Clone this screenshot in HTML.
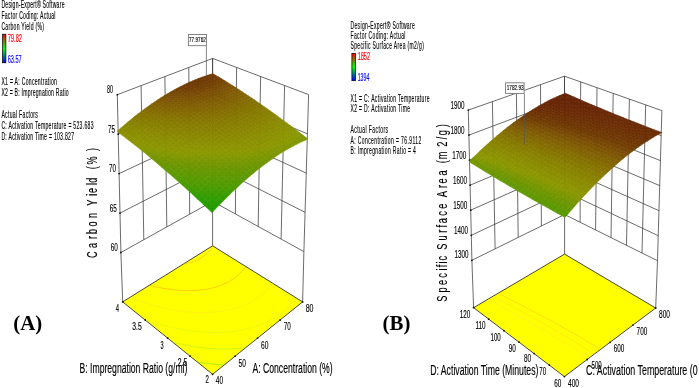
<!DOCTYPE html>
<html><head><meta charset="utf-8"><style>
html,body{margin:0;padding:0;background:#fff;width:699px;height:388px;overflow:hidden}
svg{display:block;font-family:"Liberation Sans",sans-serif;will-change:transform}
text{stroke-width:.15px}
.g{stroke:#3a3a3a;stroke-width:.75;fill:none}
.f{stroke:#555;stroke-width:.7}
</style></head><body>
<svg width="699" height="388" viewBox="0 0 699 388">
<defs><linearGradient id="cb" x1="0" y1="0" x2="0" y2="1"><stop offset="0" stop-color="#ff0000"/><stop offset=".5" stop-color="#00ff00"/><stop offset="1" stop-color="#0000ff"/></linearGradient></defs>
<rect width="699" height="388" fill="#fff"/>
<line x1="117.3" y1="94.7" x2="120.9" y2="252.5" class="g"/>
<line x1="141.1" y1="85.6" x2="143.8" y2="239.7" class="g"/>
<line x1="164.9" y1="76.5" x2="166.8" y2="226.9" class="g"/>
<line x1="188.8" y1="67.5" x2="189.7" y2="214.2" class="g"/>
<line x1="212.6" y1="58.4" x2="212.6" y2="201.4" class="g"/>
<line x1="120.9" y1="252.5" x2="212.6" y2="201.4" class="g"/>
<line x1="120" y1="213.1" x2="212.6" y2="165.7" class="g"/>
<line x1="119.1" y1="173.6" x2="212.6" y2="129.9" class="g"/>
<line x1="118.2" y1="134.1" x2="212.6" y2="94.2" class="g"/>
<line x1="117.3" y1="94.7" x2="212.6" y2="58.4" class="g"/>
<line x1="212.6" y1="58.4" x2="212.6" y2="201.4" class="g"/>
<line x1="236.6" y1="67.5" x2="235.4" y2="213.9" class="g"/>
<line x1="260.6" y1="76.5" x2="258.2" y2="226.5" class="g"/>
<line x1="284.6" y1="85.5" x2="281.1" y2="239.1" class="g"/>
<line x1="308.6" y1="94.6" x2="303.9" y2="251.6" class="g"/>
<line x1="212.6" y1="201.4" x2="303.9" y2="251.6" class="g"/>
<line x1="212.6" y1="165.7" x2="305.1" y2="212.3" class="g"/>
<line x1="212.6" y1="129.9" x2="306.2" y2="173.1" class="g"/>
<line x1="212.6" y1="94.2" x2="307.4" y2="133.8" class="g"/>
<line x1="212.6" y1="58.4" x2="308.6" y2="94.6" class="g"/>
<line x1="120.9" y1="252.5" x2="122.7" y2="301.9" class="g"/>
<line x1="212.6" y1="201.4" x2="212.6" y2="245.8" class="g"/>
<line x1="303.9" y1="251.6" x2="302.6" y2="301.9" class="g"/>
<path d="M122.7 301.9 L212.6 374.3 L302.6 301.9 L212.6 245.8 Z" fill="#ffff00" stroke="#333" stroke-width=".9"/>
<path d="M200.9 362.5L200.4 362.4M200.4 362.4L197.9 362M197.9 362L197.2 361.9M204.6 363.1L202.9 362.8M202.9 362.8L200.9 362.5M208.1 363.5L208.1 363.5M208.1 363.5L205.5 363.2M205.5 363.2L204.6 363.1M211.6 363.9L210.7 363.8M210.7 363.8L208.1 363.5M215 364.3L213.4 364.1M213.4 364.1L211.6 363.9M218.4 364.5L216.1 364.4M216.1 364.4L215 364.3M221.7 364.8L221.5 364.7M221.5 364.7L218.8 364.6M218.8 364.6L218.4 364.5M224.3 364.9L221.7 364.8" fill="none" stroke="#50e030" stroke-width=".6" stroke-opacity=".75"/>
<path d="M176.8 343.2L176.5 343.1M176.5 343.1L174.2 342.6M174.2 342.6L172.7 342.2M180.9 344.1L178.9 343.7M178.9 343.7L176.8 343.2M184.8 344.9L183.7 344.7M183.7 344.7L181.3 344.2M181.3 344.2L180.9 344.1M188.6 345.7L186.2 345.2M186.2 345.2L184.8 344.9M192.3 346.3L191.2 346.1M191.2 346.1L188.7 345.7M188.7 345.7L188.6 345.7M196 346.9L193.7 346.5M193.7 346.5L192.3 346.3M199.5 347.4L198.8 347.3M198.8 347.3L196.2 346.9M196.2 346.9L196 346.9M203 347.8L201.4 347.6M201.4 347.6L199.5 347.4M206.5 348.2L204.1 347.9M204.1 347.9L203 347.8M209.8 348.5L209.5 348.4M209.5 348.4L206.7 348.2M206.7 348.2L206.5 348.2M213.1 348.7L212.2 348.6M212.2 348.6L209.8 348.5M216.3 348.8L215 348.8M215 348.8L213.1 348.7M219.5 349L217.8 348.9M217.8 348.9L216.3 348.8M222.6 349L220.7 349M220.7 349L219.5 349M225.6 349L223.6 349M223.6 349L222.6 349M228.6 348.9L226.6 349M226.6 349L225.6 349M231.5 348.8L229.6 348.9M229.6 348.9L228.6 348.9M234.4 348.7L232.7 348.8M232.7 348.8L231.5 348.8M237.2 348.5L235.9 348.6M235.9 348.6L234.4 348.7M240 348.2L239.2 348.3M239.2 348.3L237.2 348.5M242.7 347.9L242.5 347.9M242.5 347.9L240 348.2M245.3 347.6L242.7 347.9M246 347.5L245.3 347.6" fill="none" stroke="#90ee30" stroke-width=".6" stroke-opacity=".75"/>
<path d="M149.1 321L147.7 320.5M147.7 320.5L145.6 319.7M145.6 319.7L144.3 319.3M153.8 322.5L152.1 321.9M152.1 321.9L149.9 321.2M149.9 321.2L149.1 321M158.2 323.8L156.6 323.3M156.6 323.3L154.4 322.6M154.4 322.6L153.8 322.5M162.6 325L161.2 324.7M161.2 324.7L158.9 324M158.9 324L158.2 323.8M166.8 326.2L165.8 325.9M165.8 325.9L163.5 325.3M163.5 325.3L162.6 325M170.9 327.2L170.5 327.1M170.5 327.1L168.1 326.5M168.1 326.5L166.8 326.2M174.9 328.1L172.9 327.6M172.9 327.6L170.9 327.2M178.8 328.9L177.7 328.7M177.7 328.7L175.3 328.1M175.3 328.1L174.9 328.1M182.6 329.6L180.2 329.1M180.2 329.1L178.8 328.9M186.3 330.2L185.2 330M185.2 330L182.7 329.6M182.7 329.6L182.6 329.6M189.9 330.7L187.8 330.4M187.8 330.4L186.3 330.2M193.4 331.2L192.9 331.2M192.9 331.2L190.3 330.8M190.3 330.8L189.9 330.7M196.8 331.6L195.6 331.5M195.6 331.5L193.4 331.2M200.2 331.9L198.3 331.7M198.3 331.7L196.8 331.6M203.5 332.2L201 332M201 332L200.2 331.9M206.7 332.3L206.6 332.3M206.6 332.3L203.8 332.2M203.8 332.2L203.5 332.2M209.8 332.5L209.4 332.5M209.4 332.5L206.7 332.3M212.9 332.5L212.4 332.5M212.4 332.5L209.8 332.5M215.9 332.5L215.3 332.5M215.3 332.5L212.9 332.5M218.8 332.5L218.4 332.5M218.4 332.5L215.9 332.5M221.7 332.4L221.5 332.4M221.5 332.4L218.8 332.5M224.5 332.2L221.7 332.4M227.3 332L224.7 332.2M224.7 332.2L224.5 332.2M230 331.7L228 331.9M228 331.9L227.3 332M232.7 331.4L231.4 331.6M231.4 331.6L230 331.7M235.3 331.1L234.9 331.1M234.9 331.1L232.7 331.4M237.8 330.7L235.3 331.1M240.3 330.2L238.5 330.5M238.5 330.5L237.8 330.7M242.8 329.7L242.4 329.8M242.4 329.8L240.3 330.2M245.2 329.2L242.8 329.7M247.5 328.6L246.4 328.9M246.4 328.9L245.2 329.2M249.8 328L247.5 328.6M252.1 327.4L250.7 327.8M250.7 327.8L249.8 328M254.3 326.7L252.1 327.4M256.4 326L255.4 326.3M255.4 326.3L254.3 326.7M258.5 325.2L256.4 326M260.6 324.5L258.5 325.2M262.6 323.6L260.6 324.4M260.6 324.4L260.6 324.5M264.6 322.8L262.6 323.6M266.5 321.9L264.6 322.8M268.4 321L266.9 321.7M266.9 321.7L266.5 321.9M270.3 320L268.4 321M272.1 319L270.3 320M273.8 318L272.1 319M275.6 317L273.8 318M277.2 315.9L276 316.7M276 316.7L275.6 317M278.9 314.8L277.2 315.9M280.5 313.6L278.9 314.8M282 312.5L280.5 313.6M283.5 311.3L282 312.5M285 310.1L283.5 311.3M286.4 308.8L285 310.1M287.8 307.6L286.4 308.8M289.2 306.3L287.8 307.6M289.5 305.9L289.2 306.3M289.5 305.9L290.5 305M291.7 303.6L290.5 305M292.9 302.3L291.7 303.6M294.1 300.9L292.9 302.3M295.2 299.4L294.1 300.9M295.6 298.9L295.2 299.4M295.6 298.9L296.3 298" fill="none" stroke="#d0f030" stroke-width=".6" stroke-opacity=".75"/>
<path d="M130.4 297.4L130.1 297.3M135.5 299.3L134.3 298.9M134.3 298.9L132.2 298.1M132.2 298.1L130.4 297.4M140.5 301.1L138.6 300.4M138.6 300.4L136.5 299.7M136.5 299.7L135.5 299.3M145.3 302.7L145.1 302.6M145.1 302.6L142.9 301.9M142.9 301.9L140.8 301.2M140.8 301.2L140.5 301.1M149.9 304.1L149.6 304M149.6 304L147.4 303.3M147.4 303.3L145.3 302.7M154.3 305.4L154.1 305.4M154.1 305.4L151.8 304.7M151.8 304.7L149.9 304.1M158.5 306.5L156.4 306M156.4 306L154.3 305.4M162.6 307.6L161.1 307.2M161.1 307.2L158.7 306.6M158.7 306.6L158.5 306.5M166.6 308.5L165.9 308.3M165.9 308.3L163.5 307.8M163.5 307.8L162.6 307.6M170.5 309.3L168.3 308.8M168.3 308.8L166.6 308.5M174.3 310L173.2 309.8M173.2 309.8L170.8 309.3M170.8 309.3L170.5 309.3M177.9 310.6L175.8 310.2M175.8 310.2L174.3 310M181.5 311.1L180.9 311M180.9 311L178.3 310.6M178.3 310.6L177.9 310.6M184.9 311.5L183.6 311.4M183.6 311.4L181.5 311.1M188.3 311.9L186.2 311.7M186.2 311.7L184.9 311.5M191.5 312.1L188.9 311.9M188.9 311.9L188.3 311.9M194.7 312.4L194.5 312.3M194.5 312.3L191.7 312.2M191.7 312.2L191.5 312.1M197.8 312.5L197.4 312.5M197.4 312.5L194.7 312.4M200.9 312.6L200.4 312.5M200.4 312.5L197.8 312.5M203.8 312.6L203.4 312.6M203.4 312.6L200.9 312.6M206.7 312.5L206.5 312.5M206.5 312.5L203.8 312.6M209.6 312.4L206.7 312.5M212.3 312.2L209.7 312.4M209.7 312.4L209.6 312.4M215 312L213 312.2M213 312.2L212.3 312.2M217.6 311.7L216.4 311.8M216.4 311.8L215 312M220.2 311.4L220 311.4M220 311.4L217.6 311.7M222.7 311L220.2 311.4M225.1 310.6L223.8 310.8M223.8 310.8L222.7 311M227.5 310.1L225.1 310.6M229.9 309.6L227.8 310.1M227.8 310.1L227.5 310.1M232.1 309L232.1 309M232.1 309L229.9 309.6M234.4 308.4L232.1 309M236.5 307.8L234.4 308.4M238.6 307.1L236.8 307.7M236.8 307.7L236.5 307.8M240.7 306.4L238.6 307.1M242.7 305.6L242.3 305.8M242.3 305.8L240.7 306.4M244.7 304.8L242.7 305.6M246.6 304L244.7 304.8M248.4 303.1L246.6 304M250.3 302.2L249.4 302.6M249.4 302.6L248.4 303.1M252 301.2L250.3 302.2M253.7 300.2L252 301.2M255.4 299.2L253.7 300.2M257 298.2L255.4 299.2M258.6 297.1L257 298.2M260.1 296L258.6 297.1M261.6 294.8L260.1 296M263 293.7L261.6 294.8M264.4 292.5L263 293.7M265.7 291.2L264.4 292.5M267 290L265.7 291.2M268.2 288.7L267 290M268.6 288.3L268.2 288.7M268.6 288.3L269.4 287.4M270.5 286L269.4 287.4M271.6 284.6L270.5 286M272.6 283.2L271.6 284.6" fill="none" stroke="#ffe030" stroke-width=".6" stroke-opacity=".75"/>
<path d="M150.1 285.4L149.4 285.2M154.2 286.4L154.1 286.4M154.1 286.4L151.8 285.8M151.8 285.8L150.1 285.4M158.2 287.3L156.5 286.9M156.5 286.9L154.2 286.4M162 288.1L161.4 288M161.4 288L159 287.5M159 287.5L158.2 287.3M165.7 288.7L164 288.4M164 288.4L162 288.1M169.2 289.3L169.1 289.2M169.1 289.2L166.5 288.8M166.5 288.8L165.7 288.7M172.7 289.7L171.8 289.6M171.8 289.6L169.2 289.3M176 290.1L174.5 289.9M174.5 289.9L172.7 289.7M179.2 290.3L177.2 290.2M177.2 290.2L176 290.1M182.3 290.5L180 290.4M180 290.4L179.2 290.3M185.4 290.7L182.9 290.6M182.9 290.6L182.3 290.5M188.3 290.7L185.9 290.7M185.9 290.7L185.4 290.7M191.2 290.7L189 290.7M189 290.7L188.3 290.7M194 290.6L192.2 290.6M192.2 290.6L191.2 290.7M196.7 290.4L195.5 290.5M195.5 290.5L194 290.6M199.3 290.2L198.9 290.2M198.9 290.2L196.7 290.4M201.8 289.9L199.3 290.2M204.3 289.6L202.6 289.8M202.6 289.8L201.8 289.9M206.7 289.2L206.5 289.2M206.5 289.2L204.3 289.6M209 288.7L206.7 289.2M211.3 288.2L210.7 288.4M210.7 288.4L209 288.7M213.5 287.7L211.3 288.2M215.7 287.1L215.5 287.1M215.5 287.1L213.5 287.7M217.7 286.4L215.7 287.1M219.7 285.8L217.7 286.4M221.7 285L221.4 285.1M221.4 285.1L219.7 285.8M223.6 284.2L221.7 285M225.4 283.4L223.6 284.2M227.2 282.6L225.4 283.4M228.9 281.7L227.2 282.6M230.5 280.7L228.9 281.7M232.1 279.7L231.9 279.8M231.9 279.8L230.5 280.7M233.7 278.7L232.1 279.7M235.1 277.6L233.7 278.7M235.4 277.4L235.1 277.6M235.4 277.4L236.5 276.5M237.9 275.4L236.5 276.5M239.2 274.2L237.9 275.4M240.4 273L239.2 274.2M241.6 271.8L240.4 273M242.7 270.5L241.6 271.8M243.1 270.1L242.7 270.5M243.1 270.1L243.8 269.2M244.8 267.8L243.8 269.2M245.7 266.5L244.8 267.8" fill="none" stroke="#ff8a20" stroke-width=".6" stroke-opacity=".75"/>
<path d="M184.6 263.9L183.2 264.2M186.9 263.5L184.6 263.9M189 263L187.8 263.2M187.8 263.2L186.9 263.5M191 262.4L189 263M193 261.7L191 262.4M194.9 261.1L193.6 261.5M193.6 261.5L193 261.7M196.7 260.3L194.9 261.1M198.4 259.5L196.7 260.3M200 258.7L198.4 259.5M201.6 257.7L200 258.7M203.1 256.8L201.6 257.7M204.5 255.8L203.1 256.8M205.8 254.7L204.5 255.8M207 253.6L205.8 254.7M208.2 252.4L207 253.6M208.4 252.2L208.2 252.4M208.4 252.2L209.3 251.2M210.3 250L209.3 251.2M211.2 248.7L210.3 250M211.3 248.5L211.2 248.7M211.3 248.5L212 247.3M212.8 245.9L212 247.3" fill="none" stroke="#ffa030" stroke-width=".6" stroke-opacity=".75"/>
<circle cx="190.1" cy="356.2" r=".9" fill="#111"/>
<circle cx="167.7" cy="338.1" r=".9" fill="#111"/>
<circle cx="145.2" cy="320" r=".9" fill="#111"/>
<circle cx="235.1" cy="356.2" r=".9" fill="#111"/>
<circle cx="257.6" cy="338.1" r=".9" fill="#111"/>
<circle cx="280.1" cy="320" r=".9" fill="#111"/>
<circle cx="122.7" cy="301.9" r=".9" fill="#111"/>
<circle cx="212.6" cy="374.3" r=".9" fill="#111"/>
<circle cx="302.6" cy="301.9" r=".9" fill="#111"/>
<circle cx="120.9" cy="252.5" r=".9" fill="#111"/>
<circle cx="120" cy="213.1" r=".9" fill="#111"/>
<circle cx="119.1" cy="173.6" r=".9" fill="#111"/>
<circle cx="118.2" cy="134.2" r=".9" fill="#111"/>
<circle cx="117.3" cy="94.7" r=".9" fill="#111"/>
<path d="M213 76.2 L215.8 75.4 L213 73.7 L210.1 74.5Z" fill="#6f3804" stroke="#6f3804" stroke-width=".6"/>
<path d="M210.1 77.1 L213 76.2 L210.1 74.5 L207.2 75.4Z" fill="#6f3704" stroke="#6f3704" stroke-width=".6"/>
<path d="M215.8 77.9 L218.7 77.1 L215.8 75.4 L213 76.2Z" fill="#703b04" stroke="#703b04" stroke-width=".6"/>
<path d="M207.2 78.1 L210.1 77.1 L207.2 75.4 L204.3 76.4Z" fill="#6e3704" stroke="#6e3704" stroke-width=".6"/>
<path d="M212.9 78.8 L215.8 77.9 L213 76.2 L210.1 77.1Z" fill="#703a04" stroke="#703a04" stroke-width=".6"/>
<path d="M218.7 79.7 L221.6 78.8 L218.7 77.1 L215.8 77.9Z" fill="#723f04" stroke="#723f04" stroke-width=".6"/>
<path d="M204.2 79.1 L207.2 78.1 L204.3 76.4 L201.4 77.4Z" fill="#6e3604" stroke="#6e3604" stroke-width=".6"/>
<path d="M210 79.8 L212.9 78.8 L210.1 77.1 L207.2 78.1Z" fill="#703904" stroke="#703904" stroke-width=".6"/>
<path d="M215.8 80.6 L218.7 79.7 L215.8 77.9 L212.9 78.8Z" fill="#713d04" stroke="#713d04" stroke-width=".6"/>
<path d="M221.6 81.5 L224.5 80.6 L221.6 78.8 L218.7 79.7Z" fill="#754304" stroke="#754304" stroke-width=".6"/>
<path d="M201.3 80.3 L204.2 79.1 L201.4 77.4 L198.4 78.5Z" fill="#6e3604" stroke="#6e3604" stroke-width=".6"/>
<path d="M207.1 80.9 L210 79.8 L207.2 78.1 L204.2 79.1Z" fill="#6f3904" stroke="#6f3904" stroke-width=".6"/>
<path d="M212.9 81.6 L215.8 80.6 L212.9 78.8 L210 79.8Z" fill="#713c04" stroke="#713c04" stroke-width=".6"/>
<path d="M218.7 82.4 L221.6 81.5 L218.7 79.7 L215.8 80.6Z" fill="#744104" stroke="#744104" stroke-width=".6"/>
<path d="M224.5 83.3 L227.4 82.4 L224.5 80.6 L221.6 81.5Z" fill="#774805" stroke="#774805" stroke-width=".6"/>
<path d="M198.3 81.4 L201.3 80.3 L198.4 78.5 L195.5 79.7Z" fill="#6e3604" stroke="#6e3604" stroke-width=".6"/>
<path d="M204.1 82 L207.1 80.9 L204.2 79.1 L201.3 80.3Z" fill="#6f3804" stroke="#6f3804" stroke-width=".6"/>
<path d="M210 82.7 L212.9 81.6 L210 79.8 L207.1 80.9Z" fill="#713b04" stroke="#713b04" stroke-width=".6"/>
<path d="M215.8 83.4 L218.7 82.4 L215.8 80.6 L212.9 81.6Z" fill="#734004" stroke="#734004" stroke-width=".6"/>
<path d="M221.6 84.2 L224.5 83.3 L221.6 81.5 L218.7 82.4Z" fill="#764605" stroke="#764605" stroke-width=".6"/>
<path d="M227.5 85.1 L230.3 84.2 L227.4 82.4 L224.5 83.3Z" fill="#794d05" stroke="#794d05" stroke-width=".6"/>
<path d="M195.3 82.7 L198.3 81.4 L195.5 79.7 L192.5 81Z" fill="#6e3604" stroke="#6e3604" stroke-width=".6"/>
<path d="M201.2 83.2 L204.1 82 L201.3 80.3 L198.3 81.4Z" fill="#6f3804" stroke="#6f3804" stroke-width=".6"/>
<path d="M207 83.8 L210 82.7 L207.1 80.9 L204.1 82Z" fill="#703b04" stroke="#703b04" stroke-width=".6"/>
<path d="M212.9 84.5 L215.8 83.4 L212.9 81.6 L210 82.7Z" fill="#733f04" stroke="#733f04" stroke-width=".6"/>
<path d="M218.7 85.2 L221.6 84.2 L218.7 82.4 L215.8 83.4Z" fill="#754504" stroke="#754504" stroke-width=".6"/>
<path d="M224.6 86.1 L227.5 85.1 L224.5 83.3 L221.6 84.2Z" fill="#794b05" stroke="#794b05" stroke-width=".6"/>
<path d="M230.4 87 L233.3 86.1 L230.3 84.2 L227.5 85.1Z" fill="#7b5105" stroke="#7b5105" stroke-width=".6"/>
<path d="M198.2 84.5 L201.2 83.2 L198.3 81.4 L195.3 82.7Z" fill="#6f3904" stroke="#6f3904" stroke-width=".6"/>
<path d="M204 85 L207 83.8 L204.1 82 L201.2 83.2Z" fill="#703b04" stroke="#703b04" stroke-width=".6"/>
<path d="M209.9 85.6 L212.9 84.5 L210 82.7 L207 83.8Z" fill="#723f04" stroke="#723f04" stroke-width=".6"/>
<path d="M215.8 86.3 L218.7 85.2 L215.8 83.4 L212.9 84.5Z" fill="#754404" stroke="#754404" stroke-width=".6"/>
<path d="M221.7 87.1 L224.6 86.1 L221.6 84.2 L218.7 85.2Z" fill="#784a05" stroke="#784a05" stroke-width=".6"/>
<path d="M227.6 88 L230.4 87 L227.5 85.1 L224.6 86.1Z" fill="#7b5005" stroke="#7b5005" stroke-width=".6"/>
<path d="M192.3 84 L195.3 82.7 L192.5 81 L189.4 82.3Z" fill="#6e3704" stroke="#6e3704" stroke-width=".6"/>
<path d="M233.4 88.9 L236.3 88 L233.3 86.1 L230.4 87Z" fill="#7d5504" stroke="#7d5504" stroke-width=".6"/>
<path d="M201 86.3 L204 85 L201.2 83.2 L198.2 84.5Z" fill="#713b04" stroke="#713b04" stroke-width=".6"/>
<path d="M206.9 86.9 L209.9 85.6 L207 83.8 L204 85Z" fill="#723f04" stroke="#723f04" stroke-width=".6"/>
<path d="M212.8 87.5 L215.8 86.3 L212.9 84.5 L209.9 85.6Z" fill="#754404" stroke="#754404" stroke-width=".6"/>
<path d="M218.7 88.2 L221.7 87.1 L218.7 85.2 L215.8 86.3Z" fill="#774905" stroke="#774905" stroke-width=".6"/>
<path d="M224.6 89 L227.6 88 L224.6 86.1 L221.7 87.1Z" fill="#7a4f05" stroke="#7a4f05" stroke-width=".6"/>
<path d="M189.2 85.5 L192.3 84 L189.4 82.3 L186.4 83.7Z" fill="#6f3804" stroke="#6f3804" stroke-width=".6"/>
<path d="M195.1 85.8 L198.2 84.5 L195.3 82.7 L192.3 84Z" fill="#703904" stroke="#703904" stroke-width=".6"/>
<path d="M230.5 89.9 L233.4 88.9 L230.4 87 L227.6 88Z" fill="#7c5404" stroke="#7c5404" stroke-width=".6"/>
<path d="M236.4 90.9 L239.3 89.9 L236.3 88 L233.4 88.9Z" fill="#7e5904" stroke="#7e5904" stroke-width=".6"/>
<path d="M186.2 86.9 L189.2 85.5 L186.4 83.7 L183.3 85.2Z" fill="#6f3904" stroke="#6f3904" stroke-width=".6"/>
<path d="M192.1 87.3 L195.1 85.8 L192.3 84 L189.2 85.5Z" fill="#703a04" stroke="#703a04" stroke-width=".6"/>
<path d="M198 87.7 L201 86.3 L198.2 84.5 L195.1 85.8Z" fill="#713c04" stroke="#713c04" stroke-width=".6"/>
<path d="M203.9 88.2 L206.9 86.9 L204 85 L201 86.3Z" fill="#733f04" stroke="#733f04" stroke-width=".6"/>
<path d="M209.9 88.7 L212.8 87.5 L209.9 85.6 L206.9 86.9Z" fill="#754404" stroke="#754404" stroke-width=".6"/>
<path d="M215.8 89.4 L218.7 88.2 L215.8 86.3 L212.8 87.5Z" fill="#774805" stroke="#774805" stroke-width=".6"/>
<path d="M221.7 90.1 L224.6 89 L221.7 87.1 L218.7 88.2Z" fill="#7a4e05" stroke="#7a4e05" stroke-width=".6"/>
<path d="M227.6 90.9 L230.5 89.9 L227.6 88 L224.6 89Z" fill="#7c5305" stroke="#7c5305" stroke-width=".6"/>
<path d="M233.6 91.9 L236.4 90.9 L233.4 88.9 L230.5 89.9Z" fill="#7e5804" stroke="#7e5804" stroke-width=".6"/>
<path d="M239.5 92.8 L242.3 91.9 L239.3 89.9 L236.4 90.9Z" fill="#805d03" stroke="#805d03" stroke-width=".6"/>
<path d="M183.1 88.5 L186.2 86.9 L183.3 85.2 L180.2 86.7Z" fill="#703a04" stroke="#703a04" stroke-width=".6"/>
<path d="M189 88.8 L192.1 87.3 L189.2 85.5 L186.2 86.9Z" fill="#713b04" stroke="#713b04" stroke-width=".6"/>
<path d="M195 89.1 L198 87.7 L195.1 85.8 L192.1 87.3Z" fill="#723d04" stroke="#723d04" stroke-width=".6"/>
<path d="M200.9 89.5 L203.9 88.2 L201 86.3 L198 87.7Z" fill="#734004" stroke="#734004" stroke-width=".6"/>
<path d="M206.9 90 L209.9 88.7 L206.9 86.9 L203.9 88.2Z" fill="#754404" stroke="#754404" stroke-width=".6"/>
<path d="M212.8 90.6 L215.8 89.4 L212.8 87.5 L209.9 88.7Z" fill="#774905" stroke="#774905" stroke-width=".6"/>
<path d="M218.8 91.3 L221.7 90.1 L218.7 88.2 L215.8 89.4Z" fill="#7a4e05" stroke="#7a4e05" stroke-width=".6"/>
<path d="M224.7 92.1 L227.6 90.9 L224.6 89 L221.7 90.1Z" fill="#7c5205" stroke="#7c5205" stroke-width=".6"/>
<path d="M230.7 92.9 L233.6 91.9 L230.5 89.9 L227.6 90.9Z" fill="#7d5704" stroke="#7d5704" stroke-width=".6"/>
<path d="M236.6 93.8 L239.5 92.8 L236.4 90.9 L233.6 91.9Z" fill="#7f5c04" stroke="#7f5c04" stroke-width=".6"/>
<path d="M242.5 94.9 L245.4 93.9 L242.3 91.9 L239.5 92.8Z" fill="#826103" stroke="#826103" stroke-width=".6"/>
<path d="M209.8 91.9 L212.8 90.6 L209.9 88.7 L206.9 90Z" fill="#784905" stroke="#784905" stroke-width=".6"/>
<path d="M215.8 92.6 L218.8 91.3 L215.8 89.4 L212.8 90.6Z" fill="#7a4e05" stroke="#7a4e05" stroke-width=".6"/>
<path d="M179.9 90.1 L183.1 88.5 L180.2 86.7 L177.1 88.3Z" fill="#713c04" stroke="#713c04" stroke-width=".6"/>
<path d="M185.9 90.3 L189 88.8 L186.2 86.9 L183.1 88.5Z" fill="#713d04" stroke="#713d04" stroke-width=".6"/>
<path d="M191.9 90.6 L195 89.1 L192.1 87.3 L189 88.8Z" fill="#733f04" stroke="#733f04" stroke-width=".6"/>
<path d="M197.9 91 L200.9 89.5 L198 87.7 L195 89.1Z" fill="#744204" stroke="#744204" stroke-width=".6"/>
<path d="M203.8 91.4 L206.9 90 L203.9 88.2 L200.9 89.5Z" fill="#764505" stroke="#764505" stroke-width=".6"/>
<path d="M221.8 93.3 L224.7 92.1 L221.7 90.1 L218.8 91.3Z" fill="#7b5205" stroke="#7b5205" stroke-width=".6"/>
<path d="M227.7 94 L230.7 92.9 L227.6 90.9 L224.7 92.1Z" fill="#7d5604" stroke="#7d5604" stroke-width=".6"/>
<path d="M233.7 94.9 L236.6 93.8 L233.6 91.9 L230.7 92.9Z" fill="#7f5b04" stroke="#7f5b04" stroke-width=".6"/>
<path d="M239.6 95.9 L242.5 94.9 L239.5 92.8 L236.6 93.8Z" fill="#816003" stroke="#816003" stroke-width=".6"/>
<path d="M245.6 96.9 L248.5 96 L245.4 93.9 L242.5 94.9Z" fill="#836502" stroke="#836502" stroke-width=".6"/>
<path d="M212.8 93.9 L215.8 92.6 L212.8 90.6 L209.8 91.9Z" fill="#7a4e05" stroke="#7a4e05" stroke-width=".6"/>
<path d="M176.8 91.8 L179.9 90.1 L177.1 88.3 L174 90Z" fill="#723f04" stroke="#723f04" stroke-width=".6"/>
<path d="M182.8 92 L185.9 90.3 L183.1 88.5 L179.9 90.1Z" fill="#734004" stroke="#734004" stroke-width=".6"/>
<path d="M188.8 92.2 L191.9 90.6 L189 88.8 L185.9 90.3Z" fill="#744104" stroke="#744104" stroke-width=".6"/>
<path d="M194.8 92.5 L197.9 91 L195 89.1 L191.9 90.6Z" fill="#754404" stroke="#754404" stroke-width=".6"/>
<path d="M200.8 92.9 L203.8 91.4 L200.9 89.5 L197.9 91Z" fill="#764705" stroke="#764705" stroke-width=".6"/>
<path d="M206.8 93.3 L209.8 91.9 L206.9 90 L203.8 91.4Z" fill="#784a05" stroke="#784a05" stroke-width=".6"/>
<path d="M218.8 94.5 L221.8 93.3 L218.8 91.3 L215.8 92.6Z" fill="#7b5205" stroke="#7b5205" stroke-width=".6"/>
<path d="M224.8 95.3 L227.7 94 L224.7 92.1 L221.8 93.3Z" fill="#7d5604" stroke="#7d5604" stroke-width=".6"/>
<path d="M230.8 96.1 L233.7 94.9 L230.7 92.9 L227.7 94Z" fill="#7f5a04" stroke="#7f5a04" stroke-width=".6"/>
<path d="M236.7 97 L239.6 95.9 L236.6 93.8 L233.7 94.9Z" fill="#815f03" stroke="#815f03" stroke-width=".6"/>
<path d="M242.7 97.9 L245.6 96.9 L242.5 94.9 L239.6 95.9Z" fill="#826403" stroke="#826403" stroke-width=".6"/>
<path d="M248.7 99 L251.6 98 L248.5 96 L245.6 96.9Z" fill="#836902" stroke="#836902" stroke-width=".6"/>
<path d="M173.7 93.6 L176.8 91.8 L174 90 L170.8 91.8Z" fill="#744304" stroke="#744304" stroke-width=".6"/>
<path d="M179.7 93.7 L182.8 92 L179.9 90.1 L176.8 91.8Z" fill="#754304" stroke="#754304" stroke-width=".6"/>
<path d="M185.7 93.8 L188.8 92.2 L185.9 90.3 L182.8 92Z" fill="#754404" stroke="#754404" stroke-width=".6"/>
<path d="M191.7 94.1 L194.8 92.5 L191.9 90.6 L188.8 92.2Z" fill="#764605" stroke="#764605" stroke-width=".6"/>
<path d="M197.7 94.4 L200.8 92.9 L197.9 91 L194.8 92.5Z" fill="#774805" stroke="#774805" stroke-width=".6"/>
<path d="M203.7 94.8 L206.8 93.3 L203.8 91.4 L200.8 92.9Z" fill="#794b05" stroke="#794b05" stroke-width=".6"/>
<path d="M209.8 95.3 L212.8 93.9 L209.8 91.9 L206.8 93.3Z" fill="#7a4f05" stroke="#7a4f05" stroke-width=".6"/>
<path d="M215.8 95.9 L218.8 94.5 L215.8 92.6 L212.8 93.9Z" fill="#7c5205" stroke="#7c5205" stroke-width=".6"/>
<path d="M221.8 96.5 L224.8 95.3 L221.8 93.3 L218.8 94.5Z" fill="#7d5604" stroke="#7d5604" stroke-width=".6"/>
<path d="M227.8 97.3 L230.8 96.1 L227.7 94 L224.8 95.3Z" fill="#7f5a04" stroke="#7f5a04" stroke-width=".6"/>
<path d="M233.8 98.1 L236.7 97 L233.7 94.9 L230.8 96.1Z" fill="#805e03" stroke="#805e03" stroke-width=".6"/>
<path d="M239.8 99 L242.7 97.9 L239.6 95.9 L236.7 97Z" fill="#826303" stroke="#826303" stroke-width=".6"/>
<path d="M245.8 100 L248.7 99 L245.6 96.9 L242.7 97.9Z" fill="#836802" stroke="#836802" stroke-width=".6"/>
<path d="M251.8 101.1 L254.7 100.1 L251.6 98 L248.7 99Z" fill="#846d01" stroke="#846d01" stroke-width=".6"/>
<path d="M170.5 95.5 L173.7 93.6 L170.8 91.8 L167.6 93.7Z" fill="#764705" stroke="#764705" stroke-width=".6"/>
<path d="M176.5 95.5 L179.7 93.7 L176.8 91.8 L173.7 93.6Z" fill="#764705" stroke="#764705" stroke-width=".6"/>
<path d="M182.6 95.6 L185.7 93.8 L182.8 92 L179.7 93.7Z" fill="#774805" stroke="#774805" stroke-width=".6"/>
<path d="M188.6 95.8 L191.7 94.1 L188.8 92.2 L185.7 93.8Z" fill="#774905" stroke="#774905" stroke-width=".6"/>
<path d="M194.6 96 L197.7 94.4 L194.8 92.5 L191.7 94.1Z" fill="#784b05" stroke="#784b05" stroke-width=".6"/>
<path d="M200.7 96.4 L203.7 94.8 L200.8 92.9 L197.7 94.4Z" fill="#7a4d05" stroke="#7a4d05" stroke-width=".6"/>
<path d="M206.7 96.8 L209.8 95.3 L206.8 93.3 L203.7 94.8Z" fill="#7b5005" stroke="#7b5005" stroke-width=".6"/>
<path d="M218.8 97.9 L221.8 96.5 L218.8 94.5 L215.8 95.9Z" fill="#7d5604" stroke="#7d5604" stroke-width=".6"/>
<path d="M224.8 98.6 L227.8 97.3 L224.8 95.3 L221.8 96.5Z" fill="#7f5a04" stroke="#7f5a04" stroke-width=".6"/>
<path d="M230.9 99.3 L233.8 98.1 L230.8 96.1 L227.8 97.3Z" fill="#805e03" stroke="#805e03" stroke-width=".6"/>
<path d="M236.9 100.2 L239.8 99 L236.7 97 L233.8 98.1Z" fill="#826203" stroke="#826203" stroke-width=".6"/>
<path d="M242.9 101.1 L245.8 100 L242.7 97.9 L239.8 99Z" fill="#836702" stroke="#836702" stroke-width=".6"/>
<path d="M248.9 102.2 L251.8 101.1 L248.7 99 L245.8 100Z" fill="#846b01" stroke="#846b01" stroke-width=".6"/>
<path d="M255 103.3 L257.8 102.3 L254.7 100.1 L251.8 101.1Z" fill="#857100" stroke="#857100" stroke-width=".6"/>
<path d="M212.8 97.3 L215.8 95.9 L212.8 93.9 L209.8 95.3Z" fill="#7c5305" stroke="#7c5305" stroke-width=".6"/>
<path d="M167.3 97.4 L170.5 95.5 L167.6 93.7 L164.4 95.6Z" fill="#794b05" stroke="#794b05" stroke-width=".6"/>
<path d="M173.3 97.4 L176.5 95.5 L173.7 93.6 L170.5 95.5Z" fill="#794b05" stroke="#794b05" stroke-width=".6"/>
<path d="M179.4 97.4 L182.6 95.6 L179.7 93.7 L176.5 95.5Z" fill="#794b05" stroke="#794b05" stroke-width=".6"/>
<path d="M185.5 97.5 L188.6 95.8 L185.7 93.8 L182.6 95.6Z" fill="#794c05" stroke="#794c05" stroke-width=".6"/>
<path d="M191.5 97.7 L194.6 96 L191.7 94.1 L188.6 95.8Z" fill="#7a4e05" stroke="#7a4e05" stroke-width=".6"/>
<path d="M197.6 98 L200.7 96.4 L197.7 94.4 L194.6 96Z" fill="#7b4f05" stroke="#7b4f05" stroke-width=".6"/>
<path d="M203.6 98.3 L206.7 96.8 L203.7 94.8 L200.7 96.4Z" fill="#7b5105" stroke="#7b5105" stroke-width=".6"/>
<path d="M221.8 99.9 L224.8 98.6 L221.8 96.5 L218.8 97.9Z" fill="#7f5a04" stroke="#7f5a04" stroke-width=".6"/>
<path d="M227.9 100.7 L230.9 99.3 L227.8 97.3 L224.8 98.6Z" fill="#805e03" stroke="#805e03" stroke-width=".6"/>
<path d="M233.9 101.4 L236.9 100.2 L233.8 98.1 L230.9 99.3Z" fill="#826203" stroke="#826203" stroke-width=".6"/>
<path d="M240 102.3 L242.9 101.1 L239.8 99 L236.9 100.2Z" fill="#836602" stroke="#836602" stroke-width=".6"/>
<path d="M246 103.3 L248.9 102.2 L245.8 100 L242.9 101.1Z" fill="#846b01" stroke="#846b01" stroke-width=".6"/>
<path d="M252.1 104.3 L255 103.3 L251.8 101.1 L248.9 102.2Z" fill="#846f01" stroke="#846f01" stroke-width=".6"/>
<path d="M258.1 105.5 L261 104.5 L257.8 102.3 L255 103.3Z" fill="#857400" stroke="#857400" stroke-width=".6"/>
<path d="M209.7 98.8 L212.8 97.3 L209.8 95.3 L206.7 96.8Z" fill="#7c5404" stroke="#7c5404" stroke-width=".6"/>
<path d="M215.8 99.3 L218.8 97.9 L215.8 95.9 L212.8 97.3Z" fill="#7d5704" stroke="#7d5704" stroke-width=".6"/>
<path d="M164 99.5 L167.3 97.4 L164.4 95.6 L161.2 97.6Z" fill="#7b5005" stroke="#7b5005" stroke-width=".6"/>
<path d="M170.1 99.3 L173.3 97.4 L170.5 95.5 L167.3 97.4Z" fill="#7b4f05" stroke="#7b4f05" stroke-width=".6"/>
<path d="M176.2 99.3 L179.4 97.4 L176.5 95.5 L173.3 97.4Z" fill="#7a4f05" stroke="#7a4f05" stroke-width=".6"/>
<path d="M182.3 99.3 L185.5 97.5 L182.6 95.6 L179.4 97.4Z" fill="#7b4f05" stroke="#7b4f05" stroke-width=".6"/>
<path d="M188.4 99.5 L191.5 97.7 L188.6 95.8 L185.5 97.5Z" fill="#7b5005" stroke="#7b5005" stroke-width=".6"/>
<path d="M194.5 99.7 L197.6 98 L194.6 96 L191.5 97.7Z" fill="#7b5105" stroke="#7b5105" stroke-width=".6"/>
<path d="M200.6 100 L203.6 98.3 L200.7 96.4 L197.6 98Z" fill="#7c5304" stroke="#7c5304" stroke-width=".6"/>
<path d="M206.6 100.4 L209.7 98.8 L206.7 96.8 L203.6 98.3Z" fill="#7d5504" stroke="#7d5504" stroke-width=".6"/>
<path d="M212.7 100.8 L215.8 99.3 L212.8 97.3 L209.7 98.8Z" fill="#7e5804" stroke="#7e5804" stroke-width=".6"/>
<path d="M218.8 101.4 L221.8 99.9 L218.8 97.9 L215.8 99.3Z" fill="#7f5b04" stroke="#7f5b04" stroke-width=".6"/>
<path d="M224.9 102 L227.9 100.7 L224.8 98.6 L221.8 99.9Z" fill="#805e03" stroke="#805e03" stroke-width=".6"/>
<path d="M231 102.8 L233.9 101.4 L230.9 99.3 L227.9 100.7Z" fill="#826203" stroke="#826203" stroke-width=".6"/>
<path d="M237.1 103.6 L240 102.3 L236.9 100.2 L233.9 101.4Z" fill="#836602" stroke="#836602" stroke-width=".6"/>
<path d="M243.1 104.5 L246 103.3 L242.9 101.1 L240 102.3Z" fill="#836a02" stroke="#836a02" stroke-width=".6"/>
<path d="M249.2 105.5 L252.1 104.3 L248.9 102.2 L246 103.3Z" fill="#846f01" stroke="#846f01" stroke-width=".6"/>
<path d="M255.3 106.5 L258.1 105.5 L255 103.3 L252.1 104.3Z" fill="#857300" stroke="#857300" stroke-width=".6"/>
<path d="M261.3 107.7 L264.2 106.7 L261 104.5 L258.1 105.5Z" fill="#867800" stroke="#867800" stroke-width=".6"/>
<path d="M160.8 101.6 L164 99.5 L161.2 97.6 L157.9 99.7Z" fill="#7c5404" stroke="#7c5404" stroke-width=".6"/>
<path d="M166.9 101.4 L170.1 99.3 L167.3 97.4 L164 99.5Z" fill="#7c5304" stroke="#7c5304" stroke-width=".6"/>
<path d="M173 101.3 L176.2 99.3 L173.3 97.4 L170.1 99.3Z" fill="#7c5305" stroke="#7c5305" stroke-width=".6"/>
<path d="M179.1 101.2 L182.3 99.3 L179.4 97.4 L176.2 99.3Z" fill="#7c5305" stroke="#7c5305" stroke-width=".6"/>
<path d="M185.2 101.3 L188.4 99.5 L185.5 97.5 L182.3 99.3Z" fill="#7c5305" stroke="#7c5305" stroke-width=".6"/>
<path d="M191.3 101.5 L194.5 99.7 L191.5 97.7 L188.4 99.5Z" fill="#7c5404" stroke="#7c5404" stroke-width=".6"/>
<path d="M197.4 101.7 L200.6 100 L197.6 98 L194.5 99.7Z" fill="#7d5504" stroke="#7d5504" stroke-width=".6"/>
<path d="M203.5 102 L206.6 100.4 L203.6 98.3 L200.6 100Z" fill="#7e5704" stroke="#7e5704" stroke-width=".6"/>
<path d="M209.7 102.4 L212.7 100.8 L209.7 98.8 L206.6 100.4Z" fill="#7e5904" stroke="#7e5904" stroke-width=".6"/>
<path d="M215.8 102.9 L218.8 101.4 L215.8 99.3 L212.7 100.8Z" fill="#805c04" stroke="#805c04" stroke-width=".6"/>
<path d="M221.9 103.5 L224.9 102 L221.8 99.9 L218.8 101.4Z" fill="#815f03" stroke="#815f03" stroke-width=".6"/>
<path d="M228 104.2 L231 102.8 L227.9 100.7 L224.9 102Z" fill="#826203" stroke="#826203" stroke-width=".6"/>
<path d="M234.1 104.9 L237.1 103.6 L233.9 101.4 L231 102.8Z" fill="#836602" stroke="#836602" stroke-width=".6"/>
<path d="M240.2 105.8 L243.1 104.5 L240 102.3 L237.1 103.6Z" fill="#836a02" stroke="#836a02" stroke-width=".6"/>
<path d="M246.3 106.7 L249.2 105.5 L246 103.3 L243.1 104.5Z" fill="#846e01" stroke="#846e01" stroke-width=".6"/>
<path d="M252.4 107.7 L255.3 106.5 L252.1 104.3 L249.2 105.5Z" fill="#857300" stroke="#857300" stroke-width=".6"/>
<path d="M258.5 108.8 L261.3 107.7 L258.1 105.5 L255.3 106.5Z" fill="#867700" stroke="#867700" stroke-width=".6"/>
<path d="M264.5 110 L267.4 109 L264.2 106.7 L261.3 107.7Z" fill="#877b00" stroke="#877b00" stroke-width=".6"/>
<path d="M163.6 103.5 L166.9 101.4 L164 99.5 L160.8 101.6Z" fill="#7e5704" stroke="#7e5704" stroke-width=".6"/>
<path d="M169.8 103.3 L173 101.3 L170.1 99.3 L166.9 101.4Z" fill="#7d5604" stroke="#7d5604" stroke-width=".6"/>
<path d="M175.9 103.2 L179.1 101.2 L176.2 99.3 L173 101.3Z" fill="#7d5604" stroke="#7d5604" stroke-width=".6"/>
<path d="M182 103.2 L185.2 101.3 L182.3 99.3 L179.1 101.2Z" fill="#7d5604" stroke="#7d5604" stroke-width=".6"/>
<path d="M188.2 103.3 L191.3 101.5 L188.4 99.5 L185.2 101.3Z" fill="#7d5704" stroke="#7d5704" stroke-width=".6"/>
<path d="M194.3 103.5 L197.4 101.7 L194.5 99.7 L191.3 101.5Z" fill="#7e5804" stroke="#7e5804" stroke-width=".6"/>
<path d="M231.1 106.3 L234.1 104.9 L231 102.8 L228 104.2Z" fill="#836602" stroke="#836602" stroke-width=".6"/>
<path d="M237.2 107.1 L240.2 105.8 L237.1 103.6 L234.1 104.9Z" fill="#836a02" stroke="#836a02" stroke-width=".6"/>
<path d="M243.3 108 L246.3 106.7 L243.1 104.5 L240.2 105.8Z" fill="#846e01" stroke="#846e01" stroke-width=".6"/>
<path d="M249.5 108.9 L252.4 107.7 L249.2 105.5 L246.3 106.7Z" fill="#857200" stroke="#857200" stroke-width=".6"/>
<path d="M255.6 110 L258.5 108.8 L255.3 106.5 L252.4 107.7Z" fill="#867600" stroke="#867600" stroke-width=".6"/>
<path d="M261.7 111.1 L264.5 110 L261.3 107.7 L258.5 108.8Z" fill="#877a00" stroke="#877a00" stroke-width=".6"/>
<path d="M157.5 103.8 L160.8 101.6 L157.9 99.7 L154.7 101.9Z" fill="#7e5904" stroke="#7e5904" stroke-width=".6"/>
<path d="M200.4 103.7 L203.5 102 L200.6 100 L197.4 101.7Z" fill="#7e5904" stroke="#7e5904" stroke-width=".6"/>
<path d="M206.6 104.1 L209.7 102.4 L206.6 100.4 L203.5 102Z" fill="#7f5b04" stroke="#7f5b04" stroke-width=".6"/>
<path d="M212.7 104.5 L215.8 102.9 L212.7 100.8 L209.7 102.4Z" fill="#805d03" stroke="#805d03" stroke-width=".6"/>
<path d="M218.8 105 L221.9 103.5 L218.8 101.4 L215.8 102.9Z" fill="#816003" stroke="#816003" stroke-width=".6"/>
<path d="M225 105.6 L228 104.2 L224.9 102 L221.9 103.5Z" fill="#826303" stroke="#826303" stroke-width=".6"/>
<path d="M267.8 112.3 L270.6 111.2 L267.4 109 L264.5 110Z" fill="#887e00" stroke="#887e00" stroke-width=".6"/>
<path d="M154.2 106 L157.5 103.8 L154.7 101.9 L151.4 104.1Z" fill="#805e03" stroke="#805e03" stroke-width=".6"/>
<path d="M160.3 105.7 L163.6 103.5 L160.8 101.6 L157.5 103.8Z" fill="#805c04" stroke="#805c04" stroke-width=".6"/>
<path d="M166.5 105.5 L169.8 103.3 L166.9 101.4 L163.6 103.5Z" fill="#7f5b04" stroke="#7f5b04" stroke-width=".6"/>
<path d="M172.7 105.3 L175.9 103.2 L173 101.3 L169.8 103.3Z" fill="#7f5a04" stroke="#7f5a04" stroke-width=".6"/>
<path d="M178.8 105.2 L182 103.2 L179.1 101.2 L175.9 103.2Z" fill="#7f5a04" stroke="#7f5a04" stroke-width=".6"/>
<path d="M185 105.2 L188.2 103.3 L185.2 101.3 L182 103.2Z" fill="#7f5a04" stroke="#7f5a04" stroke-width=".6"/>
<path d="M191.1 105.4 L194.3 103.5 L191.3 101.5 L188.2 103.3Z" fill="#7f5a04" stroke="#7f5a04" stroke-width=".6"/>
<path d="M234.2 108.5 L237.2 107.1 L234.1 104.9 L231.1 106.3Z" fill="#836a02" stroke="#836a02" stroke-width=".6"/>
<path d="M240.4 109.3 L243.3 108 L240.2 105.8 L237.2 107.1Z" fill="#846e01" stroke="#846e01" stroke-width=".6"/>
<path d="M246.5 110.2 L249.5 108.9 L246.3 106.7 L243.3 108Z" fill="#857200" stroke="#857200" stroke-width=".6"/>
<path d="M252.7 111.2 L255.6 110 L252.4 107.7 L249.5 108.9Z" fill="#867500" stroke="#867500" stroke-width=".6"/>
<path d="M258.8 112.2 L261.7 111.1 L258.5 108.8 L255.6 110Z" fill="#867900" stroke="#867900" stroke-width=".6"/>
<path d="M264.9 113.4 L267.8 112.3 L264.5 110 L261.7 111.1Z" fill="#877d00" stroke="#877d00" stroke-width=".6"/>
<path d="M271 114.6 L273.9 113.6 L270.6 111.2 L267.8 112.3Z" fill="#888100" stroke="#888100" stroke-width=".6"/>
<path d="M197.3 105.5 L200.4 103.7 L197.4 101.7 L194.3 103.5Z" fill="#7f5b04" stroke="#7f5b04" stroke-width=".6"/>
<path d="M203.4 105.8 L206.6 104.1 L203.5 102 L200.4 103.7Z" fill="#805d04" stroke="#805d04" stroke-width=".6"/>
<path d="M209.6 106.2 L212.7 104.5 L209.7 102.4 L206.6 104.1Z" fill="#815f03" stroke="#815f03" stroke-width=".6"/>
<path d="M215.8 106.6 L218.8 105 L215.8 102.9 L212.7 104.5Z" fill="#826103" stroke="#826103" stroke-width=".6"/>
<path d="M221.9 107.2 L225 105.6 L221.9 103.5 L218.8 105Z" fill="#826403" stroke="#826403" stroke-width=".6"/>
<path d="M228.1 107.8 L231.1 106.3 L228 104.2 L225 105.6Z" fill="#836702" stroke="#836702" stroke-width=".6"/>
<path d="M150.9 108.4 L154.2 106 L151.4 104.1 L148.1 106.5Z" fill="#826303" stroke="#826303" stroke-width=".6"/>
<path d="M157 108 L160.3 105.7 L157.5 103.8 L154.2 106Z" fill="#816103" stroke="#816103" stroke-width=".6"/>
<path d="M163.2 107.7 L166.5 105.5 L163.6 103.5 L160.3 105.7Z" fill="#815f03" stroke="#815f03" stroke-width=".6"/>
<path d="M169.4 107.5 L172.7 105.3 L169.8 103.3 L166.5 105.5Z" fill="#805e03" stroke="#805e03" stroke-width=".6"/>
<path d="M175.6 107.3 L178.8 105.2 L175.9 103.2 L172.7 105.3Z" fill="#805d03" stroke="#805d03" stroke-width=".6"/>
<path d="M181.8 107.3 L185 105.2 L182 103.2 L178.8 105.2Z" fill="#805d03" stroke="#805d03" stroke-width=".6"/>
<path d="M187.9 107.3 L191.1 105.4 L188.2 103.3 L185 105.2Z" fill="#805d03" stroke="#805d03" stroke-width=".6"/>
<path d="M194.1 107.4 L197.3 105.5 L194.3 103.5 L191.1 105.4Z" fill="#805e03" stroke="#805e03" stroke-width=".6"/>
<path d="M200.3 107.6 L203.4 105.8 L200.4 103.7 L197.3 105.5Z" fill="#815f03" stroke="#815f03" stroke-width=".6"/>
<path d="M206.5 107.9 L209.6 106.2 L206.6 104.1 L203.4 105.8Z" fill="#826103" stroke="#826103" stroke-width=".6"/>
<path d="M212.7 108.3 L215.8 106.6 L212.7 104.5 L209.6 106.2Z" fill="#826303" stroke="#826303" stroke-width=".6"/>
<path d="M218.8 108.8 L221.9 107.2 L218.8 105 L215.8 106.6Z" fill="#836502" stroke="#836502" stroke-width=".6"/>
<path d="M225 109.4 L228.1 107.8 L225 105.6 L221.9 107.2Z" fill="#836802" stroke="#836802" stroke-width=".6"/>
<path d="M231.2 110 L234.2 108.5 L231.1 106.3 L228.1 107.8Z" fill="#846b01" stroke="#846b01" stroke-width=".6"/>
<path d="M237.4 110.8 L240.4 109.3 L237.2 107.1 L234.2 108.5Z" fill="#846e01" stroke="#846e01" stroke-width=".6"/>
<path d="M243.5 111.6 L246.5 110.2 L243.3 108 L240.4 109.3Z" fill="#857200" stroke="#857200" stroke-width=".6"/>
<path d="M249.7 112.5 L252.7 111.2 L249.5 108.9 L246.5 110.2Z" fill="#857500" stroke="#857500" stroke-width=".6"/>
<path d="M255.9 113.5 L258.8 112.2 L255.6 110 L252.7 111.2Z" fill="#867900" stroke="#867900" stroke-width=".6"/>
<path d="M262 114.6 L264.9 113.4 L261.7 111.1 L258.8 112.2Z" fill="#877d00" stroke="#877d00" stroke-width=".6"/>
<path d="M268.2 115.7 L271 114.6 L267.8 112.3 L264.9 113.4Z" fill="#888000" stroke="#888000" stroke-width=".6"/>
<path d="M274.3 117 L277.2 115.9 L273.9 113.6 L271 114.6Z" fill="#898400" stroke="#898400" stroke-width=".6"/>
<path d="M147.5 110.8 L150.9 108.4 L148.1 106.5 L144.7 108.9Z" fill="#836702" stroke="#836702" stroke-width=".6"/>
<path d="M153.7 110.4 L157 108 L154.2 106 L150.9 108.4Z" fill="#836502" stroke="#836502" stroke-width=".6"/>
<path d="M159.9 110 L163.2 107.7 L160.3 105.7 L157 108Z" fill="#826403" stroke="#826403" stroke-width=".6"/>
<path d="M166.1 109.7 L169.4 107.5 L166.5 105.5 L163.2 107.7Z" fill="#826203" stroke="#826203" stroke-width=".6"/>
<path d="M172.3 109.5 L175.6 107.3 L172.7 105.3 L169.4 107.5Z" fill="#826203" stroke="#826203" stroke-width=".6"/>
<path d="M178.5 109.4 L181.8 107.3 L178.8 105.2 L175.6 107.3Z" fill="#826103" stroke="#826103" stroke-width=".6"/>
<path d="M184.7 109.3 L187.9 107.3 L185 105.2 L181.8 107.3Z" fill="#826103" stroke="#826103" stroke-width=".6"/>
<path d="M190.9 109.4 L194.1 107.4 L191.1 105.4 L187.9 107.3Z" fill="#826103" stroke="#826103" stroke-width=".6"/>
<path d="M197.1 109.5 L200.3 107.6 L197.3 105.5 L194.1 107.4Z" fill="#826203" stroke="#826203" stroke-width=".6"/>
<path d="M203.3 109.8 L206.5 107.9 L203.4 105.8 L200.3 107.6Z" fill="#826303" stroke="#826303" stroke-width=".6"/>
<path d="M209.5 110.1 L212.7 108.3 L209.6 106.2 L206.5 107.9Z" fill="#826503" stroke="#826503" stroke-width=".6"/>
<path d="M215.8 110.5 L218.8 108.8 L215.8 106.6 L212.7 108.3Z" fill="#836702" stroke="#836702" stroke-width=".6"/>
<path d="M222 111 L225 109.4 L221.9 107.2 L218.8 108.8Z" fill="#836902" stroke="#836902" stroke-width=".6"/>
<path d="M228.2 111.6 L231.2 110 L228.1 107.8 L225 109.4Z" fill="#846b01" stroke="#846b01" stroke-width=".6"/>
<path d="M234.4 112.3 L237.4 110.8 L234.2 108.5 L231.2 110Z" fill="#846f01" stroke="#846f01" stroke-width=".6"/>
<path d="M240.6 113 L243.5 111.6 L240.4 109.3 L237.4 110.8Z" fill="#857200" stroke="#857200" stroke-width=".6"/>
<path d="M246.7 113.9 L249.7 112.5 L246.5 110.2 L243.5 111.6Z" fill="#857500" stroke="#857500" stroke-width=".6"/>
<path d="M252.9 114.8 L255.9 113.5 L252.7 111.2 L249.7 112.5Z" fill="#867900" stroke="#867900" stroke-width=".6"/>
<path d="M259.1 115.8 L262 114.6 L258.8 112.2 L255.9 113.5Z" fill="#877c00" stroke="#877c00" stroke-width=".6"/>
<path d="M265.3 116.9 L268.2 115.7 L264.9 113.4 L262 114.6Z" fill="#888000" stroke="#888000" stroke-width=".6"/>
<path d="M271.5 118.1 L274.3 117 L271 114.6 L268.2 115.7Z" fill="#898300" stroke="#898300" stroke-width=".6"/>
<path d="M277.6 119.4 L280.5 118.4 L277.2 115.9 L274.3 117Z" fill="#8a8800" stroke="#8a8800" stroke-width=".6"/>
<path d="M175.3 111.5 L178.5 109.4 L175.6 107.3 L172.3 109.5Z" fill="#826503" stroke="#826503" stroke-width=".6"/>
<path d="M181.5 111.5 L184.7 109.3 L181.8 107.3 L178.5 109.4Z" fill="#826403" stroke="#826403" stroke-width=".6"/>
<path d="M243.8 115.3 L246.7 113.9 L243.5 111.6 L240.6 113Z" fill="#867500" stroke="#867500" stroke-width=".6"/>
<path d="M250 116.2 L252.9 114.8 L249.7 112.5 L246.7 113.9Z" fill="#867900" stroke="#867900" stroke-width=".6"/>
<path d="M144.2 113.3 L147.5 110.8 L144.7 108.9 L141.3 111.4Z" fill="#846c01" stroke="#846c01" stroke-width=".6"/>
<path d="M150.4 112.8 L153.7 110.4 L150.9 108.4 L147.5 110.8Z" fill="#836a02" stroke="#836a02" stroke-width=".6"/>
<path d="M156.6 112.4 L159.9 110 L157 108 L153.7 110.4Z" fill="#836802" stroke="#836802" stroke-width=".6"/>
<path d="M162.8 112 L166.1 109.7 L163.2 107.7 L159.9 110Z" fill="#836702" stroke="#836702" stroke-width=".6"/>
<path d="M169 111.7 L172.3 109.5 L169.4 107.5 L166.1 109.7Z" fill="#836502" stroke="#836502" stroke-width=".6"/>
<path d="M187.7 111.4 L190.9 109.4 L187.9 107.3 L184.7 109.3Z" fill="#826403" stroke="#826403" stroke-width=".6"/>
<path d="M193.9 111.5 L197.1 109.5 L194.1 107.4 L190.9 109.4Z" fill="#826503" stroke="#826503" stroke-width=".6"/>
<path d="M200.2 111.7 L203.3 109.8 L200.3 107.6 L197.1 109.5Z" fill="#836602" stroke="#836602" stroke-width=".6"/>
<path d="M206.4 112 L209.5 110.1 L206.5 107.9 L203.3 109.8Z" fill="#836702" stroke="#836702" stroke-width=".6"/>
<path d="M212.6 112.3 L215.8 110.5 L212.7 108.3 L209.5 110.1Z" fill="#836802" stroke="#836802" stroke-width=".6"/>
<path d="M218.9 112.7 L222 111 L218.8 108.8 L215.8 110.5Z" fill="#836a02" stroke="#836a02" stroke-width=".6"/>
<path d="M225.1 113.3 L228.2 111.6 L225 109.4 L222 111Z" fill="#846d01" stroke="#846d01" stroke-width=".6"/>
<path d="M231.3 113.9 L234.4 112.3 L231.2 110 L228.2 111.6Z" fill="#846f01" stroke="#846f01" stroke-width=".6"/>
<path d="M237.5 114.6 L240.6 113 L237.4 110.8 L234.4 112.3Z" fill="#857300" stroke="#857300" stroke-width=".6"/>
<path d="M256.2 117.2 L259.1 115.8 L255.9 113.5 L252.9 114.8Z" fill="#877c00" stroke="#877c00" stroke-width=".6"/>
<path d="M262.4 118.2 L265.3 116.9 L262 114.6 L259.1 115.8Z" fill="#887f00" stroke="#887f00" stroke-width=".6"/>
<path d="M268.6 119.4 L271.5 118.1 L268.2 115.7 L265.3 116.9Z" fill="#898300" stroke="#898300" stroke-width=".6"/>
<path d="M274.8 120.6 L277.6 119.4 L274.3 117 L271.5 118.1Z" fill="#8a8700" stroke="#8a8700" stroke-width=".6"/>
<path d="M281 121.9 L283.8 120.8 L280.5 118.4 L277.6 119.4Z" fill="#8a8a00" stroke="#8a8a00" stroke-width=".6"/>
<path d="M140.8 116 L144.2 113.3 L141.3 111.4 L137.9 114Z" fill="#857200" stroke="#857200" stroke-width=".6"/>
<path d="M147 115.3 L150.4 112.8 L147.5 110.8 L144.2 113.3Z" fill="#846f01" stroke="#846f01" stroke-width=".6"/>
<path d="M153.2 114.8 L156.6 112.4 L153.7 110.4 L150.4 112.8Z" fill="#846d01" stroke="#846d01" stroke-width=".6"/>
<path d="M159.5 114.4 L162.8 112 L159.9 110 L156.6 112.4Z" fill="#846b01" stroke="#846b01" stroke-width=".6"/>
<path d="M165.7 114.1 L169 111.7 L166.1 109.7 L162.8 112Z" fill="#836a02" stroke="#836a02" stroke-width=".6"/>
<path d="M172 113.8 L175.3 111.5 L172.3 109.5 L169 111.7Z" fill="#836902" stroke="#836902" stroke-width=".6"/>
<path d="M178.2 113.6 L181.5 111.5 L178.5 109.4 L175.3 111.5Z" fill="#836802" stroke="#836802" stroke-width=".6"/>
<path d="M247 117.7 L250 116.2 L246.7 113.9 L243.8 115.3Z" fill="#867900" stroke="#867900" stroke-width=".6"/>
<path d="M253.2 118.6 L256.2 117.2 L252.9 114.8 L250 116.2Z" fill="#877c00" stroke="#877c00" stroke-width=".6"/>
<path d="M259.5 119.6 L262.4 118.2 L259.1 115.8 L256.2 117.2Z" fill="#887f00" stroke="#887f00" stroke-width=".6"/>
<path d="M265.7 120.6 L268.6 119.4 L265.3 116.9 L262.4 118.2Z" fill="#898200" stroke="#898200" stroke-width=".6"/>
<path d="M271.9 121.8 L274.8 120.6 L271.5 118.1 L268.6 119.4Z" fill="#8a8600" stroke="#8a8600" stroke-width=".6"/>
<path d="M278.1 123.1 L281 121.9 L277.6 119.4 L274.8 120.6Z" fill="#8a8a00" stroke="#8a8a00" stroke-width=".6"/>
<path d="M284.3 124.4 L287.2 123.3 L283.8 120.8 L281 121.9Z" fill="#8b8d00" stroke="#8b8d00" stroke-width=".6"/>
<path d="M184.5 113.6 L187.7 111.4 L184.7 109.3 L181.5 111.5Z" fill="#836802" stroke="#836802" stroke-width=".6"/>
<path d="M190.7 113.6 L193.9 111.5 L190.9 109.4 L187.7 111.4Z" fill="#836802" stroke="#836802" stroke-width=".6"/>
<path d="M197 113.7 L200.2 111.7 L197.1 109.5 L193.9 111.5Z" fill="#836802" stroke="#836802" stroke-width=".6"/>
<path d="M203.2 113.9 L206.4 112 L203.3 109.8 L200.2 111.7Z" fill="#836902" stroke="#836902" stroke-width=".6"/>
<path d="M209.5 114.2 L212.6 112.3 L209.5 110.1 L206.4 112Z" fill="#836a02" stroke="#836a02" stroke-width=".6"/>
<path d="M215.7 114.5 L218.9 112.7 L215.8 110.5 L212.6 112.3Z" fill="#846c01" stroke="#846c01" stroke-width=".6"/>
<path d="M222 115 L225.1 113.3 L222 111 L218.9 112.7Z" fill="#846e01" stroke="#846e01" stroke-width=".6"/>
<path d="M228.2 115.5 L231.3 113.9 L228.2 111.6 L225.1 113.3Z" fill="#857100" stroke="#857100" stroke-width=".6"/>
<path d="M234.5 116.2 L237.5 114.6 L234.4 112.3 L231.3 113.9Z" fill="#857300" stroke="#857300" stroke-width=".6"/>
<path d="M240.7 116.9 L243.8 115.3 L240.6 113 L237.5 114.6Z" fill="#867600" stroke="#867600" stroke-width=".6"/>
<path d="M137.3 118.6 L140.8 116 L137.9 114 L134.5 116.6Z" fill="#867600" stroke="#867600" stroke-width=".6"/>
<path d="M143.6 118 L147 115.3 L144.2 113.3 L140.8 116Z" fill="#857400" stroke="#857400" stroke-width=".6"/>
<path d="M149.9 117.4 L153.2 114.8 L150.4 112.8 L147 115.3Z" fill="#857200" stroke="#857200" stroke-width=".6"/>
<path d="M156.1 116.9 L159.5 114.4 L156.6 112.4 L153.2 114.8Z" fill="#847001" stroke="#847001" stroke-width=".6"/>
<path d="M162.4 116.5 L165.7 114.1 L162.8 112 L159.5 114.4Z" fill="#846e01" stroke="#846e01" stroke-width=".6"/>
<path d="M168.7 116.2 L172 113.8 L169 111.7 L165.7 114.1Z" fill="#846d01" stroke="#846d01" stroke-width=".6"/>
<path d="M174.9 115.9 L178.2 113.6 L175.3 111.5 L172 113.8Z" fill="#846c01" stroke="#846c01" stroke-width=".6"/>
<path d="M181.2 115.8 L184.5 113.6 L181.5 111.5 L178.2 113.6Z" fill="#846b01" stroke="#846b01" stroke-width=".6"/>
<path d="M187.5 115.7 L190.7 113.6 L187.7 111.4 L184.5 113.6Z" fill="#846b01" stroke="#846b01" stroke-width=".6"/>
<path d="M193.8 115.8 L197 113.7 L193.9 111.5 L190.7 113.6Z" fill="#846b01" stroke="#846b01" stroke-width=".6"/>
<path d="M200 115.9 L203.2 113.9 L200.2 111.7 L197 113.7Z" fill="#846c01" stroke="#846c01" stroke-width=".6"/>
<path d="M206.3 116.1 L209.5 114.2 L206.4 112 L203.2 113.9Z" fill="#846d01" stroke="#846d01" stroke-width=".6"/>
<path d="M212.6 116.4 L215.7 114.5 L212.6 112.3 L209.5 114.2Z" fill="#846e01" stroke="#846e01" stroke-width=".6"/>
<path d="M218.9 116.8 L222 115 L218.9 112.7 L215.7 114.5Z" fill="#847001" stroke="#847001" stroke-width=".6"/>
<path d="M225.2 117.3 L228.2 115.5 L225.1 113.3 L222 115Z" fill="#857200" stroke="#857200" stroke-width=".6"/>
<path d="M231.4 117.8 L234.5 116.2 L231.3 113.9 L228.2 115.5Z" fill="#857400" stroke="#857400" stroke-width=".6"/>
<path d="M237.7 118.5 L240.7 116.9 L237.5 114.6 L234.5 116.2Z" fill="#867700" stroke="#867700" stroke-width=".6"/>
<path d="M244 119.2 L247 117.7 L243.8 115.3 L240.7 116.9Z" fill="#867900" stroke="#867900" stroke-width=".6"/>
<path d="M250.2 120.1 L253.2 118.6 L250 116.2 L247 117.7Z" fill="#877c00" stroke="#877c00" stroke-width=".6"/>
<path d="M256.5 121 L259.5 119.6 L256.2 117.2 L253.2 118.6Z" fill="#887f00" stroke="#887f00" stroke-width=".6"/>
<path d="M262.8 122 L265.7 120.6 L262.4 118.2 L259.5 119.6Z" fill="#898200" stroke="#898200" stroke-width=".6"/>
<path d="M269 123.1 L271.9 121.8 L268.6 119.4 L265.7 120.6Z" fill="#898600" stroke="#898600" stroke-width=".6"/>
<path d="M275.3 124.3 L278.1 123.1 L274.8 120.6 L271.9 121.8Z" fill="#8a8900" stroke="#8a8900" stroke-width=".6"/>
<path d="M281.5 125.6 L284.3 124.4 L281 121.9 L278.1 123.1Z" fill="#8b8c00" stroke="#8b8c00" stroke-width=".6"/>
<path d="M287.7 126.9 L290.6 125.8 L287.2 123.3 L284.3 124.4Z" fill="#8b8f00" stroke="#8b8f00" stroke-width=".6"/>
<path d="M133.9 121.4 L137.3 118.6 L134.5 116.6 L131.1 119.4Z" fill="#877b00" stroke="#877b00" stroke-width=".6"/>
<path d="M140.2 120.7 L143.6 118 L140.8 116 L137.3 118.6Z" fill="#867900" stroke="#867900" stroke-width=".6"/>
<path d="M146.5 120 L149.9 117.4 L147 115.3 L143.6 118Z" fill="#867600" stroke="#867600" stroke-width=".6"/>
<path d="M152.7 119.5 L156.1 116.9 L153.2 114.8 L149.9 117.4Z" fill="#857400" stroke="#857400" stroke-width=".6"/>
<path d="M159 119 L162.4 116.5 L159.5 114.4 L156.1 116.9Z" fill="#857300" stroke="#857300" stroke-width=".6"/>
<path d="M165.3 118.6 L168.7 116.2 L165.7 114.1 L162.4 116.5Z" fill="#857100" stroke="#857100" stroke-width=".6"/>
<path d="M171.6 118.3 L174.9 115.9 L172 113.8 L168.7 116.2Z" fill="#847001" stroke="#847001" stroke-width=".6"/>
<path d="M184.2 118 L187.5 115.7 L184.5 113.6 L181.2 115.8Z" fill="#846e01" stroke="#846e01" stroke-width=".6"/>
<path d="M190.5 117.9 L193.8 115.8 L190.7 113.6 L187.5 115.7Z" fill="#846e01" stroke="#846e01" stroke-width=".6"/>
<path d="M196.8 118 L200 115.9 L197 113.7 L193.8 115.8Z" fill="#846f01" stroke="#846f01" stroke-width=".6"/>
<path d="M203.1 118.1 L206.3 116.1 L203.2 113.9 L200 115.9Z" fill="#846f01" stroke="#846f01" stroke-width=".6"/>
<path d="M209.4 118.4 L212.6 116.4 L209.5 114.2 L206.3 116.1Z" fill="#857000" stroke="#857000" stroke-width=".6"/>
<path d="M215.7 118.7 L218.9 116.8 L215.7 114.5 L212.6 116.4Z" fill="#857200" stroke="#857200" stroke-width=".6"/>
<path d="M222 119.1 L225.2 117.3 L222 115 L218.9 116.8Z" fill="#857400" stroke="#857400" stroke-width=".6"/>
<path d="M228.3 119.6 L231.4 117.8 L228.2 115.5 L225.2 117.3Z" fill="#867500" stroke="#867500" stroke-width=".6"/>
<path d="M234.6 120.2 L237.7 118.5 L234.5 116.2 L231.4 117.8Z" fill="#867800" stroke="#867800" stroke-width=".6"/>
<path d="M240.9 120.9 L244 119.2 L240.7 116.9 L237.7 118.5Z" fill="#877a00" stroke="#877a00" stroke-width=".6"/>
<path d="M253.5 122.5 L256.5 121 L253.2 118.6 L250.2 120.1Z" fill="#887f00" stroke="#887f00" stroke-width=".6"/>
<path d="M259.8 123.5 L262.8 122 L259.5 119.6 L256.5 121Z" fill="#898200" stroke="#898200" stroke-width=".6"/>
<path d="M266.1 124.5 L269 123.1 L265.7 120.6 L262.8 122Z" fill="#898500" stroke="#898500" stroke-width=".6"/>
<path d="M272.4 125.6 L275.3 124.3 L271.9 121.8 L269 123.1Z" fill="#8a8900" stroke="#8a8900" stroke-width=".6"/>
<path d="M278.6 126.8 L281.5 125.6 L278.1 123.1 L275.3 124.3Z" fill="#8a8c00" stroke="#8a8c00" stroke-width=".6"/>
<path d="M284.9 128.1 L287.7 126.9 L284.3 124.4 L281.5 125.6Z" fill="#8b8f00" stroke="#8b8f00" stroke-width=".6"/>
<path d="M291.1 129.5 L294 128.4 L290.6 125.8 L287.7 126.9Z" fill="#8b9200" stroke="#8b9200" stroke-width=".6"/>
<path d="M177.9 118.1 L181.2 115.8 L178.2 113.6 L174.9 115.9Z" fill="#846f01" stroke="#846f01" stroke-width=".6"/>
<path d="M247.2 121.7 L250.2 120.1 L247 117.7 L244 119.2Z" fill="#877d00" stroke="#877d00" stroke-width=".6"/>
<path d="M130.4 124.3 L133.9 121.4 L131.1 119.4 L127.6 122.3Z" fill="#888000" stroke="#888000" stroke-width=".6"/>
<path d="M136.7 123.5 L140.2 120.7 L137.3 118.6 L133.9 121.4Z" fill="#877d00" stroke="#877d00" stroke-width=".6"/>
<path d="M143 122.8 L146.5 120 L143.6 118 L140.2 120.7Z" fill="#877b00" stroke="#877b00" stroke-width=".6"/>
<path d="M149.3 122.1 L152.7 119.5 L149.9 117.4 L146.5 120Z" fill="#867900" stroke="#867900" stroke-width=".6"/>
<path d="M155.7 121.6 L159 119 L156.1 116.9 L152.7 119.5Z" fill="#867700" stroke="#867700" stroke-width=".6"/>
<path d="M162 121.1 L165.3 118.6 L162.4 116.5 L159 119Z" fill="#857500" stroke="#857500" stroke-width=".6"/>
<path d="M168.3 120.8 L171.6 118.3 L168.7 116.2 L165.3 118.6Z" fill="#857400" stroke="#857400" stroke-width=".6"/>
<path d="M174.6 120.5 L177.9 118.1 L174.9 115.9 L171.6 118.3Z" fill="#857300" stroke="#857300" stroke-width=".6"/>
<path d="M180.9 120.3 L184.2 118 L181.2 115.8 L177.9 118.1Z" fill="#857200" stroke="#857200" stroke-width=".6"/>
<path d="M187.3 120.2 L190.5 117.9 L187.5 115.7 L184.2 118Z" fill="#857200" stroke="#857200" stroke-width=".6"/>
<path d="M193.6 120.2 L196.8 118 L193.8 115.8 L190.5 117.9Z" fill="#857200" stroke="#857200" stroke-width=".6"/>
<path d="M199.9 120.3 L203.1 118.1 L200 115.9 L196.8 118Z" fill="#857200" stroke="#857200" stroke-width=".6"/>
<path d="M206.2 120.4 L209.4 118.4 L206.3 116.1 L203.1 118.1Z" fill="#857300" stroke="#857300" stroke-width=".6"/>
<path d="M212.6 120.7 L215.7 118.7 L212.6 116.4 L209.4 118.4Z" fill="#857400" stroke="#857400" stroke-width=".6"/>
<path d="M218.9 121 L222 119.1 L218.9 116.8 L215.7 118.7Z" fill="#867500" stroke="#867500" stroke-width=".6"/>
<path d="M225.2 121.5 L228.3 119.6 L225.2 117.3 L222 119.1Z" fill="#867700" stroke="#867700" stroke-width=".6"/>
<path d="M231.5 122 L234.6 120.2 L231.4 117.8 L228.3 119.6Z" fill="#867900" stroke="#867900" stroke-width=".6"/>
<path d="M237.9 122.6 L240.9 120.9 L237.7 118.5 L234.6 120.2Z" fill="#877b00" stroke="#877b00" stroke-width=".6"/>
<path d="M244.2 123.3 L247.2 121.7 L244 119.2 L240.9 120.9Z" fill="#877d00" stroke="#877d00" stroke-width=".6"/>
<path d="M250.5 124.1 L253.5 122.5 L250.2 120.1 L247.2 121.7Z" fill="#888000" stroke="#888000" stroke-width=".6"/>
<path d="M256.8 125 L259.8 123.5 L256.5 121 L253.5 122.5Z" fill="#898200" stroke="#898200" stroke-width=".6"/>
<path d="M263.1 125.9 L266.1 124.5 L262.8 122 L259.8 123.5Z" fill="#898500" stroke="#898500" stroke-width=".6"/>
<path d="M269.4 127 L272.4 125.6 L269 123.1 L266.1 124.5Z" fill="#8a8900" stroke="#8a8900" stroke-width=".6"/>
<path d="M275.7 128.2 L278.6 126.8 L275.3 124.3 L272.4 125.6Z" fill="#8a8b00" stroke="#8a8b00" stroke-width=".6"/>
<path d="M282 129.4 L284.9 128.1 L281.5 125.6 L278.6 126.8Z" fill="#8b8e00" stroke="#8b8e00" stroke-width=".6"/>
<path d="M288.3 130.7 L291.1 129.5 L287.7 126.9 L284.9 128.1Z" fill="#8b9100" stroke="#8b9100" stroke-width=".6"/>
<path d="M294.6 132.1 L297.4 131 L294 128.4 L291.1 129.5Z" fill="#8c9500" stroke="#8c9500" stroke-width=".6"/>
<path d="M126.9 127.2 L130.4 124.3 L127.6 122.3 L124.1 125.2Z" fill="#898400" stroke="#898400" stroke-width=".6"/>
<path d="M133.3 126.4 L136.7 123.5 L133.9 121.4 L130.4 124.3Z" fill="#888100" stroke="#888100" stroke-width=".6"/>
<path d="M139.6 125.6 L143 122.8 L140.2 120.7 L136.7 123.5Z" fill="#887f00" stroke="#887f00" stroke-width=".6"/>
<path d="M145.9 124.9 L149.3 122.1 L146.5 120 L143 122.8Z" fill="#877d00" stroke="#877d00" stroke-width=".6"/>
<path d="M152.2 124.3 L155.7 121.6 L152.7 119.5 L149.3 122.1Z" fill="#877b00" stroke="#877b00" stroke-width=".6"/>
<path d="M158.6 123.7 L162 121.1 L159 119 L155.7 121.6Z" fill="#867900" stroke="#867900" stroke-width=".6"/>
<path d="M164.9 123.3 L168.3 120.8 L165.3 118.6 L162 121.1Z" fill="#867800" stroke="#867800" stroke-width=".6"/>
<path d="M260.1 127.5 L263.1 125.9 L259.8 123.5 L256.8 125Z" fill="#898600" stroke="#898600" stroke-width=".6"/>
<path d="M266.5 128.5 L269.4 127 L266.1 124.5 L263.1 125.9Z" fill="#8a8900" stroke="#8a8900" stroke-width=".6"/>
<path d="M272.8 129.6 L275.7 128.2 L272.4 125.6 L269.4 127Z" fill="#8a8b00" stroke="#8a8b00" stroke-width=".6"/>
<path d="M279.1 130.7 L282 129.4 L278.6 126.8 L275.7 128.2Z" fill="#8b8e00" stroke="#8b8e00" stroke-width=".6"/>
<path d="M285.4 132 L288.3 130.7 L284.9 128.1 L282 129.4Z" fill="#8b9100" stroke="#8b9100" stroke-width=".6"/>
<path d="M291.7 133.3 L294.6 132.1 L291.1 129.5 L288.3 130.7Z" fill="#8c9400" stroke="#8c9400" stroke-width=".6"/>
<path d="M298 134.8 L300.9 133.6 L297.4 131 L294.6 132.1Z" fill="#8b9700" stroke="#8b9700" stroke-width=".6"/>
<path d="M171.3 122.9 L174.6 120.5 L171.6 118.3 L168.3 120.8Z" fill="#867700" stroke="#867700" stroke-width=".6"/>
<path d="M177.6 122.7 L180.9 120.3 L177.9 118.1 L174.6 120.5Z" fill="#867600" stroke="#867600" stroke-width=".6"/>
<path d="M184 122.5 L187.3 120.2 L184.2 118 L180.9 120.3Z" fill="#857500" stroke="#857500" stroke-width=".6"/>
<path d="M190.3 122.4 L193.6 120.2 L190.5 117.9 L187.3 120.2Z" fill="#857500" stroke="#857500" stroke-width=".6"/>
<path d="M196.7 122.4 L199.9 120.3 L196.8 118 L193.6 120.2Z" fill="#857500" stroke="#857500" stroke-width=".6"/>
<path d="M203 122.6 L206.2 120.4 L203.1 118.1 L199.9 120.3Z" fill="#867500" stroke="#867500" stroke-width=".6"/>
<path d="M209.4 122.7 L212.6 120.7 L209.4 118.4 L206.2 120.4Z" fill="#867600" stroke="#867600" stroke-width=".6"/>
<path d="M215.7 123 L218.9 121 L215.7 118.7 L212.6 120.7Z" fill="#867700" stroke="#867700" stroke-width=".6"/>
<path d="M222.1 123.4 L225.2 121.5 L222 119.1 L218.9 121Z" fill="#867800" stroke="#867800" stroke-width=".6"/>
<path d="M228.4 123.9 L231.5 122 L228.3 119.6 L225.2 121.5Z" fill="#877a00" stroke="#877a00" stroke-width=".6"/>
<path d="M234.8 124.4 L237.9 122.6 L234.6 120.2 L231.5 122Z" fill="#877c00" stroke="#877c00" stroke-width=".6"/>
<path d="M241.1 125 L244.2 123.3 L240.9 120.9 L237.9 122.6Z" fill="#887e00" stroke="#887e00" stroke-width=".6"/>
<path d="M247.5 125.8 L250.5 124.1 L247.2 121.7 L244.2 123.3Z" fill="#888000" stroke="#888000" stroke-width=".6"/>
<path d="M253.8 126.6 L256.8 125 L253.5 122.5 L250.5 124.1Z" fill="#898300" stroke="#898300" stroke-width=".6"/>
<path d="M123.4 130.3 L126.9 127.2 L124.1 125.2 L120.6 128.2Z" fill="#8a8900" stroke="#8a8900" stroke-width=".6"/>
<path d="M129.8 129.3 L133.3 126.4 L130.4 124.3 L126.9 127.2Z" fill="#898600" stroke="#898600" stroke-width=".6"/>
<path d="M136.1 128.5 L139.6 125.6 L136.7 123.5 L133.3 126.4Z" fill="#898300" stroke="#898300" stroke-width=".6"/>
<path d="M142.5 127.7 L145.9 124.9 L143 122.8 L139.6 125.6Z" fill="#888100" stroke="#888100" stroke-width=".6"/>
<path d="M148.8 127 L152.2 124.3 L149.3 122.1 L145.9 124.9Z" fill="#887f00" stroke="#887f00" stroke-width=".6"/>
<path d="M155.2 126.4 L158.6 123.7 L155.7 121.6 L152.2 124.3Z" fill="#877d00" stroke="#877d00" stroke-width=".6"/>
<path d="M161.5 125.9 L164.9 123.3 L162 121.1 L158.6 123.7Z" fill="#877c00" stroke="#877c00" stroke-width=".6"/>
<path d="M167.9 125.5 L171.3 122.9 L168.3 120.8 L164.9 123.3Z" fill="#877a00" stroke="#877a00" stroke-width=".6"/>
<path d="M174.3 125.2 L177.6 122.7 L174.6 120.5 L171.3 122.9Z" fill="#867900" stroke="#867900" stroke-width=".6"/>
<path d="M180.7 124.9 L184 122.5 L180.9 120.3 L177.6 122.7Z" fill="#867800" stroke="#867800" stroke-width=".6"/>
<path d="M187 124.8 L190.3 122.4 L187.3 120.2 L184 122.5Z" fill="#867800" stroke="#867800" stroke-width=".6"/>
<path d="M193.4 124.7 L196.7 122.4 L193.6 120.2 L190.3 122.4Z" fill="#867800" stroke="#867800" stroke-width=".6"/>
<path d="M199.8 124.8 L203 122.6 L199.9 120.3 L196.7 122.4Z" fill="#867800" stroke="#867800" stroke-width=".6"/>
<path d="M206.2 124.9 L209.4 122.7 L206.2 120.4 L203 122.6Z" fill="#867800" stroke="#867800" stroke-width=".6"/>
<path d="M212.5 125.1 L215.7 123 L212.6 120.7 L209.4 122.7Z" fill="#867900" stroke="#867900" stroke-width=".6"/>
<path d="M218.9 125.4 L222.1 123.4 L218.9 121 L215.7 123Z" fill="#877a00" stroke="#877a00" stroke-width=".6"/>
<path d="M225.3 125.8 L228.4 123.9 L225.2 121.5 L222.1 123.4Z" fill="#877c00" stroke="#877c00" stroke-width=".6"/>
<path d="M231.7 126.3 L234.8 124.4 L231.5 122 L228.4 123.9Z" fill="#877d00" stroke="#877d00" stroke-width=".6"/>
<path d="M238 126.9 L241.1 125 L237.9 122.6 L234.8 124.4Z" fill="#887f00" stroke="#887f00" stroke-width=".6"/>
<path d="M244.4 127.5 L247.5 125.8 L244.2 123.3 L241.1 125Z" fill="#888100" stroke="#888100" stroke-width=".6"/>
<path d="M250.8 128.3 L253.8 126.6 L250.5 124.1 L247.5 125.8Z" fill="#898300" stroke="#898300" stroke-width=".6"/>
<path d="M257.1 129.1 L260.1 127.5 L256.8 125 L253.8 126.6Z" fill="#8a8600" stroke="#8a8600" stroke-width=".6"/>
<path d="M263.5 130 L266.5 128.5 L263.1 125.9 L260.1 127.5Z" fill="#8a8900" stroke="#8a8900" stroke-width=".6"/>
<path d="M269.8 131.1 L272.8 129.6 L269.4 127 L266.5 128.5Z" fill="#8a8b00" stroke="#8a8b00" stroke-width=".6"/>
<path d="M276.2 132.2 L279.1 130.7 L275.7 128.2 L272.8 129.6Z" fill="#8b8e00" stroke="#8b8e00" stroke-width=".6"/>
<path d="M282.5 133.4 L285.4 132 L282 129.4 L279.1 130.7Z" fill="#8b9000" stroke="#8b9000" stroke-width=".6"/>
<path d="M288.9 134.6 L291.7 133.3 L288.3 130.7 L285.4 132Z" fill="#8c9300" stroke="#8c9300" stroke-width=".6"/>
<path d="M295.2 136 L298 134.8 L294.6 132.1 L291.7 133.3Z" fill="#8c9700" stroke="#8c9700" stroke-width=".6"/>
<path d="M301.5 137.5 L304.3 136.3 L300.9 133.6 L298 134.8Z" fill="#849700" stroke="#849700" stroke-width=".6"/>
<path d="M158.1 128.6 L161.5 125.9 L158.6 123.7 L155.2 126.4Z" fill="#887f00" stroke="#887f00" stroke-width=".6"/>
<path d="M266.9 132.6 L269.8 131.1 L266.5 128.5 L263.5 130Z" fill="#8a8b00" stroke="#8a8b00" stroke-width=".6"/>
<path d="M119.9 133.4 L123.4 130.3 L120.6 128.2 L117.1 131.3Z" fill="#8b8c00" stroke="#8b8c00" stroke-width=".6"/>
<path d="M126.2 132.4 L129.8 129.3 L126.9 127.2 L123.4 130.3Z" fill="#8a8a00" stroke="#8a8a00" stroke-width=".6"/>
<path d="M132.6 131.5 L136.1 128.5 L133.3 126.4 L129.8 129.3Z" fill="#8a8800" stroke="#8a8800" stroke-width=".6"/>
<path d="M139 130.6 L142.5 127.7 L139.6 125.6 L136.1 128.5Z" fill="#898500" stroke="#898500" stroke-width=".6"/>
<path d="M145.4 129.9 L148.8 127 L145.9 124.9 L142.5 127.7Z" fill="#898300" stroke="#898300" stroke-width=".6"/>
<path d="M151.7 129.2 L155.2 126.4 L152.2 124.3 L148.8 127Z" fill="#888100" stroke="#888100" stroke-width=".6"/>
<path d="M196.5 127.1 L199.8 124.8 L196.7 122.4 L193.4 124.7Z" fill="#877b00" stroke="#877b00" stroke-width=".6"/>
<path d="M202.9 127.1 L206.2 124.9 L203 122.6 L199.8 124.8Z" fill="#877b00" stroke="#877b00" stroke-width=".6"/>
<path d="M209.3 127.3 L212.5 125.1 L209.4 122.7 L206.2 124.9Z" fill="#877c00" stroke="#877c00" stroke-width=".6"/>
<path d="M215.7 127.5 L218.9 125.4 L215.7 123 L212.5 125.1Z" fill="#877c00" stroke="#877c00" stroke-width=".6"/>
<path d="M222.1 127.8 L225.3 125.8 L222.1 123.4 L218.9 125.4Z" fill="#877d00" stroke="#877d00" stroke-width=".6"/>
<path d="M228.5 128.2 L231.7 126.3 L228.4 123.9 L225.3 125.8Z" fill="#887f00" stroke="#887f00" stroke-width=".6"/>
<path d="M273.3 133.7 L276.2 132.2 L272.8 129.6 L269.8 131.1Z" fill="#8b8e00" stroke="#8b8e00" stroke-width=".6"/>
<path d="M279.6 134.8 L282.5 133.4 L279.1 130.7 L276.2 132.2Z" fill="#8b9000" stroke="#8b9000" stroke-width=".6"/>
<path d="M286 136 L288.9 134.6 L285.4 132 L282.5 133.4Z" fill="#8b9300" stroke="#8b9300" stroke-width=".6"/>
<path d="M292.4 137.3 L295.2 136 L291.7 133.3 L288.9 134.6Z" fill="#8c9600" stroke="#8c9600" stroke-width=".6"/>
<path d="M298.7 138.7 L301.5 137.5 L298 134.8 L295.2 136Z" fill="#869700" stroke="#869700" stroke-width=".6"/>
<path d="M305.1 140.2 L307.9 139 L304.3 136.3 L301.5 137.5Z" fill="#7d9700" stroke="#7d9700" stroke-width=".6"/>
<path d="M164.5 128.1 L167.9 125.5 L164.9 123.3 L161.5 125.9Z" fill="#877e00" stroke="#877e00" stroke-width=".6"/>
<path d="M170.9 127.7 L174.3 125.2 L171.3 122.9 L167.9 125.5Z" fill="#877d00" stroke="#877d00" stroke-width=".6"/>
<path d="M177.3 127.4 L180.7 124.9 L177.6 122.7 L174.3 125.2Z" fill="#877c00" stroke="#877c00" stroke-width=".6"/>
<path d="M183.7 127.2 L187 124.8 L184 122.5 L180.7 124.9Z" fill="#877b00" stroke="#877b00" stroke-width=".6"/>
<path d="M190.1 127.1 L193.4 124.7 L190.3 122.4 L187 124.8Z" fill="#877b00" stroke="#877b00" stroke-width=".6"/>
<path d="M234.9 128.7 L238 126.9 L234.8 124.4 L231.7 126.3Z" fill="#888000" stroke="#888000" stroke-width=".6"/>
<path d="M241.3 129.3 L244.4 127.5 L241.1 125 L238 126.9Z" fill="#898200" stroke="#898200" stroke-width=".6"/>
<path d="M247.7 130 L250.8 128.3 L247.5 125.8 L244.4 127.5Z" fill="#898400" stroke="#898400" stroke-width=".6"/>
<path d="M254.1 130.8 L257.1 129.1 L253.8 126.6 L250.8 128.3Z" fill="#8a8700" stroke="#8a8700" stroke-width=".6"/>
<path d="M260.5 131.7 L263.5 130 L260.1 127.5 L257.1 129.1Z" fill="#8a8900" stroke="#8a8900" stroke-width=".6"/>
<path d="M122.7 135.6 L126.2 132.4 L123.4 130.3 L119.9 133.4Z" fill="#8b8e00" stroke="#8b8e00" stroke-width=".6"/>
<path d="M129.1 134.6 L132.6 131.5 L129.8 129.3 L126.2 132.4Z" fill="#8a8c00" stroke="#8a8c00" stroke-width=".6"/>
<path d="M135.5 133.6 L139 130.6 L136.1 128.5 L132.6 131.5Z" fill="#8a8900" stroke="#8a8900" stroke-width=".6"/>
<path d="M141.9 132.8 L145.4 129.9 L142.5 127.7 L139 130.6Z" fill="#8a8700" stroke="#8a8700" stroke-width=".6"/>
<path d="M148.3 132.1 L151.7 129.2 L148.8 127 L145.4 129.9Z" fill="#898500" stroke="#898500" stroke-width=".6"/>
<path d="M154.7 131.4 L158.1 128.6 L155.2 126.4 L151.7 129.2Z" fill="#898300" stroke="#898300" stroke-width=".6"/>
<path d="M161.1 130.9 L164.5 128.1 L161.5 125.9 L158.1 128.6Z" fill="#888200" stroke="#888200" stroke-width=".6"/>
<path d="M167.5 130.4 L170.9 127.7 L167.9 125.5 L164.5 128.1Z" fill="#888000" stroke="#888000" stroke-width=".6"/>
<path d="M173.9 130 L177.3 127.4 L174.3 125.2 L170.9 127.7Z" fill="#887f00" stroke="#887f00" stroke-width=".6"/>
<path d="M180.4 129.8 L183.7 127.2 L180.7 124.9 L177.3 127.4Z" fill="#887e00" stroke="#887e00" stroke-width=".6"/>
<path d="M186.8 129.6 L190.1 127.1 L187 124.8 L183.7 127.2Z" fill="#877e00" stroke="#877e00" stroke-width=".6"/>
<path d="M193.2 129.5 L196.5 127.1 L193.4 124.7 L190.1 127.1Z" fill="#877e00" stroke="#877e00" stroke-width=".6"/>
<path d="M199.7 129.4 L202.9 127.1 L199.8 124.8 L196.5 127.1Z" fill="#877e00" stroke="#877e00" stroke-width=".6"/>
<path d="M206.1 129.5 L209.3 127.3 L206.2 124.9 L202.9 127.1Z" fill="#877e00" stroke="#877e00" stroke-width=".6"/>
<path d="M212.5 129.7 L215.7 127.5 L212.5 125.1 L209.3 127.3Z" fill="#887e00" stroke="#887e00" stroke-width=".6"/>
<path d="M218.9 129.9 L222.1 127.8 L218.9 125.4 L215.7 127.5Z" fill="#887f00" stroke="#887f00" stroke-width=".6"/>
<path d="M225.4 130.3 L228.5 128.2 L225.3 125.8 L222.1 127.8Z" fill="#888000" stroke="#888000" stroke-width=".6"/>
<path d="M231.8 130.7 L234.9 128.7 L231.7 126.3 L228.5 128.2Z" fill="#888200" stroke="#888200" stroke-width=".6"/>
<path d="M238.2 131.3 L241.3 129.3 L238 126.9 L234.9 128.7Z" fill="#898300" stroke="#898300" stroke-width=".6"/>
<path d="M244.6 131.9 L247.7 130 L244.4 127.5 L241.3 129.3Z" fill="#898500" stroke="#898500" stroke-width=".6"/>
<path d="M251 132.6 L254.1 130.8 L250.8 128.3 L247.7 130Z" fill="#8a8700" stroke="#8a8700" stroke-width=".6"/>
<path d="M257.5 133.4 L260.5 131.7 L257.1 129.1 L254.1 130.8Z" fill="#8a8900" stroke="#8a8900" stroke-width=".6"/>
<path d="M263.9 134.3 L266.9 132.6 L263.5 130 L260.5 131.7Z" fill="#8a8c00" stroke="#8a8c00" stroke-width=".6"/>
<path d="M270.3 135.3 L273.3 133.7 L269.8 131.1 L266.9 132.6Z" fill="#8b8e00" stroke="#8b8e00" stroke-width=".6"/>
<path d="M276.7 136.3 L279.6 134.8 L276.2 132.2 L273.3 133.7Z" fill="#8b9000" stroke="#8b9000" stroke-width=".6"/>
<path d="M283.1 137.5 L286 136 L282.5 133.4 L279.6 134.8Z" fill="#8b9300" stroke="#8b9300" stroke-width=".6"/>
<path d="M289.5 138.7 L292.4 137.3 L288.9 134.6 L286 136Z" fill="#8c9600" stroke="#8c9600" stroke-width=".6"/>
<path d="M295.8 140.1 L298.7 138.7 L295.2 136 L292.4 137.3Z" fill="#879700" stroke="#879700" stroke-width=".6"/>
<path d="M302.2 141.5 L305.1 140.2 L301.5 137.5 L298.7 138.7Z" fill="#7f9700" stroke="#7f9700" stroke-width=".6"/>
<path d="M125.5 137.7 L129.1 134.6 L126.2 132.4 L122.7 135.6Z" fill="#8b8f00" stroke="#8b8f00" stroke-width=".6"/>
<path d="M131.9 136.7 L135.5 133.6 L132.6 131.5 L129.1 134.6Z" fill="#8b8d00" stroke="#8b8d00" stroke-width=".6"/>
<path d="M138.4 135.9 L141.9 132.8 L139 130.6 L135.5 133.6Z" fill="#8a8b00" stroke="#8a8b00" stroke-width=".6"/>
<path d="M144.8 135 L148.3 132.1 L145.4 129.9 L141.9 132.8Z" fill="#8a8900" stroke="#8a8900" stroke-width=".6"/>
<path d="M151.2 134.3 L154.7 131.4 L151.7 129.2 L148.3 132.1Z" fill="#8a8800" stroke="#8a8800" stroke-width=".6"/>
<path d="M202.8 131.9 L206.1 129.5 L202.9 127.1 L199.7 129.4Z" fill="#888000" stroke="#888000" stroke-width=".6"/>
<path d="M209.3 132 L212.5 129.7 L209.3 127.3 L206.1 129.5Z" fill="#888100" stroke="#888100" stroke-width=".6"/>
<path d="M215.7 132.1 L218.9 129.9 L215.7 127.5 L212.5 129.7Z" fill="#888100" stroke="#888100" stroke-width=".6"/>
<path d="M222.2 132.4 L225.4 130.3 L222.1 127.8 L218.9 129.9Z" fill="#898200" stroke="#898200" stroke-width=".6"/>
<path d="M273.7 137.9 L276.7 136.3 L273.3 133.7 L270.3 135.3Z" fill="#8b9000" stroke="#8b9000" stroke-width=".6"/>
<path d="M280.1 139 L283.1 137.5 L279.6 134.8 L276.7 136.3Z" fill="#8b9300" stroke="#8b9300" stroke-width=".6"/>
<path d="M286.6 140.2 L289.5 138.7 L286 136 L283.1 137.5Z" fill="#8c9600" stroke="#8c9600" stroke-width=".6"/>
<path d="M293 141.5 L295.8 140.1 L292.4 137.3 L289.5 138.7Z" fill="#889700" stroke="#889700" stroke-width=".6"/>
<path d="M299.4 142.8 L302.2 141.5 L298.7 138.7 L295.8 140.1Z" fill="#809700" stroke="#809700" stroke-width=".6"/>
<path d="M157.7 133.7 L161.1 130.9 L158.1 128.6 L154.7 131.4Z" fill="#898600" stroke="#898600" stroke-width=".6"/>
<path d="M164.1 133.2 L167.5 130.4 L164.5 128.1 L161.1 130.9Z" fill="#898400" stroke="#898400" stroke-width=".6"/>
<path d="M170.6 132.7 L173.9 130 L170.9 127.7 L167.5 130.4Z" fill="#898300" stroke="#898300" stroke-width=".6"/>
<path d="M177 132.4 L180.4 129.8 L177.3 127.4 L173.9 130Z" fill="#888200" stroke="#888200" stroke-width=".6"/>
<path d="M183.5 132.1 L186.8 129.6 L183.7 127.2 L180.4 129.8Z" fill="#888100" stroke="#888100" stroke-width=".6"/>
<path d="M189.9 131.9 L193.2 129.5 L190.1 127.1 L186.8 129.6Z" fill="#888000" stroke="#888000" stroke-width=".6"/>
<path d="M196.4 131.8 L199.7 129.4 L196.5 127.1 L193.2 129.5Z" fill="#888000" stroke="#888000" stroke-width=".6"/>
<path d="M228.6 132.8 L231.8 130.7 L228.5 128.2 L225.4 130.3Z" fill="#898300" stroke="#898300" stroke-width=".6"/>
<path d="M235.1 133.3 L238.2 131.3 L234.9 128.7 L231.8 130.7Z" fill="#898500" stroke="#898500" stroke-width=".6"/>
<path d="M241.5 133.8 L244.6 131.9 L241.3 129.3 L238.2 131.3Z" fill="#8a8600" stroke="#8a8600" stroke-width=".6"/>
<path d="M248 134.5 L251 132.6 L247.7 130 L244.6 131.9Z" fill="#8a8800" stroke="#8a8800" stroke-width=".6"/>
<path d="M254.4 135.2 L257.5 133.4 L254.1 130.8 L251 132.6Z" fill="#8a8a00" stroke="#8a8a00" stroke-width=".6"/>
<path d="M260.8 136 L263.9 134.3 L260.5 131.7 L257.5 133.4Z" fill="#8b8c00" stroke="#8b8c00" stroke-width=".6"/>
<path d="M267.3 136.9 L270.3 135.3 L266.9 132.6 L263.9 134.3Z" fill="#8b8e00" stroke="#8b8e00" stroke-width=".6"/>
<path d="M128.4 139.9 L131.9 136.7 L129.1 134.6 L125.5 137.7Z" fill="#8b9100" stroke="#8b9100" stroke-width=".6"/>
<path d="M134.8 139 L138.4 135.9 L135.5 133.6 L131.9 136.7Z" fill="#8b8f00" stroke="#8b8f00" stroke-width=".6"/>
<path d="M141.3 138.1 L144.8 135 L141.9 132.8 L138.4 135.9Z" fill="#8b8d00" stroke="#8b8d00" stroke-width=".6"/>
<path d="M147.7 137.3 L151.2 134.3 L148.3 132.1 L144.8 135Z" fill="#8a8b00" stroke="#8a8b00" stroke-width=".6"/>
<path d="M167.1 135.5 L170.6 132.7 L167.5 130.4 L164.1 133.2Z" fill="#8a8600" stroke="#8a8600" stroke-width=".6"/>
<path d="M173.6 135.1 L177 132.4 L173.9 130 L170.6 132.7Z" fill="#898500" stroke="#898500" stroke-width=".6"/>
<path d="M180.1 134.7 L183.5 132.1 L180.4 129.8 L177 132.4Z" fill="#898400" stroke="#898400" stroke-width=".6"/>
<path d="M186.6 134.5 L189.9 131.9 L186.8 129.6 L183.5 132.1Z" fill="#898400" stroke="#898400" stroke-width=".6"/>
<path d="M193 134.3 L196.4 131.8 L193.2 129.5 L189.9 131.9Z" fill="#898300" stroke="#898300" stroke-width=".6"/>
<path d="M199.5 134.3 L202.8 131.9 L199.7 129.4 L196.4 131.8Z" fill="#898300" stroke="#898300" stroke-width=".6"/>
<path d="M206 134.3 L209.3 132 L206.1 129.5 L202.8 131.9Z" fill="#898300" stroke="#898300" stroke-width=".6"/>
<path d="M212.5 134.4 L215.7 132.1 L212.5 129.7 L209.3 132Z" fill="#898400" stroke="#898400" stroke-width=".6"/>
<path d="M219 134.6 L222.2 132.4 L218.9 129.9 L215.7 132.1Z" fill="#898400" stroke="#898400" stroke-width=".6"/>
<path d="M225.4 134.9 L228.6 132.8 L225.4 130.3 L222.2 132.4Z" fill="#898500" stroke="#898500" stroke-width=".6"/>
<path d="M231.9 135.3 L235.1 133.3 L231.8 130.7 L228.6 132.8Z" fill="#8a8600" stroke="#8a8600" stroke-width=".6"/>
<path d="M238.4 135.8 L241.5 133.8 L238.2 131.3 L235.1 133.3Z" fill="#8a8800" stroke="#8a8800" stroke-width=".6"/>
<path d="M244.9 136.4 L248 134.5 L244.6 131.9 L241.5 133.8Z" fill="#8a8900" stroke="#8a8900" stroke-width=".6"/>
<path d="M251.3 137.1 L254.4 135.2 L251 132.6 L248 134.5Z" fill="#8a8b00" stroke="#8a8b00" stroke-width=".6"/>
<path d="M257.8 137.8 L260.8 136 L257.5 133.4 L254.4 135.2Z" fill="#8b8d00" stroke="#8b8d00" stroke-width=".6"/>
<path d="M277.2 140.6 L280.1 139 L276.7 136.3 L273.7 137.9Z" fill="#8b9300" stroke="#8b9300" stroke-width=".6"/>
<path d="M283.6 141.8 L286.6 140.2 L283.1 137.5 L280.1 139Z" fill="#8c9600" stroke="#8c9600" stroke-width=".6"/>
<path d="M290.1 143 L293 141.5 L289.5 138.7 L286.6 140.2Z" fill="#899700" stroke="#899700" stroke-width=".6"/>
<path d="M296.5 144.3 L299.4 142.8 L295.8 140.1 L293 141.5Z" fill="#819700" stroke="#819700" stroke-width=".6"/>
<path d="M154.2 136.6 L157.7 133.7 L154.7 131.4 L151.2 134.3Z" fill="#8a8900" stroke="#8a8900" stroke-width=".6"/>
<path d="M160.7 136 L164.1 133.2 L161.1 130.9 L157.7 133.7Z" fill="#8a8800" stroke="#8a8800" stroke-width=".6"/>
<path d="M264.3 138.7 L267.3 136.9 L263.9 134.3 L260.8 136Z" fill="#8b8f00" stroke="#8b8f00" stroke-width=".6"/>
<path d="M270.7 139.6 L273.7 137.9 L270.3 135.3 L267.3 136.9Z" fill="#8b9100" stroke="#8b9100" stroke-width=".6"/>
<path d="M131.3 142.2 L134.8 139 L131.9 136.7 L128.4 139.9Z" fill="#8b9200" stroke="#8b9200" stroke-width=".6"/>
<path d="M137.8 141.2 L141.3 138.1 L138.4 135.9 L134.8 139Z" fill="#8b9000" stroke="#8b9000" stroke-width=".6"/>
<path d="M144.2 140.4 L147.7 137.3 L144.8 135 L141.3 138.1Z" fill="#8b8e00" stroke="#8b8e00" stroke-width=".6"/>
<path d="M209.2 136.8 L212.5 134.4 L209.3 132 L206 134.3Z" fill="#8a8600" stroke="#8a8600" stroke-width=".6"/>
<path d="M215.7 136.9 L219 134.6 L215.7 132.1 L212.5 134.4Z" fill="#8a8700" stroke="#8a8700" stroke-width=".6"/>
<path d="M280.7 143.4 L283.6 141.8 L280.1 139 L277.2 140.6Z" fill="#8c9600" stroke="#8c9600" stroke-width=".6"/>
<path d="M287.1 144.5 L290.1 143 L286.6 140.2 L283.6 141.8Z" fill="#899700" stroke="#899700" stroke-width=".6"/>
<path d="M293.6 145.8 L296.5 144.3 L293 141.5 L290.1 143Z" fill="#829700" stroke="#829700" stroke-width=".6"/>
<path d="M150.7 139.6 L154.2 136.6 L151.2 134.3 L147.7 137.3Z" fill="#8b8d00" stroke="#8b8d00" stroke-width=".6"/>
<path d="M157.2 138.9 L160.7 136 L157.7 133.7 L154.2 136.6Z" fill="#8a8b00" stroke="#8a8b00" stroke-width=".6"/>
<path d="M163.7 138.4 L167.1 135.5 L164.1 133.2 L160.7 136Z" fill="#8a8a00" stroke="#8a8a00" stroke-width=".6"/>
<path d="M170.2 137.9 L173.6 135.1 L170.6 132.7 L167.1 135.5Z" fill="#8a8900" stroke="#8a8900" stroke-width=".6"/>
<path d="M176.7 137.5 L180.1 134.7 L177 132.4 L173.6 135.1Z" fill="#8a8800" stroke="#8a8800" stroke-width=".6"/>
<path d="M183.2 137.1 L186.6 134.5 L183.5 132.1 L180.1 134.7Z" fill="#8a8700" stroke="#8a8700" stroke-width=".6"/>
<path d="M189.7 136.9 L193 134.3 L189.9 131.9 L186.6 134.5Z" fill="#8a8600" stroke="#8a8600" stroke-width=".6"/>
<path d="M196.2 136.8 L199.5 134.3 L196.4 131.8 L193 134.3Z" fill="#898600" stroke="#898600" stroke-width=".6"/>
<path d="M202.7 136.7 L206 134.3 L202.8 131.9 L199.5 134.3Z" fill="#898600" stroke="#898600" stroke-width=".6"/>
<path d="M222.2 137.2 L225.4 134.9 L222.2 132.4 L219 134.6Z" fill="#8a8700" stroke="#8a8700" stroke-width=".6"/>
<path d="M228.7 137.5 L231.9 135.3 L228.6 132.8 L225.4 134.9Z" fill="#8a8800" stroke="#8a8800" stroke-width=".6"/>
<path d="M235.2 137.9 L238.4 135.8 L235.1 133.3 L231.9 135.3Z" fill="#8a8900" stroke="#8a8900" stroke-width=".6"/>
<path d="M241.7 138.4 L244.9 136.4 L241.5 133.8 L238.4 135.8Z" fill="#8a8a00" stroke="#8a8a00" stroke-width=".6"/>
<path d="M248.2 139 L251.3 137.1 L248 134.5 L244.9 136.4Z" fill="#8a8c00" stroke="#8a8c00" stroke-width=".6"/>
<path d="M254.7 139.7 L257.8 137.8 L254.4 135.2 L251.3 137.1Z" fill="#8b8d00" stroke="#8b8d00" stroke-width=".6"/>
<path d="M261.2 140.5 L264.3 138.7 L260.8 136 L257.8 137.8Z" fill="#8b8f00" stroke="#8b8f00" stroke-width=".6"/>
<path d="M267.7 141.4 L270.7 139.6 L267.3 136.9 L264.3 138.7Z" fill="#8b9100" stroke="#8b9100" stroke-width=".6"/>
<path d="M274.2 142.3 L277.2 140.6 L273.7 137.9 L270.7 139.6Z" fill="#8c9300" stroke="#8c9300" stroke-width=".6"/>
<path d="M134.2 144.5 L137.8 141.2 L134.8 139 L131.3 142.2Z" fill="#8c9400" stroke="#8c9400" stroke-width=".6"/>
<path d="M140.7 143.6 L144.2 140.4 L141.3 138.1 L137.8 141.2Z" fill="#8b9200" stroke="#8b9200" stroke-width=".6"/>
<path d="M173.3 140.3 L176.7 137.5 L173.6 135.1 L170.2 137.9Z" fill="#8a8b00" stroke="#8a8b00" stroke-width=".6"/>
<path d="M179.8 139.9 L183.2 137.1 L180.1 134.7 L176.7 137.5Z" fill="#8a8a00" stroke="#8a8a00" stroke-width=".6"/>
<path d="M186.3 139.6 L189.7 136.9 L186.6 134.5 L183.2 137.1Z" fill="#8a8900" stroke="#8a8900" stroke-width=".6"/>
<path d="M192.9 139.4 L196.2 136.8 L193 134.3 L189.7 136.9Z" fill="#8a8900" stroke="#8a8900" stroke-width=".6"/>
<path d="M199.4 139.3 L202.7 136.7 L199.5 134.3 L196.2 136.8Z" fill="#8a8900" stroke="#8a8900" stroke-width=".6"/>
<path d="M205.9 139.3 L209.2 136.8 L206 134.3 L202.7 136.7Z" fill="#8a8900" stroke="#8a8900" stroke-width=".6"/>
<path d="M212.4 139.3 L215.7 136.9 L212.5 134.4 L209.2 136.8Z" fill="#8a8900" stroke="#8a8900" stroke-width=".6"/>
<path d="M219 139.5 L222.2 137.2 L219 134.6 L215.7 136.9Z" fill="#8a8900" stroke="#8a8900" stroke-width=".6"/>
<path d="M225.5 139.8 L228.7 137.5 L225.4 134.9 L222.2 137.2Z" fill="#8a8a00" stroke="#8a8a00" stroke-width=".6"/>
<path d="M232 140.1 L235.2 137.9 L231.9 135.3 L228.7 137.5Z" fill="#8a8b00" stroke="#8a8b00" stroke-width=".6"/>
<path d="M238.6 140.6 L241.7 138.4 L238.4 135.8 L235.2 137.9Z" fill="#8a8c00" stroke="#8a8c00" stroke-width=".6"/>
<path d="M245.1 141.1 L248.2 139 L244.9 136.4 L241.7 138.4Z" fill="#8b8d00" stroke="#8b8d00" stroke-width=".6"/>
<path d="M251.6 141.7 L254.7 139.7 L251.3 137.1 L248.2 139Z" fill="#8b8e00" stroke="#8b8e00" stroke-width=".6"/>
<path d="M284.2 146.2 L287.1 144.5 L283.6 141.8 L280.7 143.4Z" fill="#889700" stroke="#889700" stroke-width=".6"/>
<path d="M290.7 147.4 L293.6 145.8 L290.1 143 L287.1 144.5Z" fill="#829700" stroke="#829700" stroke-width=".6"/>
<path d="M147.2 142.7 L150.7 139.6 L147.7 137.3 L144.2 140.4Z" fill="#8b9000" stroke="#8b9000" stroke-width=".6"/>
<path d="M153.7 142 L157.2 138.9 L154.2 136.6 L150.7 139.6Z" fill="#8b8e00" stroke="#8b8e00" stroke-width=".6"/>
<path d="M160.2 141.3 L163.7 138.4 L160.7 136 L157.2 138.9Z" fill="#8b8d00" stroke="#8b8d00" stroke-width=".6"/>
<path d="M166.7 140.7 L170.2 137.9 L167.1 135.5 L163.7 138.4Z" fill="#8a8c00" stroke="#8a8c00" stroke-width=".6"/>
<path d="M258.1 142.4 L261.2 140.5 L257.8 137.8 L254.7 139.7Z" fill="#8b9000" stroke="#8b9000" stroke-width=".6"/>
<path d="M264.6 143.2 L267.7 141.4 L264.3 138.7 L261.2 140.5Z" fill="#8b9200" stroke="#8b9200" stroke-width=".6"/>
<path d="M271.2 144.1 L274.2 142.3 L270.7 139.6 L267.7 141.4Z" fill="#8c9400" stroke="#8c9400" stroke-width=".6"/>
<path d="M277.7 145.1 L280.7 143.4 L277.2 140.6 L274.2 142.3Z" fill="#8c9600" stroke="#8c9600" stroke-width=".6"/>
<path d="M137.1 146.8 L140.7 143.6 L137.8 141.2 L134.2 144.5Z" fill="#8c9600" stroke="#8c9600" stroke-width=".6"/>
<path d="M287.7 149 L290.7 147.4 L287.1 144.5 L284.2 146.2Z" fill="#819700" stroke="#819700" stroke-width=".6"/>
<path d="M143.7 145.9 L147.2 142.7 L144.2 140.4 L140.7 143.6Z" fill="#8c9400" stroke="#8c9400" stroke-width=".6"/>
<path d="M150.2 145.1 L153.7 142 L150.7 139.6 L147.2 142.7Z" fill="#8b9200" stroke="#8b9200" stroke-width=".6"/>
<path d="M156.7 144.3 L160.2 141.3 L157.2 138.9 L153.7 142Z" fill="#8b9000" stroke="#8b9000" stroke-width=".6"/>
<path d="M163.3 143.7 L166.7 140.7 L163.7 138.4 L160.2 141.3Z" fill="#8b8f00" stroke="#8b8f00" stroke-width=".6"/>
<path d="M169.8 143.2 L173.3 140.3 L170.2 137.9 L166.7 140.7Z" fill="#8b8e00" stroke="#8b8e00" stroke-width=".6"/>
<path d="M176.4 142.7 L179.8 139.9 L176.7 137.5 L173.3 140.3Z" fill="#8b8d00" stroke="#8b8d00" stroke-width=".6"/>
<path d="M182.9 142.3 L186.3 139.6 L183.2 137.1 L179.8 139.9Z" fill="#8b8c00" stroke="#8b8c00" stroke-width=".6"/>
<path d="M189.5 142.1 L192.9 139.4 L189.7 136.9 L186.3 139.6Z" fill="#8a8b00" stroke="#8a8b00" stroke-width=".6"/>
<path d="M196 141.9 L199.4 139.3 L196.2 136.8 L192.9 139.4Z" fill="#8a8b00" stroke="#8a8b00" stroke-width=".6"/>
<path d="M202.6 141.8 L205.9 139.3 L202.7 136.7 L199.4 139.3Z" fill="#8a8b00" stroke="#8a8b00" stroke-width=".6"/>
<path d="M209.1 141.8 L212.4 139.3 L209.2 136.8 L205.9 139.3Z" fill="#8a8b00" stroke="#8a8b00" stroke-width=".6"/>
<path d="M215.7 141.9 L219 139.5 L215.7 136.9 L212.4 139.3Z" fill="#8a8b00" stroke="#8a8b00" stroke-width=".6"/>
<path d="M222.3 142.1 L225.5 139.8 L222.2 137.2 L219 139.5Z" fill="#8a8b00" stroke="#8a8b00" stroke-width=".6"/>
<path d="M228.8 142.4 L232 140.1 L228.7 137.5 L225.5 139.8Z" fill="#8b8c00" stroke="#8b8c00" stroke-width=".6"/>
<path d="M235.4 142.8 L238.6 140.6 L235.2 137.9 L232 140.1Z" fill="#8b8d00" stroke="#8b8d00" stroke-width=".6"/>
<path d="M241.9 143.2 L245.1 141.1 L241.7 138.4 L238.6 140.6Z" fill="#8b8e00" stroke="#8b8e00" stroke-width=".6"/>
<path d="M248.5 143.8 L251.6 141.7 L248.2 139 L245.1 141.1Z" fill="#8b8f00" stroke="#8b8f00" stroke-width=".6"/>
<path d="M255 144.4 L258.1 142.4 L254.7 139.7 L251.6 141.7Z" fill="#8b9100" stroke="#8b9100" stroke-width=".6"/>
<path d="M261.6 145.2 L264.6 143.2 L261.2 140.5 L258.1 142.4Z" fill="#8b9200" stroke="#8b9200" stroke-width=".6"/>
<path d="M268.1 146 L271.2 144.1 L267.7 141.4 L264.6 143.2Z" fill="#8c9400" stroke="#8c9400" stroke-width=".6"/>
<path d="M274.6 146.9 L277.7 145.1 L274.2 142.3 L271.2 144.1Z" fill="#8c9600" stroke="#8c9600" stroke-width=".6"/>
<path d="M281.2 147.9 L284.2 146.2 L280.7 143.4 L277.7 145.1Z" fill="#889700" stroke="#889700" stroke-width=".6"/>
<path d="M179.5 145.2 L182.9 142.3 L179.8 139.9 L176.4 142.7Z" fill="#8b8f00" stroke="#8b8f00" stroke-width=".6"/>
<path d="M186.1 144.9 L189.5 142.1 L186.3 139.6 L182.9 142.3Z" fill="#8b8e00" stroke="#8b8e00" stroke-width=".6"/>
<path d="M192.7 144.6 L196 141.9 L192.9 139.4 L189.5 142.1Z" fill="#8b8d00" stroke="#8b8d00" stroke-width=".6"/>
<path d="M199.2 144.5 L202.6 141.8 L199.4 139.3 L196 141.9Z" fill="#8b8d00" stroke="#8b8d00" stroke-width=".6"/>
<path d="M205.8 144.4 L209.1 141.8 L205.9 139.3 L202.6 141.8Z" fill="#8b8d00" stroke="#8b8d00" stroke-width=".6"/>
<path d="M219 144.5 L222.3 142.1 L219 139.5 L215.7 141.9Z" fill="#8b8d00" stroke="#8b8d00" stroke-width=".6"/>
<path d="M225.6 144.7 L228.8 142.4 L225.5 139.8 L222.3 142.1Z" fill="#8b8e00" stroke="#8b8e00" stroke-width=".6"/>
<path d="M232.2 145.1 L235.4 142.8 L232 140.1 L228.8 142.4Z" fill="#8b8f00" stroke="#8b8f00" stroke-width=".6"/>
<path d="M238.7 145.4 L241.9 143.2 L238.6 140.6 L235.4 142.8Z" fill="#8b8f00" stroke="#8b8f00" stroke-width=".6"/>
<path d="M245.3 145.9 L248.5 143.8 L245.1 141.1 L241.9 143.2Z" fill="#8b9100" stroke="#8b9100" stroke-width=".6"/>
<path d="M140.1 149.2 L143.7 145.9 L140.7 143.6 L137.1 146.8Z" fill="#8b9700" stroke="#8b9700" stroke-width=".6"/>
<path d="M146.7 148.3 L150.2 145.1 L147.2 142.7 L143.7 145.9Z" fill="#8c9500" stroke="#8c9500" stroke-width=".6"/>
<path d="M153.2 147.5 L156.7 144.3 L153.7 142 L150.2 145.1Z" fill="#8c9400" stroke="#8c9400" stroke-width=".6"/>
<path d="M159.8 146.8 L163.3 143.7 L160.2 141.3 L156.7 144.3Z" fill="#8b9200" stroke="#8b9200" stroke-width=".6"/>
<path d="M166.4 146.2 L169.8 143.2 L166.7 140.7 L163.3 143.7Z" fill="#8b9100" stroke="#8b9100" stroke-width=".6"/>
<path d="M172.9 145.6 L176.4 142.7 L173.3 140.3 L169.8 143.2Z" fill="#8b9000" stroke="#8b9000" stroke-width=".6"/>
<path d="M212.4 144.4 L215.7 141.9 L212.4 139.3 L209.1 141.8Z" fill="#8b8d00" stroke="#8b8d00" stroke-width=".6"/>
<path d="M251.9 146.5 L255 144.4 L251.6 141.7 L248.5 143.8Z" fill="#8b9200" stroke="#8b9200" stroke-width=".6"/>
<path d="M258.5 147.2 L261.6 145.2 L258.1 142.4 L255 144.4Z" fill="#8c9300" stroke="#8c9300" stroke-width=".6"/>
<path d="M265 148 L268.1 146 L264.6 143.2 L261.6 145.2Z" fill="#8c9500" stroke="#8c9500" stroke-width=".6"/>
<path d="M271.6 148.8 L274.6 146.9 L271.2 144.1 L268.1 146Z" fill="#8c9700" stroke="#8c9700" stroke-width=".6"/>
<path d="M278.2 149.8 L281.2 147.9 L277.7 145.1 L274.6 146.9Z" fill="#869700" stroke="#869700" stroke-width=".6"/>
<path d="M284.7 150.8 L287.7 149 L284.2 146.2 L281.2 147.9Z" fill="#809700" stroke="#809700" stroke-width=".6"/>
<path d="M143.1 151.6 L146.7 148.3 L143.7 145.9 L140.1 149.2Z" fill="#879700" stroke="#879700" stroke-width=".6"/>
<path d="M149.7 150.7 L153.2 147.5 L150.2 145.1 L146.7 148.3Z" fill="#8c9700" stroke="#8c9700" stroke-width=".6"/>
<path d="M156.3 149.9 L159.8 146.8 L156.7 144.3 L153.2 147.5Z" fill="#8c9500" stroke="#8c9500" stroke-width=".6"/>
<path d="M162.9 149.2 L166.4 146.2 L163.3 143.7 L159.8 146.8Z" fill="#8c9400" stroke="#8c9400" stroke-width=".6"/>
<path d="M169.4 148.6 L172.9 145.6 L169.8 143.2 L166.4 146.2Z" fill="#8b9300" stroke="#8b9300" stroke-width=".6"/>
<path d="M176.1 148.1 L179.5 145.2 L176.4 142.7 L172.9 145.6Z" fill="#8b9200" stroke="#8b9200" stroke-width=".6"/>
<path d="M182.7 147.7 L186.1 144.9 L182.9 142.3 L179.5 145.2Z" fill="#8b9100" stroke="#8b9100" stroke-width=".6"/>
<path d="M189.3 147.4 L192.7 144.6 L189.5 142.1 L186.1 144.9Z" fill="#8b9000" stroke="#8b9000" stroke-width=".6"/>
<path d="M195.9 147.2 L199.2 144.5 L196 141.9 L192.7 144.6Z" fill="#8b8f00" stroke="#8b8f00" stroke-width=".6"/>
<path d="M202.5 147 L205.8 144.4 L202.6 141.8 L199.2 144.5Z" fill="#8b8f00" stroke="#8b8f00" stroke-width=".6"/>
<path d="M209.1 147 L212.4 144.4 L209.1 141.8 L205.8 144.4Z" fill="#8b8f00" stroke="#8b8f00" stroke-width=".6"/>
<path d="M215.7 147.1 L219 144.5 L215.7 141.9 L212.4 144.4Z" fill="#8b8f00" stroke="#8b8f00" stroke-width=".6"/>
<path d="M222.3 147.2 L225.6 144.7 L222.3 142.1 L219 144.5Z" fill="#8b9000" stroke="#8b9000" stroke-width=".6"/>
<path d="M228.9 147.4 L232.2 145.1 L228.8 142.4 L225.6 144.7Z" fill="#8b9000" stroke="#8b9000" stroke-width=".6"/>
<path d="M235.5 147.8 L238.7 145.4 L235.4 142.8 L232.2 145.1Z" fill="#8b9100" stroke="#8b9100" stroke-width=".6"/>
<path d="M242.1 148.2 L245.3 145.9 L241.9 143.2 L238.7 145.4Z" fill="#8b9200" stroke="#8b9200" stroke-width=".6"/>
<path d="M248.7 148.7 L251.9 146.5 L248.5 143.8 L245.3 145.9Z" fill="#8b9300" stroke="#8b9300" stroke-width=".6"/>
<path d="M255.3 149.3 L258.5 147.2 L255 144.4 L251.9 146.5Z" fill="#8c9400" stroke="#8c9400" stroke-width=".6"/>
<path d="M261.9 150 L265 148 L261.6 145.2 L258.5 147.2Z" fill="#8c9600" stroke="#8c9600" stroke-width=".6"/>
<path d="M268.5 150.8 L271.6 148.8 L268.1 146 L265 148Z" fill="#8a9700" stroke="#8a9700" stroke-width=".6"/>
<path d="M275.1 151.7 L278.2 149.8 L274.6 146.9 L271.6 148.8Z" fill="#859700" stroke="#859700" stroke-width=".6"/>
<path d="M281.7 152.6 L284.7 150.8 L281.2 147.9 L278.2 149.8Z" fill="#7f9700" stroke="#7f9700" stroke-width=".6"/>
<path d="M185.8 150.3 L189.3 147.4 L186.1 144.9 L182.7 147.7Z" fill="#8b9300" stroke="#8b9300" stroke-width=".6"/>
<path d="M192.5 150 L195.9 147.2 L192.7 144.6 L189.3 147.4Z" fill="#8b9200" stroke="#8b9200" stroke-width=".6"/>
<path d="M199.1 149.8 L202.5 147 L199.2 144.5 L195.9 147.2Z" fill="#8b9200" stroke="#8b9200" stroke-width=".6"/>
<path d="M225.7 149.9 L228.9 147.4 L225.6 144.7 L222.3 147.2Z" fill="#8b9200" stroke="#8b9200" stroke-width=".6"/>
<path d="M232.3 150.2 L235.5 147.8 L232.2 145.1 L228.9 147.4Z" fill="#8b9300" stroke="#8b9300" stroke-width=".6"/>
<path d="M238.9 150.5 L242.1 148.2 L238.7 145.4 L235.5 147.8Z" fill="#8c9300" stroke="#8c9300" stroke-width=".6"/>
<path d="M146.1 154 L149.7 150.7 L146.7 148.3 L143.1 151.6Z" fill="#829700" stroke="#829700" stroke-width=".6"/>
<path d="M152.7 153.2 L156.3 149.9 L153.2 147.5 L149.7 150.7Z" fill="#879700" stroke="#879700" stroke-width=".6"/>
<path d="M159.3 152.4 L162.9 149.2 L159.8 146.8 L156.3 149.9Z" fill="#8b9700" stroke="#8b9700" stroke-width=".6"/>
<path d="M165.9 151.8 L169.4 148.6 L166.4 146.2 L162.9 149.2Z" fill="#8c9600" stroke="#8c9600" stroke-width=".6"/>
<path d="M172.6 151.2 L176.1 148.1 L172.9 145.6 L169.4 148.6Z" fill="#8c9500" stroke="#8c9500" stroke-width=".6"/>
<path d="M179.2 150.7 L182.7 147.7 L179.5 145.2 L176.1 148.1Z" fill="#8c9400" stroke="#8c9400" stroke-width=".6"/>
<path d="M205.7 149.7 L209.1 147 L205.8 144.4 L202.5 147Z" fill="#8b9100" stroke="#8b9100" stroke-width=".6"/>
<path d="M212.4 149.7 L215.7 147.1 L212.4 144.4 L209.1 147Z" fill="#8b9100" stroke="#8b9100" stroke-width=".6"/>
<path d="M219 149.7 L222.3 147.2 L219 144.5 L215.7 147.1Z" fill="#8b9200" stroke="#8b9200" stroke-width=".6"/>
<path d="M245.6 151 L248.7 148.7 L245.3 145.9 L242.1 148.2Z" fill="#8c9400" stroke="#8c9400" stroke-width=".6"/>
<path d="M252.2 151.5 L255.3 149.3 L251.9 146.5 L248.7 148.7Z" fill="#8c9600" stroke="#8c9600" stroke-width=".6"/>
<path d="M258.8 152.1 L261.9 150 L258.5 147.2 L255.3 149.3Z" fill="#8c9700" stroke="#8c9700" stroke-width=".6"/>
<path d="M265.4 152.8 L268.5 150.8 L265 148 L261.9 150Z" fill="#889700" stroke="#889700" stroke-width=".6"/>
<path d="M272.1 153.7 L275.1 151.7 L271.6 148.8 L268.5 150.8Z" fill="#839700" stroke="#839700" stroke-width=".6"/>
<path d="M278.7 154.6 L281.7 152.6 L278.2 149.8 L275.1 151.7Z" fill="#7e9700" stroke="#7e9700" stroke-width=".6"/>
<path d="M149.1 156.5 L152.7 153.2 L149.7 150.7 L146.1 154Z" fill="#7e9700" stroke="#7e9700" stroke-width=".6"/>
<path d="M155.8 155.7 L159.3 152.4 L156.3 149.9 L152.7 153.2Z" fill="#829700" stroke="#829700" stroke-width=".6"/>
<path d="M162.4 155 L165.9 151.8 L162.9 149.2 L159.3 152.4Z" fill="#869700" stroke="#869700" stroke-width=".6"/>
<path d="M169.1 154.3 L172.6 151.2 L169.4 148.6 L165.9 151.8Z" fill="#8a9700" stroke="#8a9700" stroke-width=".6"/>
<path d="M175.7 153.8 L179.2 150.7 L176.1 148.1 L172.6 151.2Z" fill="#8c9700" stroke="#8c9700" stroke-width=".6"/>
<path d="M182.4 153.3 L185.8 150.3 L182.7 147.7 L179.2 150.7Z" fill="#8c9600" stroke="#8c9600" stroke-width=".6"/>
<path d="M189 152.9 L192.5 150 L189.3 147.4 L185.8 150.3Z" fill="#8c9500" stroke="#8c9500" stroke-width=".6"/>
<path d="M195.7 152.6 L199.1 149.8 L195.9 147.2 L192.5 150Z" fill="#8c9400" stroke="#8c9400" stroke-width=".6"/>
<path d="M202.4 152.5 L205.7 149.7 L202.5 147 L199.1 149.8Z" fill="#8c9400" stroke="#8c9400" stroke-width=".6"/>
<path d="M209 152.4 L212.4 149.7 L209.1 147 L205.7 149.7Z" fill="#8c9400" stroke="#8c9400" stroke-width=".6"/>
<path d="M215.7 152.4 L219 149.7 L215.7 147.1 L212.4 149.7Z" fill="#8c9400" stroke="#8c9400" stroke-width=".6"/>
<path d="M222.4 152.5 L225.7 149.9 L222.3 147.2 L219 149.7Z" fill="#8c9400" stroke="#8c9400" stroke-width=".6"/>
<path d="M229 152.7 L232.3 150.2 L228.9 147.4 L225.7 149.9Z" fill="#8c9500" stroke="#8c9500" stroke-width=".6"/>
<path d="M235.7 152.9 L238.9 150.5 L235.5 147.8 L232.3 150.2Z" fill="#8c9500" stroke="#8c9500" stroke-width=".6"/>
<path d="M242.3 153.3 L245.6 151 L242.1 148.2 L238.9 150.5Z" fill="#8c9600" stroke="#8c9600" stroke-width=".6"/>
<path d="M249 153.8 L252.2 151.5 L248.7 148.7 L245.6 151Z" fill="#8c9700" stroke="#8c9700" stroke-width=".6"/>
<path d="M255.7 154.3 L258.8 152.1 L255.3 149.3 L252.2 151.5Z" fill="#899700" stroke="#899700" stroke-width=".6"/>
<path d="M262.3 155 L265.4 152.8 L261.9 150 L258.8 152.1Z" fill="#859700" stroke="#859700" stroke-width=".6"/>
<path d="M269 155.7 L272.1 153.7 L268.5 150.8 L265.4 152.8Z" fill="#819700" stroke="#819700" stroke-width=".6"/>
<path d="M275.6 156.6 L278.7 154.6 L275.1 151.7 L272.1 153.7Z" fill="#7c9600" stroke="#7c9600" stroke-width=".6"/>
<path d="M192.3 155.6 L195.7 152.6 L192.5 150 L189 152.9Z" fill="#8c9700" stroke="#8c9700" stroke-width=".6"/>
<path d="M232.4 155.5 L235.7 152.9 L232.3 150.2 L229 152.7Z" fill="#8c9700" stroke="#8c9700" stroke-width=".6"/>
<path d="M152.2 159.1 L155.8 155.7 L152.7 153.2 L149.1 156.5Z" fill="#799600" stroke="#799600" stroke-width=".6"/>
<path d="M158.9 158.3 L162.4 155 L159.3 152.4 L155.8 155.7Z" fill="#7d9700" stroke="#7d9700" stroke-width=".6"/>
<path d="M165.5 157.5 L169.1 154.3 L165.9 151.8 L162.4 155Z" fill="#819700" stroke="#819700" stroke-width=".6"/>
<path d="M172.2 156.9 L175.7 153.8 L172.6 151.2 L169.1 154.3Z" fill="#859700" stroke="#859700" stroke-width=".6"/>
<path d="M178.9 156.4 L182.4 153.3 L179.2 150.7 L175.7 153.8Z" fill="#889700" stroke="#889700" stroke-width=".6"/>
<path d="M185.6 155.9 L189 152.9 L185.8 150.3 L182.4 153.3Z" fill="#8a9700" stroke="#8a9700" stroke-width=".6"/>
<path d="M199 155.3 L202.4 152.5 L199.1 149.8 L195.7 152.6Z" fill="#8c9700" stroke="#8c9700" stroke-width=".6"/>
<path d="M205.7 155.2 L209 152.4 L205.7 149.7 L202.4 152.5Z" fill="#8c9600" stroke="#8c9600" stroke-width=".6"/>
<path d="M212.3 155.1 L215.7 152.4 L212.4 149.7 L209 152.4Z" fill="#8c9600" stroke="#8c9600" stroke-width=".6"/>
<path d="M219 155.1 L222.4 152.5 L219 149.7 L215.7 152.4Z" fill="#8c9600" stroke="#8c9600" stroke-width=".6"/>
<path d="M225.7 155.2 L229 152.7 L225.7 149.9 L222.4 152.5Z" fill="#8c9700" stroke="#8c9700" stroke-width=".6"/>
<path d="M239.1 155.8 L242.3 153.3 L238.9 150.5 L235.7 152.9Z" fill="#8a9700" stroke="#8a9700" stroke-width=".6"/>
<path d="M245.8 156.2 L249 153.8 L245.6 151 L242.3 153.3Z" fill="#889700" stroke="#889700" stroke-width=".6"/>
<path d="M252.5 156.6 L255.7 154.3 L252.2 151.5 L249 153.8Z" fill="#859700" stroke="#859700" stroke-width=".6"/>
<path d="M259.2 157.2 L262.3 155 L258.8 152.1 L255.7 154.3Z" fill="#829700" stroke="#829700" stroke-width=".6"/>
<path d="M265.8 157.9 L269 155.7 L265.4 152.8 L262.3 155Z" fill="#7e9700" stroke="#7e9700" stroke-width=".6"/>
<path d="M272.5 158.7 L275.6 156.6 L272.1 153.7 L269 155.7Z" fill="#7a9600" stroke="#7a9600" stroke-width=".6"/>
<path d="M155.3 161.7 L158.9 158.3 L155.8 155.7 L152.2 159.1Z" fill="#749600" stroke="#749600" stroke-width=".6"/>
<path d="M162 160.9 L165.5 157.5 L162.4 155 L158.9 158.3Z" fill="#789600" stroke="#789600" stroke-width=".6"/>
<path d="M168.7 160.2 L172.2 156.9 L169.1 154.3 L165.5 157.5Z" fill="#7c9600" stroke="#7c9600" stroke-width=".6"/>
<path d="M175.4 159.6 L178.9 156.4 L175.7 153.8 L172.2 156.9Z" fill="#7f9700" stroke="#7f9700" stroke-width=".6"/>
<path d="M182.1 159 L185.6 155.9 L182.4 153.3 L178.9 156.4Z" fill="#829700" stroke="#829700" stroke-width=".6"/>
<path d="M188.8 158.6 L192.3 155.6 L189 152.9 L185.6 155.9Z" fill="#849700" stroke="#849700" stroke-width=".6"/>
<path d="M195.5 158.3 L199 155.3 L195.7 152.6 L192.3 155.6Z" fill="#869700" stroke="#869700" stroke-width=".6"/>
<path d="M202.3 158.1 L205.7 155.2 L202.4 152.5 L199 155.3Z" fill="#879700" stroke="#879700" stroke-width=".6"/>
<path d="M209 157.9 L212.3 155.1 L209 152.4 L205.7 155.2Z" fill="#889700" stroke="#889700" stroke-width=".6"/>
<path d="M215.7 157.9 L219 155.1 L215.7 152.4 L212.3 155.1Z" fill="#889700" stroke="#889700" stroke-width=".6"/>
<path d="M222.4 157.9 L225.7 155.2 L222.4 152.5 L219 155.1Z" fill="#889700" stroke="#889700" stroke-width=".6"/>
<path d="M229.1 158.1 L232.4 155.5 L229 152.7 L225.7 155.2Z" fill="#879700" stroke="#879700" stroke-width=".6"/>
<path d="M235.8 158.3 L239.1 155.8 L235.7 152.9 L232.4 155.5Z" fill="#869700" stroke="#869700" stroke-width=".6"/>
<path d="M242.6 158.6 L245.8 156.2 L242.3 153.3 L239.1 155.8Z" fill="#849700" stroke="#849700" stroke-width=".6"/>
<path d="M249.3 159 L252.5 156.6 L249 153.8 L245.8 156.2Z" fill="#819700" stroke="#819700" stroke-width=".6"/>
<path d="M256 159.6 L259.2 157.2 L255.7 154.3 L252.5 156.6Z" fill="#7e9700" stroke="#7e9700" stroke-width=".6"/>
<path d="M262.7 160.2 L265.8 157.9 L262.3 155 L259.2 157.2Z" fill="#7b9600" stroke="#7b9600" stroke-width=".6"/>
<path d="M269.4 160.9 L272.5 158.7 L269 155.7 L265.8 157.9Z" fill="#779600" stroke="#779600" stroke-width=".6"/>
<path d="M158.4 164.3 L162 160.9 L158.9 158.3 L155.3 161.7Z" fill="#6f9600" stroke="#6f9600" stroke-width=".6"/>
<path d="M165.1 163.5 L168.7 160.2 L165.5 157.5 L162 160.9Z" fill="#739600" stroke="#739600" stroke-width=".6"/>
<path d="M171.9 162.8 L175.4 159.6 L172.2 156.9 L168.7 160.2Z" fill="#779600" stroke="#779600" stroke-width=".6"/>
<path d="M178.6 162.2 L182.1 159 L178.9 156.4 L175.4 159.6Z" fill="#7a9600" stroke="#7a9600" stroke-width=".6"/>
<path d="M185.3 161.7 L188.8 158.6 L185.6 155.9 L182.1 159Z" fill="#7d9600" stroke="#7d9600" stroke-width=".6"/>
<path d="M192.1 161.3 L195.5 158.3 L192.3 155.6 L188.8 158.6Z" fill="#7f9700" stroke="#7f9700" stroke-width=".6"/>
<path d="M198.8 161 L202.3 158.1 L199 155.3 L195.5 158.3Z" fill="#809700" stroke="#809700" stroke-width=".6"/>
<path d="M205.6 160.8 L209 157.9 L205.7 155.2 L202.3 158.1Z" fill="#819700" stroke="#819700" stroke-width=".6"/>
<path d="M212.3 160.7 L215.7 157.9 L212.3 155.1 L209 157.9Z" fill="#829700" stroke="#829700" stroke-width=".6"/>
<path d="M219.1 160.7 L222.4 157.9 L219 155.1 L215.7 157.9Z" fill="#829700" stroke="#829700" stroke-width=".6"/>
<path d="M225.8 160.8 L229.1 158.1 L225.7 155.2 L222.4 157.9Z" fill="#829700" stroke="#829700" stroke-width=".6"/>
<path d="M232.6 160.9 L235.8 158.3 L232.4 155.5 L229.1 158.1Z" fill="#819700" stroke="#819700" stroke-width=".6"/>
<path d="M239.3 161.2 L242.6 158.6 L239.1 155.8 L235.8 158.3Z" fill="#7f9700" stroke="#7f9700" stroke-width=".6"/>
<path d="M246 161.5 L249.3 159 L245.8 156.2 L242.6 158.6Z" fill="#7d9700" stroke="#7d9700" stroke-width=".6"/>
<path d="M252.8 162 L256 159.6 L252.5 156.6 L249.3 159Z" fill="#7b9600" stroke="#7b9600" stroke-width=".6"/>
<path d="M259.5 162.5 L262.7 160.2 L259.2 157.2 L256 159.6Z" fill="#789600" stroke="#789600" stroke-width=".6"/>
<path d="M266.3 163.2 L269.4 160.9 L265.8 157.9 L262.7 160.2Z" fill="#749600" stroke="#749600" stroke-width=".6"/>
<path d="M161.5 167 L165.1 163.5 L162 160.9 L158.4 164.3Z" fill="#6b9600" stroke="#6b9600" stroke-width=".6"/>
<path d="M168.3 166.2 L171.9 162.8 L168.7 160.2 L165.1 163.5Z" fill="#6e9600" stroke="#6e9600" stroke-width=".6"/>
<path d="M175.1 165.5 L178.6 162.2 L175.4 159.6 L171.9 162.8Z" fill="#729600" stroke="#729600" stroke-width=".6"/>
<path d="M181.8 165 L185.3 161.7 L182.1 159 L178.6 162.2Z" fill="#759600" stroke="#759600" stroke-width=".6"/>
<path d="M188.6 164.5 L192.1 161.3 L188.8 158.6 L185.3 161.7Z" fill="#779600" stroke="#779600" stroke-width=".6"/>
<path d="M195.4 164.1 L198.8 161 L195.5 158.3 L192.1 161.3Z" fill="#799600" stroke="#799600" stroke-width=".6"/>
<path d="M202.1 163.8 L205.6 160.8 L202.3 158.1 L198.8 161Z" fill="#7a9600" stroke="#7a9600" stroke-width=".6"/>
<path d="M208.9 163.6 L212.3 160.7 L209 157.9 L205.6 160.8Z" fill="#7b9600" stroke="#7b9600" stroke-width=".6"/>
<path d="M215.7 163.5 L219.1 160.7 L215.7 157.9 L212.3 160.7Z" fill="#7c9600" stroke="#7c9600" stroke-width=".6"/>
<path d="M222.5 163.5 L225.8 160.8 L222.4 157.9 L219.1 160.7Z" fill="#7c9600" stroke="#7c9600" stroke-width=".6"/>
<path d="M229.2 163.6 L232.6 160.9 L229.1 158.1 L225.8 160.8Z" fill="#7b9600" stroke="#7b9600" stroke-width=".6"/>
<path d="M236 163.8 L239.3 161.2 L235.8 158.3 L232.6 160.9Z" fill="#7a9600" stroke="#7a9600" stroke-width=".6"/>
<path d="M242.8 164.1 L246 161.5 L242.6 158.6 L239.3 161.2Z" fill="#799600" stroke="#799600" stroke-width=".6"/>
<path d="M249.5 164.5 L252.8 162 L249.3 159 L246 161.5Z" fill="#769600" stroke="#769600" stroke-width=".6"/>
<path d="M256.3 165 L259.5 162.5 L256 159.6 L252.8 162Z" fill="#749600" stroke="#749600" stroke-width=".6"/>
<path d="M263.1 165.5 L266.3 163.2 L262.7 160.2 L259.5 162.5Z" fill="#719600" stroke="#719600" stroke-width=".6"/>
<path d="M164.7 169.7 L168.3 166.2 L165.1 163.5 L161.5 167Z" fill="#679700" stroke="#679700" stroke-width=".6"/>
<path d="M171.5 168.9 L175.1 165.5 L171.9 162.8 L168.3 166.2Z" fill="#6a9700" stroke="#6a9700" stroke-width=".6"/>
<path d="M178.3 168.3 L181.8 165 L178.6 162.2 L175.1 165.5Z" fill="#6d9600" stroke="#6d9600" stroke-width=".6"/>
<path d="M185.1 167.7 L188.6 164.5 L185.3 161.7 L181.8 165Z" fill="#6f9600" stroke="#6f9600" stroke-width=".6"/>
<path d="M191.9 167.3 L195.4 164.1 L192.1 161.3 L188.6 164.5Z" fill="#719600" stroke="#719600" stroke-width=".6"/>
<path d="M198.7 166.9 L202.1 163.8 L198.8 161 L195.4 164.1Z" fill="#739600" stroke="#739600" stroke-width=".6"/>
<path d="M205.5 166.7 L208.9 163.6 L205.6 160.8 L202.1 163.8Z" fill="#759600" stroke="#759600" stroke-width=".6"/>
<path d="M212.3 166.5 L215.7 163.5 L212.3 160.7 L208.9 163.6Z" fill="#759600" stroke="#759600" stroke-width=".6"/>
<path d="M219.1 166.4 L222.5 163.5 L219.1 160.7 L215.7 163.5Z" fill="#769600" stroke="#769600" stroke-width=".6"/>
<path d="M225.9 166.5 L229.2 163.6 L225.8 160.8 L222.5 163.5Z" fill="#759600" stroke="#759600" stroke-width=".6"/>
<path d="M232.7 166.6 L236 163.8 L232.6 160.9 L229.2 163.6Z" fill="#759600" stroke="#759600" stroke-width=".6"/>
<path d="M239.5 166.8 L242.8 164.1 L239.3 161.2 L236 163.8Z" fill="#749600" stroke="#749600" stroke-width=".6"/>
<path d="M246.3 167.1 L249.5 164.5 L246 161.5 L242.8 164.1Z" fill="#729600" stroke="#729600" stroke-width=".6"/>
<path d="M253.1 167.5 L256.3 165 L252.8 162 L249.5 164.5Z" fill="#709600" stroke="#709600" stroke-width=".6"/>
<path d="M259.9 168 L263.1 165.5 L259.5 162.5 L256.3 165Z" fill="#6d9600" stroke="#6d9600" stroke-width=".6"/>
<path d="M167.9 172.4 L171.5 168.9 L168.3 166.2 L164.7 169.7Z" fill="#639800" stroke="#639800" stroke-width=".6"/>
<path d="M174.7 171.7 L178.3 168.3 L175.1 165.5 L171.5 168.9Z" fill="#669700" stroke="#669700" stroke-width=".6"/>
<path d="M188.4 170.6 L191.9 167.3 L188.6 164.5 L185.1 167.7Z" fill="#6a9700" stroke="#6a9700" stroke-width=".6"/>
<path d="M195.2 170.1 L198.7 166.9 L195.4 164.1 L191.9 167.3Z" fill="#6c9600" stroke="#6c9600" stroke-width=".6"/>
<path d="M202 169.8 L205.5 166.7 L202.1 163.8 L198.7 166.9Z" fill="#6d9600" stroke="#6d9600" stroke-width=".6"/>
<path d="M208.8 169.6 L212.3 166.5 L208.9 163.6 L205.5 166.7Z" fill="#6e9600" stroke="#6e9600" stroke-width=".6"/>
<path d="M215.7 169.4 L219.1 166.4 L215.7 163.5 L212.3 166.5Z" fill="#6f9600" stroke="#6f9600" stroke-width=".6"/>
<path d="M222.5 169.4 L225.9 166.5 L222.5 163.5 L219.1 166.4Z" fill="#6f9600" stroke="#6f9600" stroke-width=".6"/>
<path d="M229.3 169.4 L232.7 166.6 L229.2 163.6 L225.9 166.5Z" fill="#6f9600" stroke="#6f9600" stroke-width=".6"/>
<path d="M236.2 169.5 L239.5 166.8 L236 163.8 L232.7 166.6Z" fill="#6e9600" stroke="#6e9600" stroke-width=".6"/>
<path d="M249.8 170.1 L253.1 167.5 L249.5 164.5 L246.3 167.1Z" fill="#6c9600" stroke="#6c9600" stroke-width=".6"/>
<path d="M256.6 170.5 L259.9 168 L256.3 165 L253.1 167.5Z" fill="#6a9700" stroke="#6a9700" stroke-width=".6"/>
<path d="M181.5 171.1 L185.1 167.7 L181.8 165 L178.3 168.3Z" fill="#689700" stroke="#689700" stroke-width=".6"/>
<path d="M243 169.8 L246.3 167.1 L242.8 164.1 L239.5 166.8Z" fill="#6d9600" stroke="#6d9600" stroke-width=".6"/>
<path d="M171.1 175.2 L174.7 171.7 L171.5 168.9 L167.9 172.4Z" fill="#5f9800" stroke="#5f9800" stroke-width=".6"/>
<path d="M191.7 173.4 L195.2 170.1 L191.9 167.3 L188.4 170.6Z" fill="#669700" stroke="#669700" stroke-width=".6"/>
<path d="M198.5 173 L202 169.8 L198.7 166.9 L195.2 170.1Z" fill="#689700" stroke="#689700" stroke-width=".6"/>
<path d="M205.4 172.7 L208.8 169.6 L205.5 166.7 L202 169.8Z" fill="#699700" stroke="#699700" stroke-width=".6"/>
<path d="M212.2 172.5 L215.7 169.4 L212.3 166.5 L208.8 169.6Z" fill="#6a9700" stroke="#6a9700" stroke-width=".6"/>
<path d="M219.1 172.4 L222.5 169.4 L219.1 166.4 L215.7 169.4Z" fill="#6a9700" stroke="#6a9700" stroke-width=".6"/>
<path d="M226 172.3 L229.3 169.4 L225.9 166.5 L222.5 169.4Z" fill="#6a9700" stroke="#6a9700" stroke-width=".6"/>
<path d="M232.8 172.4 L236.2 169.5 L232.7 166.6 L229.3 169.4Z" fill="#6a9700" stroke="#6a9700" stroke-width=".6"/>
<path d="M253.4 173.2 L256.6 170.5 L253.1 167.5 L249.8 170.1Z" fill="#679700" stroke="#679700" stroke-width=".6"/>
<path d="M178 174.5 L181.5 171.1 L178.3 168.3 L174.7 171.7Z" fill="#629800" stroke="#629800" stroke-width=".6"/>
<path d="M184.8 173.9 L188.4 170.6 L185.1 167.7 L181.5 171.1Z" fill="#649800" stroke="#649800" stroke-width=".6"/>
<path d="M239.7 172.6 L243 169.8 L239.5 166.8 L236.2 169.5Z" fill="#699700" stroke="#699700" stroke-width=".6"/>
<path d="M246.5 172.8 L249.8 170.1 L246.3 167.1 L243 169.8Z" fill="#689700" stroke="#689700" stroke-width=".6"/>
<path d="M195 176.3 L198.5 173 L195.2 170.1 L191.7 173.4Z" fill="#629800" stroke="#629800" stroke-width=".6"/>
<path d="M201.9 176 L205.4 172.7 L202 169.8 L198.5 173Z" fill="#639800" stroke="#639800" stroke-width=".6"/>
<path d="M208.8 175.7 L212.2 172.5 L208.8 169.6 L205.4 172.7Z" fill="#649800" stroke="#649800" stroke-width=".6"/>
<path d="M215.7 175.5 L219.1 172.4 L215.7 169.4 L212.2 172.5Z" fill="#659700" stroke="#659700" stroke-width=".6"/>
<path d="M222.6 175.4 L226 172.3 L222.5 169.4 L219.1 172.4Z" fill="#659700" stroke="#659700" stroke-width=".6"/>
<path d="M229.4 175.4 L232.8 172.4 L229.3 169.4 L226 172.3Z" fill="#659700" stroke="#659700" stroke-width=".6"/>
<path d="M174.4 178.1 L178 174.5 L174.7 171.7 L171.1 175.2Z" fill="#5b9900" stroke="#5b9900" stroke-width=".6"/>
<path d="M181.3 177.4 L184.8 173.9 L181.5 171.1 L178 174.5Z" fill="#5e9900" stroke="#5e9900" stroke-width=".6"/>
<path d="M188.1 176.8 L191.7 173.4 L188.4 170.6 L184.8 173.9Z" fill="#609800" stroke="#609800" stroke-width=".6"/>
<path d="M236.3 175.5 L239.7 172.6 L236.2 169.5 L232.8 172.4Z" fill="#659700" stroke="#659700" stroke-width=".6"/>
<path d="M243.2 175.6 L246.5 172.8 L243 169.8 L239.7 172.6Z" fill="#649800" stroke="#649800" stroke-width=".6"/>
<path d="M250.1 175.9 L253.4 173.2 L249.8 170.1 L246.5 172.8Z" fill="#639800" stroke="#639800" stroke-width=".6"/>
<path d="M198.4 179.3 L201.9 176 L198.5 173 L195 176.3Z" fill="#5d9900" stroke="#5d9900" stroke-width=".6"/>
<path d="M205.3 178.9 L208.8 175.7 L205.4 172.7 L201.9 176Z" fill="#5f9900" stroke="#5f9900" stroke-width=".6"/>
<path d="M219.1 178.5 L222.6 175.4 L219.1 172.4 L215.7 175.5Z" fill="#609800" stroke="#609800" stroke-width=".6"/>
<path d="M226 178.4 L229.4 175.4 L226 172.3 L222.6 175.4Z" fill="#619800" stroke="#619800" stroke-width=".6"/>
<path d="M177.7 181 L181.3 177.4 L178 174.5 L174.4 178.1Z" fill="#579a00" stroke="#579a00" stroke-width=".6"/>
<path d="M184.6 180.3 L188.1 176.8 L184.8 173.9 L181.3 177.4Z" fill="#5a9900" stroke="#5a9900" stroke-width=".6"/>
<path d="M191.5 179.8 L195 176.3 L191.7 173.4 L188.1 176.8Z" fill="#5c9900" stroke="#5c9900" stroke-width=".6"/>
<path d="M212.2 178.7 L215.7 175.5 L212.2 172.5 L208.8 175.7Z" fill="#609800" stroke="#609800" stroke-width=".6"/>
<path d="M233 178.4 L236.3 175.5 L232.8 172.4 L229.4 175.4Z" fill="#619800" stroke="#619800" stroke-width=".6"/>
<path d="M239.9 178.6 L243.2 175.6 L239.7 172.6 L236.3 175.5Z" fill="#609800" stroke="#609800" stroke-width=".6"/>
<path d="M246.8 178.8 L250.1 175.9 L246.5 172.8 L243.2 175.6Z" fill="#5f9800" stroke="#5f9800" stroke-width=".6"/>
<path d="M201.8 182.3 L205.3 178.9 L201.9 176 L198.4 179.3Z" fill="#599a00" stroke="#599a00" stroke-width=".6"/>
<path d="M222.6 181.6 L226 178.4 L222.6 175.4 L219.1 178.5Z" fill="#5c9900" stroke="#5c9900" stroke-width=".6"/>
<path d="M181 183.9 L184.6 180.3 L181.3 177.4 L177.7 181Z" fill="#539b00" stroke="#539b00" stroke-width=".6"/>
<path d="M187.9 183.3 L191.5 179.8 L188.1 176.8 L184.6 180.3Z" fill="#559a00" stroke="#559a00" stroke-width=".6"/>
<path d="M194.8 182.8 L198.4 179.3 L195 176.3 L191.5 179.8Z" fill="#579a00" stroke="#579a00" stroke-width=".6"/>
<path d="M208.7 182 L212.2 178.7 L208.8 175.7 L205.3 178.9Z" fill="#5a9900" stroke="#5a9900" stroke-width=".6"/>
<path d="M215.7 181.7 L219.1 178.5 L215.7 175.5 L212.2 178.7Z" fill="#5b9900" stroke="#5b9900" stroke-width=".6"/>
<path d="M229.6 181.5 L233 178.4 L229.4 175.4 L226 178.4Z" fill="#5c9900" stroke="#5c9900" stroke-width=".6"/>
<path d="M236.5 181.6 L239.9 178.6 L236.3 175.5 L233 178.4Z" fill="#5c9900" stroke="#5c9900" stroke-width=".6"/>
<path d="M243.4 181.7 L246.8 178.8 L243.2 175.6 L239.9 178.6Z" fill="#5b9900" stroke="#5b9900" stroke-width=".6"/>
<path d="M184.3 186.9 L187.9 183.3 L184.6 180.3 L181 183.9Z" fill="#4e9b00" stroke="#4e9b00" stroke-width=".6"/>
<path d="M191.3 186.3 L194.8 182.8 L191.5 179.8 L187.9 183.3Z" fill="#519b00" stroke="#519b00" stroke-width=".6"/>
<path d="M198.2 185.8 L201.8 182.3 L198.4 179.3 L194.8 182.8Z" fill="#539b00" stroke="#539b00" stroke-width=".6"/>
<path d="M205.2 185.4 L208.7 182 L205.3 178.9 L201.8 182.3Z" fill="#549a00" stroke="#549a00" stroke-width=".6"/>
<path d="M212.2 185 L215.7 181.7 L212.2 178.7 L208.7 182Z" fill="#569a00" stroke="#569a00" stroke-width=".6"/>
<path d="M219.1 184.8 L222.6 181.6 L219.1 178.5 L215.7 181.7Z" fill="#569a00" stroke="#569a00" stroke-width=".6"/>
<path d="M226.1 184.7 L229.6 181.5 L226 178.4 L222.6 181.6Z" fill="#579a00" stroke="#579a00" stroke-width=".6"/>
<path d="M233.1 184.7 L236.5 181.6 L233 178.4 L229.6 181.5Z" fill="#579a00" stroke="#579a00" stroke-width=".6"/>
<path d="M240.1 184.7 L243.4 181.7 L239.9 178.6 L236.5 181.6Z" fill="#579a00" stroke="#579a00" stroke-width=".6"/>
<path d="M187.7 190 L191.3 186.3 L187.9 183.3 L184.3 186.9Z" fill="#479b00" stroke="#479b00" stroke-width=".6"/>
<path d="M194.7 189.4 L198.2 185.8 L194.8 182.8 L191.3 186.3Z" fill="#4b9b00" stroke="#4b9b00" stroke-width=".6"/>
<path d="M201.7 188.9 L205.2 185.4 L201.8 182.3 L198.2 185.8Z" fill="#4d9b00" stroke="#4d9b00" stroke-width=".6"/>
<path d="M208.7 188.5 L212.2 185 L208.7 182 L205.2 185.4Z" fill="#4f9b00" stroke="#4f9b00" stroke-width=".6"/>
<path d="M215.7 188.2 L219.1 184.8 L215.7 181.7 L212.2 185Z" fill="#519b00" stroke="#519b00" stroke-width=".6"/>
<path d="M222.7 188 L226.1 184.7 L222.6 181.6 L219.1 184.8Z" fill="#519b00" stroke="#519b00" stroke-width=".6"/>
<path d="M229.7 187.9 L233.1 184.7 L229.6 181.5 L226.1 184.7Z" fill="#529b00" stroke="#529b00" stroke-width=".6"/>
<path d="M236.7 187.9 L240.1 184.7 L236.5 181.6 L233.1 184.7Z" fill="#529b00" stroke="#529b00" stroke-width=".6"/>
<path d="M191.1 193 L194.7 189.4 L191.3 186.3 L187.7 190Z" fill="#419c00" stroke="#419c00" stroke-width=".6"/>
<path d="M205.1 192 L208.7 188.5 L205.2 185.4 L201.7 188.9Z" fill="#469b00" stroke="#469b00" stroke-width=".6"/>
<path d="M212.1 191.6 L215.7 188.2 L212.2 185 L208.7 188.5Z" fill="#489b00" stroke="#489b00" stroke-width=".6"/>
<path d="M219.2 191.4 L222.7 188 L219.1 184.8 L215.7 188.2Z" fill="#4a9b00" stroke="#4a9b00" stroke-width=".6"/>
<path d="M233.2 191.1 L236.7 187.9 L233.1 184.7 L229.7 187.9Z" fill="#4b9b00" stroke="#4b9b00" stroke-width=".6"/>
<path d="M198.1 192.5 L201.7 188.9 L198.2 185.8 L194.7 189.4Z" fill="#449c00" stroke="#449c00" stroke-width=".6"/>
<path d="M226.2 191.2 L229.7 187.9 L226.1 184.7 L222.7 188Z" fill="#4b9b00" stroke="#4b9b00" stroke-width=".6"/>
<path d="M208.6 195.2 L212.1 191.6 L208.7 188.5 L205.1 192Z" fill="#3f9c00" stroke="#3f9c00" stroke-width=".6"/>
<path d="M215.7 194.8 L219.2 191.4 L215.7 188.2 L212.1 191.6Z" fill="#419c00" stroke="#419c00" stroke-width=".6"/>
<path d="M194.5 196.2 L198.1 192.5 L194.7 189.4 L191.1 193Z" fill="#3a9c00" stroke="#3a9c00" stroke-width=".6"/>
<path d="M201.5 195.6 L205.1 192 L201.7 188.9 L198.1 192.5Z" fill="#3d9c00" stroke="#3d9c00" stroke-width=".6"/>
<path d="M222.7 194.6 L226.2 191.2 L222.7 188 L219.2 191.4Z" fill="#439c00" stroke="#439c00" stroke-width=".6"/>
<path d="M229.8 194.4 L233.2 191.1 L229.7 187.9 L226.2 191.2Z" fill="#439c00" stroke="#439c00" stroke-width=".6"/>
<path d="M197.9 199.4 L201.5 195.6 L198.1 192.5 L194.5 196.2Z" fill="#339c00" stroke="#339c00" stroke-width=".6"/>
<path d="M205 198.8 L208.6 195.2 L205.1 192 L201.5 195.6Z" fill="#369c00" stroke="#369c00" stroke-width=".6"/>
<path d="M212.1 198.4 L215.7 194.8 L212.1 191.6 L208.6 195.2Z" fill="#389c00" stroke="#389c00" stroke-width=".6"/>
<path d="M219.2 198.1 L222.7 194.6 L219.2 191.4 L215.7 194.8Z" fill="#3a9c00" stroke="#3a9c00" stroke-width=".6"/>
<path d="M226.3 197.9 L229.8 194.4 L226.2 191.2 L222.7 194.6Z" fill="#3b9c00" stroke="#3b9c00" stroke-width=".6"/>
<path d="M201.4 202.6 L205 198.8 L201.5 195.6 L197.9 199.4Z" fill="#2c9d00" stroke="#2c9d00" stroke-width=".6"/>
<path d="M208.5 202.1 L212.1 198.4 L208.6 195.2 L205 198.8Z" fill="#2f9d00" stroke="#2f9d00" stroke-width=".6"/>
<path d="M215.6 201.7 L219.2 198.1 L215.7 194.8 L212.1 198.4Z" fill="#319d00" stroke="#319d00" stroke-width=".6"/>
<path d="M222.8 201.4 L226.3 197.9 L222.7 194.6 L219.2 198.1Z" fill="#339c00" stroke="#339c00" stroke-width=".6"/>
<path d="M204.9 205.9 L208.5 202.1 L205 198.8 L201.4 202.6Z" fill="#279d00" stroke="#279d00" stroke-width=".6"/>
<path d="M212.1 205.4 L215.6 201.7 L212.1 198.4 L208.5 202.1Z" fill="#289d00" stroke="#289d00" stroke-width=".6"/>
<path d="M219.2 205 L222.8 201.4 L219.2 198.1 L215.6 201.7Z" fill="#2a9d00" stroke="#2a9d00" stroke-width=".6"/>
<path d="M208.5 209.2 L212.1 205.4 L208.5 202.1 L204.9 205.9Z" fill="#269b01" stroke="#269b01" stroke-width=".6"/>
<path d="M215.6 208.8 L219.2 205 L215.6 201.7 L212.1 205.4Z" fill="#269c01" stroke="#269c01" stroke-width=".6"/>
<path d="M212 212.6 L215.6 208.8 L212.1 205.4 L208.5 209.2Z" fill="#249a02" stroke="#249a02" stroke-width=".6"/>
<line x1="206.4" y1="46.1" x2="206.4" y2="75.8" class="f"/>
<rect x="188.4" y="34.5" width="18" height="11.2" fill="#fff" stroke="#777" stroke-width=".9"/>
<text x="189" y="41.9" font-size="7.8" text-anchor="start" fill="#000" stroke="#000" textLength="16.8" lengthAdjust="spacingAndGlyphs">77.9762</text>
<text x="112.9" y="92.6" font-size="10.5" text-anchor="end" fill="#000" stroke="#000" textLength="6" lengthAdjust="spacingAndGlyphs">80</text>
<text x="115.1" y="132.7" font-size="10.5" text-anchor="end" fill="#000" stroke="#000" textLength="7" lengthAdjust="spacingAndGlyphs">75</text>
<text x="115.9" y="171.8" font-size="10.5" text-anchor="end" fill="#000" stroke="#000" textLength="7" lengthAdjust="spacingAndGlyphs">70</text>
<text x="116.8" y="211.8" font-size="10.5" text-anchor="end" fill="#000" stroke="#000" textLength="7.1" lengthAdjust="spacingAndGlyphs">65</text>
<text x="117.9" y="250.6" font-size="10.5" text-anchor="end" fill="#000" stroke="#000" textLength="7.1" lengthAdjust="spacingAndGlyphs">60</text>
<text x="115.7" y="311.9" font-size="10.5" text-anchor="start" fill="#000" stroke="#000" textLength="3.3" lengthAdjust="spacingAndGlyphs">4</text>
<text x="132.3" y="330.3" font-size="10.5" text-anchor="start" fill="#000" stroke="#000" textLength="9.4" lengthAdjust="spacingAndGlyphs">3.5</text>
<text x="160.6" y="348.5" font-size="10.5" text-anchor="start" fill="#000" stroke="#000" textLength="3.1" lengthAdjust="spacingAndGlyphs">3</text>
<text x="177.8" y="365.7" font-size="10.5" text-anchor="start" fill="#000" stroke="#000" textLength="9.4" lengthAdjust="spacingAndGlyphs">2.5</text>
<text x="205.6" y="383.4" font-size="10.5" text-anchor="start" fill="#000" stroke="#000" textLength="3.4" lengthAdjust="spacingAndGlyphs">2</text>
<text x="215.8" y="384.2" font-size="10.5" text-anchor="start" fill="#000" stroke="#000" textLength="7.2" lengthAdjust="spacingAndGlyphs">40</text>
<text x="238.5" y="366.7" font-size="10.5" text-anchor="start" fill="#000" stroke="#000" textLength="7.3" lengthAdjust="spacingAndGlyphs">50</text>
<text x="261" y="348.7" font-size="10.5" text-anchor="start" fill="#000" stroke="#000" textLength="7.4" lengthAdjust="spacingAndGlyphs">60</text>
<text x="283.8" y="330" font-size="10.5" text-anchor="start" fill="#000" stroke="#000" textLength="7" lengthAdjust="spacingAndGlyphs">70</text>
<text x="305.7" y="312" font-size="10.5" text-anchor="start" fill="#000" stroke="#000" textLength="7.8" lengthAdjust="spacingAndGlyphs">80</text>
<text x="79.5" y="372.5" font-size="14" text-anchor="start" fill="#000" stroke="#000" textLength="107.9" lengthAdjust="spacingAndGlyphs">B: Impregnation Ratio (g/ml)</text>
<text x="252.4" y="372.5" font-size="14" text-anchor="start" fill="#000" stroke="#000" textLength="80.3" lengthAdjust="spacingAndGlyphs">A: Concentration (%)</text>
<text transform="translate(97,260) rotate(-90) scale(0.66,1)" font-size="13.8" stroke="#000" stroke-width="0.2" x="3 18.3 31.8 39.3 50.7 63.6 82.2 97.3 101.5 113.6 117.2 137.6 144.9 165.3" y="0">CarbonYield(%)</text>
<text transform="translate(1.4,8.2) scale(0.5,1)" font-size="10.2" fill="#000" stroke="#000" stroke-width="0" textLength="126.2" lengthAdjust="spacing">Design-Expert® Software</text>
<text transform="translate(1.4,19) scale(0.5,1)" font-size="10.2" fill="#000" stroke="#000" stroke-width="0" textLength="108.2" lengthAdjust="spacing">Factor Coding: Actual</text>
<text transform="translate(1.4,29.5) scale(0.5,1)" font-size="10.2" fill="#000" stroke="#000" stroke-width="0" textLength="85.2" lengthAdjust="spacing">Carbon Yield (%)</text>
<text transform="translate(1.4,85.3) scale(0.5,1)" font-size="10.2" fill="#000" stroke="#000" stroke-width="0" textLength="111" lengthAdjust="spacing">X1 = A: Concentration</text>
<text transform="translate(1.4,96.1) scale(0.5,1)" font-size="10.2" fill="#000" stroke="#000" stroke-width="0" textLength="134.4" lengthAdjust="spacing">X2 = B: Impregnation Ratio</text>
<text transform="translate(1.4,118.3) scale(0.5,1)" font-size="10.2" fill="#000" stroke="#000" stroke-width="0" textLength="73" lengthAdjust="spacing">Actual Factors</text>
<text transform="translate(1.4,129.2) scale(0.5,1)" font-size="10.2" fill="#000" stroke="#000" stroke-width="0" textLength="184.2" lengthAdjust="spacing">C: Activation Temperature = 523.683</text>
<text transform="translate(1.4,140) scale(0.5,1)" font-size="10.2" fill="#000" stroke="#000" stroke-width="0" textLength="145.2" lengthAdjust="spacing">D: Activation Time = 103.827</text>
<rect x="2.6" y="34.2" width="3.3" height="28.6" fill="url(#cb)" stroke="#000" stroke-width=".7"/>
<text x="7.7" y="41.6" font-size="11" text-anchor="start" fill="#ff0000" stroke="#ff0000" textLength="14.3" lengthAdjust="spacingAndGlyphs">79.82</text>
<text x="7.7" y="62.7" font-size="10.2" text-anchor="start" fill="#0000ff" stroke="#0000ff" textLength="14" lengthAdjust="spacingAndGlyphs">63.57</text>
<text x="13.3" y="329.8" font-family="Liberation Serif" font-weight="bold" font-size="21" textLength="29" lengthAdjust="spacingAndGlyphs">(A)</text>
<line x1="468.3" y1="110.1" x2="471.9" y2="260.3" class="g"/>
<line x1="492.4" y1="101.6" x2="495.1" y2="248.9" class="g"/>
<line x1="516.4" y1="93.2" x2="518.2" y2="237.4" class="g"/>
<line x1="540.5" y1="84.7" x2="541.4" y2="225.9" class="g"/>
<line x1="564.5" y1="76.2" x2="564.6" y2="214.5" class="g"/>
<line x1="471.9" y1="260.3" x2="564.6" y2="214.5" class="g"/>
<line x1="471.3" y1="235.3" x2="564.6" y2="191.4" class="g"/>
<line x1="470.7" y1="210.2" x2="564.6" y2="168.4" class="g"/>
<line x1="470.1" y1="185.2" x2="564.5" y2="145.3" class="g"/>
<line x1="469.5" y1="160.2" x2="564.5" y2="122.3" class="g"/>
<line x1="468.9" y1="135.1" x2="564.5" y2="99.2" class="g"/>
<line x1="468.3" y1="110.1" x2="564.5" y2="76.2" class="g"/>
<line x1="564.5" y1="76.2" x2="564.6" y2="214.5" class="g"/>
<line x1="580.7" y1="81.9" x2="580.1" y2="222.2" class="g"/>
<line x1="597" y1="87.7" x2="595.6" y2="229.9" class="g"/>
<line x1="613.2" y1="93.4" x2="611" y2="237.6" class="g"/>
<line x1="629.4" y1="99.1" x2="626.5" y2="245.3" class="g"/>
<line x1="645.7" y1="104.9" x2="642" y2="253" class="g"/>
<line x1="661.9" y1="110.6" x2="657.5" y2="260.7" class="g"/>
<line x1="564.6" y1="214.5" x2="657.5" y2="260.7" class="g"/>
<line x1="564.6" y1="191.4" x2="658.2" y2="235.7" class="g"/>
<line x1="564.6" y1="168.4" x2="659" y2="210.7" class="g"/>
<line x1="564.5" y1="145.3" x2="659.7" y2="185.6" class="g"/>
<line x1="564.5" y1="122.3" x2="660.4" y2="160.6" class="g"/>
<line x1="564.5" y1="99.2" x2="661.2" y2="135.6" class="g"/>
<line x1="564.5" y1="76.2" x2="661.9" y2="110.6" class="g"/>
<line x1="471.9" y1="260.3" x2="473.6" y2="307.7" class="g"/>
<line x1="564.6" y1="214.5" x2="564.6" y2="254.1" class="g"/>
<line x1="657.5" y1="260.7" x2="655.7" y2="308" class="g"/>
<path d="M473.6 307.7 L564.4 376.6 L655.7 308 L564.6 254.1 Z" fill="#ffff00" stroke="#333" stroke-width=".9"/>
<path d="M492.1 301.2L491.7 301M491.7 301L490 300.1M490 300.1L488.2 299.1M503.1 307.2L502.3 306.8M502.3 306.8L500.5 305.8M500.5 305.8L498.8 304.8M498.8 304.8L497 303.9M497 303.9L495.3 302.9M495.3 302.9L493.5 302M493.5 302L492.1 301.2M514.8 313.7L514.5 313.5M514.5 313.5L512.7 312.5M512.7 312.5L511 311.6M511 311.6L509.3 310.6M509.3 310.6L507.5 309.6M507.5 309.6L505.8 308.7M505.8 308.7L504 307.7M504 307.7L503.1 307.2M527.6 320.8L526.5 320.2M526.5 320.2L524.8 319.3M524.8 319.3L523.1 318.3M523.1 318.3L521.4 317.3M521.4 317.3L519.7 316.4M519.7 316.4L517.9 315.4M517.9 315.4L516.2 314.4M516.2 314.4L514.8 313.7M541.9 329L541.8 329M541.8 329L540.1 328M540.1 328L538.4 327M538.4 327L536.7 326.1M536.7 326.1L535 325.1M535 325.1L533.3 324.1M533.3 324.1L531.6 323.1M531.6 323.1L529.9 322.2M529.9 322.2L528.2 321.2M528.2 321.2L527.6 320.8M558.8 339.1L558.4 338.8M558.4 338.8L556.8 337.8M556.8 337.8L555.1 336.9M555.1 336.9L553.5 335.9M553.5 335.9L551.8 334.9M551.8 334.9L550.1 333.9M550.1 333.9L548.5 332.9M548.5 332.9L546.8 331.9M546.8 331.9L545.1 330.9M545.1 330.9L543.5 330M543.5 330L541.9 329M581.9 353.4L581.1 352.9M581.1 352.9L579.5 351.9M579.5 351.9L577.9 350.9M577.9 350.9L576.3 349.9M576.3 349.9L574.7 348.9M574.7 348.9L573.1 347.8M573.1 347.8L571.5 346.8M571.5 346.8L569.9 345.8M569.9 345.8L568.2 344.8M568.2 344.8L566.6 343.8M566.6 343.8L565 342.8M565 342.8L563.3 341.8M563.3 341.8L561.7 340.8M561.7 340.8L560.1 339.8M560.1 339.8L558.8 339.1M589.1 358.1L587.5 357M587.5 357L585.9 356M585.9 356L584.3 355M584.3 355L582.7 353.9M582.7 353.9L581.9 353.4" fill="none" stroke="#ffe040" stroke-width=".6" stroke-opacity=".75"/>
<path d="M495.1 297.4L494.8 297.2M494.8 297.2L493 296.3M505.4 302.8L503.7 301.9M503.7 301.9L501.9 300.9M501.9 300.9L500.1 300M500.1 300L498.3 299.1M498.3 299.1L496.6 298.1M496.6 298.1L495.1 297.4M516.4 308.6L516 308.4M516 308.4L514.2 307.5M514.2 307.5L512.5 306.6M512.5 306.6L510.7 305.6M510.7 305.6L509 304.7M509 304.7L507.2 303.8M507.2 303.8L505.4 302.8M505.4 302.8L505.4 302.8M528.1 315L526.4 314.1M526.4 314.1L524.7 313.1M524.7 313.1L523 312.2M523 312.2L521.2 311.3M521.2 311.3L519.5 310.3M519.5 310.3L517.7 309.4M517.7 309.4L516.4 308.6M541.1 322.2L540.2 321.7M540.2 321.7L538.5 320.7M538.5 320.7L536.8 319.8M536.8 319.8L535.1 318.8M535.1 318.8L533.3 317.9M533.3 317.9L531.6 316.9M531.6 316.9L529.9 316M529.9 316L528.2 315M528.2 315L528.1 315M555.8 330.5L555.4 330.3M555.4 330.3L553.7 329.3M553.7 329.3L552 328.4M552 328.4L550.4 327.4M550.4 327.4L548.7 326.4M548.7 326.4L547 325.5M547 325.5L545.3 324.5M545.3 324.5L543.6 323.6M543.6 323.6L541.9 322.6M541.9 322.6L541.1 322.2M574 341.3L573.6 341M573.6 341L572 340M572 340L570.3 339M570.3 339L568.7 338.1M568.7 338.1L567 337.1M567 337.1L565.4 336.1M565.4 336.1L563.7 335.1M563.7 335.1L562.1 334.2M562.1 334.2L560.4 333.2M560.4 333.2L558.7 332.2M558.7 332.2L557.1 331.3M557.1 331.3L555.8 330.5M594.5 354L592.9 353M592.9 353L591.3 352M591.3 352L589.7 351M589.7 351L588.1 349.9M588.1 349.9L586.5 348.9M586.5 348.9L584.9 347.9M584.9 347.9L583.3 346.9M583.3 346.9L581.7 345.9M581.7 345.9L580.1 345M580.1 345L578.5 344M578.5 344L576.8 343M576.8 343L575.2 342M575.2 342L574 341.3" fill="none" stroke="#ffd030" stroke-width=".6" stroke-opacity=".75"/>
<path d="M506.2 297.3L505.3 296.9M505.3 296.9L503.5 296M503.5 296L501.7 295.1M501.7 295.1L499.9 294.2M499.9 294.2L498.1 293.3M516.2 302.5L516 302.4M516 302.4L514.2 301.5M514.2 301.5L512.5 300.5M512.5 300.5L510.7 299.6M510.7 299.6L508.9 298.7M508.9 298.7L507.1 297.8M507.1 297.8L506.2 297.3M526.9 308L526.6 307.9M526.6 307.9L524.9 306.9M524.9 306.9L523.1 306M523.1 306L521.3 305.1M521.3 305.1L519.6 304.2M519.6 304.2L517.8 303.3M517.8 303.3L516.2 302.5M538.3 314L537.1 313.4M537.1 313.4L535.4 312.4M535.4 312.4L533.6 311.5M533.6 311.5L531.9 310.6M531.9 310.6L530.1 309.7M530.1 309.7L528.4 308.8M528.4 308.8L526.9 308M551 320.8L550.9 320.8M550.9 320.8L549.2 319.8M549.2 319.8L547.5 318.9M547.5 318.9L545.8 318M545.8 318L544 317.1M544 317.1L542.3 316.1M542.3 316.1L540.6 315.2M540.6 315.2L538.8 314.3M538.8 314.3L538.3 314M565.5 328.9L564.4 328.3M564.4 328.3L562.8 327.3M562.8 327.3L561.1 326.4M561.1 326.4L559.4 325.4M559.4 325.4L557.7 324.5M557.7 324.5L556 323.6M556 323.6L554.3 322.6M554.3 322.6L552.6 321.7M552.6 321.7L551 320.8M583.6 339.3L582.7 338.8M582.7 338.8L581 337.8M581 337.8L579.4 336.8M579.4 336.8L577.7 335.9M577.7 335.9L576.1 334.9M576.1 334.9L574.4 334M574.4 334L572.8 333M572.8 333L571.1 332.1M571.1 332.1L569.5 331.1M569.5 331.1L567.8 330.2M567.8 330.2L566.1 329.2M566.1 329.2L565.5 328.9M600.4 349.6L598.8 348.6M598.8 348.6L597.2 347.6M597.2 347.6L595.6 346.6M595.6 346.6L594 345.6M594 345.6L592.4 344.6M592.4 344.6L590.8 343.6M590.8 343.6L589.2 342.7M589.2 342.7L587.6 341.7M587.6 341.7L585.9 340.7M585.9 340.7L584.3 339.7M584.3 339.7L583.6 339.3" fill="none" stroke="#ffb030" stroke-width=".6" stroke-opacity=".75"/>
<circle cx="549.3" cy="365.1" r=".9" fill="#111"/>
<circle cx="534.1" cy="353.6" r=".9" fill="#111"/>
<circle cx="519" cy="342.1" r=".9" fill="#111"/>
<circle cx="503.9" cy="330.7" r=".9" fill="#111"/>
<circle cx="488.7" cy="319.2" r=".9" fill="#111"/>
<circle cx="587.2" cy="359.5" r=".9" fill="#111"/>
<circle cx="610" cy="342.3" r=".9" fill="#111"/>
<circle cx="632.9" cy="325.1" r=".9" fill="#111"/>
<circle cx="473.6" cy="307.7" r=".9" fill="#111"/>
<circle cx="564.4" cy="376.6" r=".9" fill="#111"/>
<circle cx="655.7" cy="308" r=".9" fill="#111"/>
<circle cx="471.9" cy="260.3" r=".9" fill="#111"/>
<circle cx="471.3" cy="235.3" r=".9" fill="#111"/>
<circle cx="470.7" cy="210.2" r=".9" fill="#111"/>
<circle cx="470.1" cy="185.2" r=".9" fill="#111"/>
<circle cx="469.5" cy="160.2" r=".9" fill="#111"/>
<circle cx="468.9" cy="135.1" r=".9" fill="#111"/>
<circle cx="468.3" cy="110.1" r=".9" fill="#111"/>
<path d="M565.3 95.6 L568.2 94.5 L565.3 93.2 L562.4 94.4Z" fill="#652205" stroke="#652205" stroke-width=".6"/>
<path d="M562.4 96.9 L565.3 95.6 L562.4 94.4 L559.5 95.6Z" fill="#652205" stroke="#652205" stroke-width=".6"/>
<path d="M568.2 96.9 L571 95.8 L568.2 94.5 L565.3 95.6Z" fill="#652205" stroke="#652205" stroke-width=".6"/>
<path d="M559.5 98.2 L562.4 96.9 L559.5 95.6 L556.6 96.9Z" fill="#652205" stroke="#652205" stroke-width=".6"/>
<path d="M565.3 98.2 L568.2 96.9 L565.3 95.6 L562.4 96.9Z" fill="#652305" stroke="#652305" stroke-width=".6"/>
<path d="M571.1 98.2 L574 97 L571 95.8 L568.2 96.9Z" fill="#652305" stroke="#652305" stroke-width=".6"/>
<path d="M556.5 99.5 L559.5 98.2 L556.6 96.9 L553.7 98.2Z" fill="#662305" stroke="#662305" stroke-width=".6"/>
<path d="M562.4 99.5 L565.3 98.2 L562.4 96.9 L559.5 98.2Z" fill="#662305" stroke="#662305" stroke-width=".6"/>
<path d="M568.2 99.5 L571.1 98.2 L568.2 96.9 L565.3 98.2Z" fill="#662305" stroke="#662305" stroke-width=".6"/>
<path d="M574 99.5 L576.9 98.3 L574 97 L571.1 98.2Z" fill="#662305" stroke="#662305" stroke-width=".6"/>
<path d="M553.6 101 L556.5 99.5 L553.7 98.2 L550.7 99.6Z" fill="#662405" stroke="#662405" stroke-width=".6"/>
<path d="M559.4 100.8 L562.4 99.5 L559.5 98.2 L556.5 99.5Z" fill="#662305" stroke="#662305" stroke-width=".6"/>
<path d="M565.3 100.8 L568.2 99.5 L565.3 98.2 L562.4 99.5Z" fill="#662305" stroke="#662305" stroke-width=".6"/>
<path d="M571.1 100.8 L574 99.5 L571.1 98.2 L568.2 99.5Z" fill="#662305" stroke="#662305" stroke-width=".6"/>
<path d="M577 100.8 L579.8 99.6 L576.9 98.3 L574 99.5Z" fill="#662305" stroke="#662305" stroke-width=".6"/>
<path d="M550.6 102.5 L553.6 101 L550.7 99.6 L547.7 101.1Z" fill="#672405" stroke="#672405" stroke-width=".6"/>
<path d="M556.5 102.3 L559.4 100.8 L556.5 99.5 L553.6 101Z" fill="#662405" stroke="#662405" stroke-width=".6"/>
<path d="M562.3 102.2 L565.3 100.8 L562.4 99.5 L559.4 100.8Z" fill="#662405" stroke="#662405" stroke-width=".6"/>
<path d="M568.2 102.1 L571.1 100.8 L568.2 99.5 L565.3 100.8Z" fill="#662405" stroke="#662405" stroke-width=".6"/>
<path d="M574.1 102.1 L577 100.8 L574 99.5 L571.1 100.8Z" fill="#662405" stroke="#662405" stroke-width=".6"/>
<path d="M580 102.1 L582.8 100.9 L579.8 99.6 L577 100.8Z" fill="#662405" stroke="#662405" stroke-width=".6"/>
<path d="M547.6 104.1 L550.6 102.5 L547.7 101.1 L544.7 102.7Z" fill="#672505" stroke="#672505" stroke-width=".6"/>
<path d="M553.5 103.8 L556.5 102.3 L553.6 101 L550.6 102.5Z" fill="#672505" stroke="#672505" stroke-width=".6"/>
<path d="M559.4 103.6 L562.3 102.2 L559.4 100.8 L556.5 102.3Z" fill="#672405" stroke="#672405" stroke-width=".6"/>
<path d="M565.3 103.5 L568.2 102.1 L565.3 100.8 L562.3 102.2Z" fill="#672405" stroke="#672405" stroke-width=".6"/>
<path d="M571.2 103.4 L574.1 102.1 L571.1 100.8 L568.2 102.1Z" fill="#672405" stroke="#672405" stroke-width=".6"/>
<path d="M577.1 103.4 L580 102.1 L577 100.8 L574.1 102.1Z" fill="#672405" stroke="#672405" stroke-width=".6"/>
<path d="M583 103.4 L585.8 102.2 L582.8 100.9 L580 102.1Z" fill="#672405" stroke="#672405" stroke-width=".6"/>
<path d="M550.5 105.4 L553.5 103.8 L550.6 102.5 L547.6 104.1Z" fill="#682505" stroke="#682505" stroke-width=".6"/>
<path d="M556.4 105.2 L559.4 103.6 L556.5 102.3 L553.5 103.8Z" fill="#672505" stroke="#672505" stroke-width=".6"/>
<path d="M562.3 105 L565.3 103.5 L562.3 102.2 L559.4 103.6Z" fill="#672505" stroke="#672505" stroke-width=".6"/>
<path d="M568.2 104.8 L571.2 103.4 L568.2 102.1 L565.3 103.5Z" fill="#672505" stroke="#672505" stroke-width=".6"/>
<path d="M574.2 104.7 L577.1 103.4 L574.1 102.1 L571.2 103.4Z" fill="#672405" stroke="#672405" stroke-width=".6"/>
<path d="M580.1 104.7 L583 103.4 L580 102.1 L577.1 103.4Z" fill="#672405" stroke="#672405" stroke-width=".6"/>
<path d="M544.6 105.8 L547.6 104.1 L544.7 102.7 L541.7 104.4Z" fill="#682605" stroke="#682605" stroke-width=".6"/>
<path d="M586 104.7 L588.8 103.5 L585.8 102.2 L583 103.4Z" fill="#672405" stroke="#672405" stroke-width=".6"/>
<path d="M553.4 106.8 L556.4 105.2 L553.5 103.8 L550.5 105.4Z" fill="#682605" stroke="#682605" stroke-width=".6"/>
<path d="M559.3 106.5 L562.3 105 L559.4 103.6 L556.4 105.2Z" fill="#682505" stroke="#682505" stroke-width=".6"/>
<path d="M565.3 106.3 L568.2 104.8 L565.3 103.5 L562.3 105Z" fill="#672505" stroke="#672505" stroke-width=".6"/>
<path d="M571.2 106.1 L574.2 104.7 L571.2 103.4 L568.2 104.8Z" fill="#672505" stroke="#672505" stroke-width=".6"/>
<path d="M577.2 106 L580.1 104.7 L577.1 103.4 L574.2 104.7Z" fill="#672505" stroke="#672505" stroke-width=".6"/>
<path d="M541.5 107.5 L544.6 105.8 L541.7 104.4 L538.6 106.1Z" fill="#692805" stroke="#692805" stroke-width=".6"/>
<path d="M547.5 107.1 L550.5 105.4 L547.6 104.1 L544.6 105.8Z" fill="#682705" stroke="#682705" stroke-width=".6"/>
<path d="M583.1 106 L586 104.7 L583 103.4 L580.1 104.7Z" fill="#672505" stroke="#672505" stroke-width=".6"/>
<path d="M589 106 L591.9 104.8 L588.8 103.5 L586 104.7Z" fill="#672505" stroke="#672505" stroke-width=".6"/>
<path d="M538.4 109.3 L541.5 107.5 L538.6 106.1 L535.6 107.9Z" fill="#692a05" stroke="#692a05" stroke-width=".6"/>
<path d="M544.4 108.9 L547.5 107.1 L544.6 105.8 L541.5 107.5Z" fill="#692905" stroke="#692905" stroke-width=".6"/>
<path d="M550.4 108.5 L553.4 106.8 L550.5 105.4 L547.5 107.1Z" fill="#682705" stroke="#682705" stroke-width=".6"/>
<path d="M556.3 108.2 L559.3 106.5 L556.4 105.2 L553.4 106.8Z" fill="#682605" stroke="#682605" stroke-width=".6"/>
<path d="M562.3 107.9 L565.3 106.3 L562.3 105 L559.3 106.5Z" fill="#682605" stroke="#682605" stroke-width=".6"/>
<path d="M568.3 107.7 L571.2 106.1 L568.2 104.8 L565.3 106.3Z" fill="#682505" stroke="#682505" stroke-width=".6"/>
<path d="M574.2 107.5 L577.2 106 L574.2 104.7 L571.2 106.1Z" fill="#672505" stroke="#672505" stroke-width=".6"/>
<path d="M580.2 107.4 L583.1 106 L580.1 104.7 L577.2 106Z" fill="#672505" stroke="#672505" stroke-width=".6"/>
<path d="M586.1 107.3 L589 106 L586 104.7 L583.1 106Z" fill="#672505" stroke="#672505" stroke-width=".6"/>
<path d="M592.1 107.3 L594.9 106.1 L591.9 104.8 L589 106Z" fill="#672505" stroke="#672505" stroke-width=".6"/>
<path d="M535.3 111.2 L538.4 109.3 L535.6 107.9 L532.5 109.8Z" fill="#6a2d04" stroke="#6a2d04" stroke-width=".6"/>
<path d="M541.3 110.7 L544.4 108.9 L541.5 107.5 L538.4 109.3Z" fill="#6a2b05" stroke="#6a2b05" stroke-width=".6"/>
<path d="M547.3 110.3 L550.4 108.5 L547.5 107.1 L544.4 108.9Z" fill="#692a05" stroke="#692a05" stroke-width=".6"/>
<path d="M553.3 109.9 L556.3 108.2 L553.4 106.8 L550.4 108.5Z" fill="#692805" stroke="#692805" stroke-width=".6"/>
<path d="M559.3 109.5 L562.3 107.9 L559.3 106.5 L556.3 108.2Z" fill="#682705" stroke="#682705" stroke-width=".6"/>
<path d="M565.3 109.2 L568.3 107.7 L565.3 106.3 L562.3 107.9Z" fill="#682605" stroke="#682605" stroke-width=".6"/>
<path d="M571.3 109 L574.2 107.5 L571.2 106.1 L568.3 107.7Z" fill="#682605" stroke="#682605" stroke-width=".6"/>
<path d="M577.2 108.8 L580.2 107.4 L577.2 106 L574.2 107.5Z" fill="#682605" stroke="#682605" stroke-width=".6"/>
<path d="M583.2 108.7 L586.1 107.3 L583.1 106 L580.2 107.4Z" fill="#682505" stroke="#682505" stroke-width=".6"/>
<path d="M589.2 108.6 L592.1 107.3 L589 106 L586.1 107.3Z" fill="#682505" stroke="#682505" stroke-width=".6"/>
<path d="M595.2 108.6 L598 107.3 L594.9 106.1 L592.1 107.3Z" fill="#682505" stroke="#682505" stroke-width=".6"/>
<path d="M562.3 110.9 L565.3 109.2 L562.3 107.9 L559.3 109.5Z" fill="#692805" stroke="#692805" stroke-width=".6"/>
<path d="M568.3 110.6 L571.3 109 L568.3 107.7 L565.3 109.2Z" fill="#682705" stroke="#682705" stroke-width=".6"/>
<path d="M532.2 113.2 L535.3 111.2 L532.5 109.8 L529.3 111.8Z" fill="#6b3004" stroke="#6b3004" stroke-width=".6"/>
<path d="M538.2 112.6 L541.3 110.7 L538.4 109.3 L535.3 111.2Z" fill="#6b2e04" stroke="#6b2e04" stroke-width=".6"/>
<path d="M544.2 112.1 L547.3 110.3 L544.4 108.9 L541.3 110.7Z" fill="#6a2c04" stroke="#6a2c04" stroke-width=".6"/>
<path d="M550.2 111.6 L553.3 109.9 L550.4 108.5 L547.3 110.3Z" fill="#6a2b05" stroke="#6a2b05" stroke-width=".6"/>
<path d="M556.3 111.2 L559.3 109.5 L556.3 108.2 L553.3 109.9Z" fill="#692905" stroke="#692905" stroke-width=".6"/>
<path d="M574.3 110.3 L577.2 108.8 L574.2 107.5 L571.3 109Z" fill="#682605" stroke="#682605" stroke-width=".6"/>
<path d="M580.3 110.2 L583.2 108.7 L580.2 107.4 L577.2 108.8Z" fill="#682605" stroke="#682605" stroke-width=".6"/>
<path d="M586.3 110 L589.2 108.6 L586.1 107.3 L583.2 108.7Z" fill="#682605" stroke="#682605" stroke-width=".6"/>
<path d="M592.3 109.9 L595.2 108.6 L592.1 107.3 L589.2 108.6Z" fill="#682605" stroke="#682605" stroke-width=".6"/>
<path d="M598.3 109.9 L601.2 108.6 L598 107.3 L595.2 108.6Z" fill="#682605" stroke="#682605" stroke-width=".6"/>
<path d="M565.3 112.3 L568.3 110.6 L565.3 109.2 L562.3 110.9Z" fill="#692905" stroke="#692905" stroke-width=".6"/>
<path d="M529.1 115.3 L532.2 113.2 L529.3 111.8 L526.2 113.8Z" fill="#6d3304" stroke="#6d3304" stroke-width=".6"/>
<path d="M535.1 114.6 L538.2 112.6 L535.3 111.2 L532.2 113.2Z" fill="#6c3104" stroke="#6c3104" stroke-width=".6"/>
<path d="M541.1 114 L544.2 112.1 L541.3 110.7 L538.2 112.6Z" fill="#6b2f04" stroke="#6b2f04" stroke-width=".6"/>
<path d="M547.2 113.5 L550.2 111.6 L547.3 110.3 L544.2 112.1Z" fill="#6a2d04" stroke="#6a2d04" stroke-width=".6"/>
<path d="M553.2 113 L556.3 111.2 L553.3 109.9 L550.2 111.6Z" fill="#6a2c05" stroke="#6a2c05" stroke-width=".6"/>
<path d="M559.2 112.6 L562.3 110.9 L559.3 109.5 L556.3 111.2Z" fill="#692a05" stroke="#692a05" stroke-width=".6"/>
<path d="M571.3 111.9 L574.3 110.3 L571.3 109 L568.3 110.6Z" fill="#692805" stroke="#692805" stroke-width=".6"/>
<path d="M577.3 111.7 L580.3 110.2 L577.2 108.8 L574.3 110.3Z" fill="#682705" stroke="#682705" stroke-width=".6"/>
<path d="M583.4 111.5 L586.3 110 L583.2 108.7 L580.3 110.2Z" fill="#682705" stroke="#682705" stroke-width=".6"/>
<path d="M589.4 111.4 L592.3 109.9 L589.2 108.6 L586.3 110Z" fill="#682605" stroke="#682605" stroke-width=".6"/>
<path d="M595.4 111.3 L598.3 109.9 L595.2 108.6 L592.3 109.9Z" fill="#682605" stroke="#682605" stroke-width=".6"/>
<path d="M601.4 111.2 L604.3 110 L601.2 108.6 L598.3 109.9Z" fill="#682605" stroke="#682605" stroke-width=".6"/>
<path d="M525.9 117.4 L529.1 115.3 L526.2 113.8 L523 116Z" fill="#6f3804" stroke="#6f3804" stroke-width=".6"/>
<path d="M531.9 116.7 L535.1 114.6 L532.2 113.2 L529.1 115.3Z" fill="#6d3504" stroke="#6d3504" stroke-width=".6"/>
<path d="M538 116.1 L541.1 114 L538.2 112.6 L535.1 114.6Z" fill="#6c3204" stroke="#6c3204" stroke-width=".6"/>
<path d="M544.1 115.5 L547.2 113.5 L544.2 112.1 L541.1 114Z" fill="#6b3004" stroke="#6b3004" stroke-width=".6"/>
<path d="M550.1 114.9 L553.2 113 L550.2 111.6 L547.2 113.5Z" fill="#6b2e04" stroke="#6b2e04" stroke-width=".6"/>
<path d="M556.2 114.4 L559.2 112.6 L556.3 111.2 L553.2 113Z" fill="#6a2c04" stroke="#6a2c04" stroke-width=".6"/>
<path d="M562.2 114 L565.3 112.3 L562.3 110.9 L559.2 112.6Z" fill="#6a2b05" stroke="#6a2b05" stroke-width=".6"/>
<path d="M568.3 113.6 L571.3 111.9 L568.3 110.6 L565.3 112.3Z" fill="#692a05" stroke="#692a05" stroke-width=".6"/>
<path d="M574.3 113.3 L577.3 111.7 L574.3 110.3 L571.3 111.9Z" fill="#692905" stroke="#692905" stroke-width=".6"/>
<path d="M580.4 113 L583.4 111.5 L580.3 110.2 L577.3 111.7Z" fill="#692805" stroke="#692805" stroke-width=".6"/>
<path d="M586.5 112.8 L589.4 111.4 L586.3 110 L583.4 111.5Z" fill="#682705" stroke="#682705" stroke-width=".6"/>
<path d="M592.5 112.7 L595.4 111.3 L592.3 109.9 L589.4 111.4Z" fill="#682705" stroke="#682705" stroke-width=".6"/>
<path d="M598.6 112.6 L601.4 111.2 L598.3 109.9 L595.4 111.3Z" fill="#682705" stroke="#682705" stroke-width=".6"/>
<path d="M604.6 112.6 L607.5 111.3 L604.3 110 L601.4 111.2Z" fill="#682705" stroke="#682705" stroke-width=".6"/>
<path d="M522.7 119.6 L525.9 117.4 L523 116 L519.8 118.2Z" fill="#713d04" stroke="#713d04" stroke-width=".6"/>
<path d="M528.8 118.9 L531.9 116.7 L529.1 115.3 L525.9 117.4Z" fill="#6f3904" stroke="#6f3904" stroke-width=".6"/>
<path d="M534.9 118.1 L538 116.1 L535.1 114.6 L531.9 116.7Z" fill="#6e3604" stroke="#6e3604" stroke-width=".6"/>
<path d="M540.9 117.5 L544.1 115.5 L541.1 114 L538 116.1Z" fill="#6d3304" stroke="#6d3304" stroke-width=".6"/>
<path d="M547 116.9 L550.1 114.9 L547.2 113.5 L544.1 115.5Z" fill="#6c3104" stroke="#6c3104" stroke-width=".6"/>
<path d="M553.1 116.3 L556.2 114.4 L553.2 113 L550.1 114.9Z" fill="#6b2f04" stroke="#6b2f04" stroke-width=".6"/>
<path d="M559.2 115.8 L562.2 114 L559.2 112.6 L556.2 114.4Z" fill="#6a2d04" stroke="#6a2d04" stroke-width=".6"/>
<path d="M571.3 115 L574.3 113.3 L571.3 111.9 L568.3 113.6Z" fill="#6a2b05" stroke="#6a2b05" stroke-width=".6"/>
<path d="M577.4 114.7 L580.4 113 L577.3 111.7 L574.3 113.3Z" fill="#692905" stroke="#692905" stroke-width=".6"/>
<path d="M583.5 114.4 L586.5 112.8 L583.4 111.5 L580.4 113Z" fill="#692905" stroke="#692905" stroke-width=".6"/>
<path d="M589.6 114.2 L592.5 112.7 L589.4 111.4 L586.5 112.8Z" fill="#692805" stroke="#692805" stroke-width=".6"/>
<path d="M595.7 114 L598.6 112.6 L595.4 111.3 L592.5 112.7Z" fill="#682705" stroke="#682705" stroke-width=".6"/>
<path d="M601.7 113.9 L604.6 112.6 L601.4 111.2 L598.6 112.6Z" fill="#682705" stroke="#682705" stroke-width=".6"/>
<path d="M607.8 113.9 L610.7 112.6 L607.5 111.3 L604.6 112.6Z" fill="#682705" stroke="#682705" stroke-width=".6"/>
<path d="M565.3 115.4 L568.3 113.6 L565.3 112.3 L562.2 114Z" fill="#6a2c05" stroke="#6a2c05" stroke-width=".6"/>
<path d="M519.5 121.9 L522.7 119.6 L519.8 118.2 L516.6 120.5Z" fill="#764505" stroke="#764505" stroke-width=".6"/>
<path d="M525.6 121.1 L528.8 118.9 L525.9 117.4 L522.7 119.6Z" fill="#723f04" stroke="#723f04" stroke-width=".6"/>
<path d="M531.7 120.3 L534.9 118.1 L531.9 116.7 L528.8 118.9Z" fill="#703a04" stroke="#703a04" stroke-width=".6"/>
<path d="M537.8 119.6 L540.9 117.5 L538 116.1 L534.9 118.1Z" fill="#6f3704" stroke="#6f3704" stroke-width=".6"/>
<path d="M543.9 118.9 L547 116.9 L544.1 115.5 L540.9 117.5Z" fill="#6d3404" stroke="#6d3404" stroke-width=".6"/>
<path d="M550 118.3 L553.1 116.3 L550.1 114.9 L547 116.9Z" fill="#6c3204" stroke="#6c3204" stroke-width=".6"/>
<path d="M556.1 117.7 L559.2 115.8 L556.2 114.4 L553.1 116.3Z" fill="#6b3004" stroke="#6b3004" stroke-width=".6"/>
<path d="M574.4 116.4 L577.4 114.7 L574.3 113.3 L571.3 115Z" fill="#6a2b05" stroke="#6a2b05" stroke-width=".6"/>
<path d="M580.5 116 L583.5 114.4 L580.4 113 L577.4 114.7Z" fill="#692a05" stroke="#692a05" stroke-width=".6"/>
<path d="M586.6 115.8 L589.6 114.2 L586.5 112.8 L583.5 114.4Z" fill="#692905" stroke="#692905" stroke-width=".6"/>
<path d="M592.7 115.5 L595.7 114 L592.5 112.7 L589.6 114.2Z" fill="#692905" stroke="#692905" stroke-width=".6"/>
<path d="M598.8 115.4 L601.7 113.9 L598.6 112.6 L595.7 114Z" fill="#692805" stroke="#692805" stroke-width=".6"/>
<path d="M604.9 115.3 L607.8 113.9 L604.6 112.6 L601.7 113.9Z" fill="#692805" stroke="#692805" stroke-width=".6"/>
<path d="M611 115.2 L613.9 113.9 L610.7 112.6 L607.8 113.9Z" fill="#692805" stroke="#692805" stroke-width=".6"/>
<path d="M562.2 117.2 L565.3 115.4 L562.2 114 L559.2 115.8Z" fill="#6b2e04" stroke="#6b2e04" stroke-width=".6"/>
<path d="M568.3 116.8 L571.3 115 L568.3 113.6 L565.3 115.4Z" fill="#6a2d04" stroke="#6a2d04" stroke-width=".6"/>
<path d="M516.2 124.3 L519.5 121.9 L516.6 120.5 L513.4 122.8Z" fill="#7a4e05" stroke="#7a4e05" stroke-width=".6"/>
<path d="M522.4 123.4 L525.6 121.1 L522.7 119.6 L519.5 121.9Z" fill="#774805" stroke="#774805" stroke-width=".6"/>
<path d="M528.5 122.6 L531.7 120.3 L528.8 118.9 L525.6 121.1Z" fill="#734104" stroke="#734104" stroke-width=".6"/>
<path d="M534.6 121.8 L537.8 119.6 L534.9 118.1 L531.7 120.3Z" fill="#713b04" stroke="#713b04" stroke-width=".6"/>
<path d="M540.7 121 L543.9 118.9 L540.9 117.5 L537.8 119.6Z" fill="#6f3804" stroke="#6f3804" stroke-width=".6"/>
<path d="M546.9 120.4 L550 118.3 L547 116.9 L543.9 118.9Z" fill="#6e3504" stroke="#6e3504" stroke-width=".6"/>
<path d="M553 119.7 L556.1 117.7 L553.1 116.3 L550 118.3Z" fill="#6c3304" stroke="#6c3304" stroke-width=".6"/>
<path d="M559.1 119.2 L562.2 117.2 L559.2 115.8 L556.1 117.7Z" fill="#6c3104" stroke="#6c3104" stroke-width=".6"/>
<path d="M565.3 118.6 L568.3 116.8 L565.3 115.4 L562.2 117.2Z" fill="#6b2f04" stroke="#6b2f04" stroke-width=".6"/>
<path d="M571.4 118.2 L574.4 116.4 L571.3 115 L568.3 116.8Z" fill="#6a2d04" stroke="#6a2d04" stroke-width=".6"/>
<path d="M577.5 117.8 L580.5 116 L577.4 114.7 L574.4 116.4Z" fill="#6a2c04" stroke="#6a2c04" stroke-width=".6"/>
<path d="M583.6 117.4 L586.6 115.8 L583.5 114.4 L580.5 116Z" fill="#6a2b05" stroke="#6a2b05" stroke-width=".6"/>
<path d="M589.8 117.1 L592.7 115.5 L589.6 114.2 L586.6 115.8Z" fill="#692a05" stroke="#692a05" stroke-width=".6"/>
<path d="M595.9 116.9 L598.8 115.4 L595.7 114 L592.7 115.5Z" fill="#692905" stroke="#692905" stroke-width=".6"/>
<path d="M602 116.7 L604.9 115.3 L601.7 113.9 L598.8 115.4Z" fill="#692905" stroke="#692905" stroke-width=".6"/>
<path d="M608.1 116.6 L611 115.2 L607.8 113.9 L604.9 115.3Z" fill="#692805" stroke="#692805" stroke-width=".6"/>
<path d="M614.3 116.5 L617.1 115.2 L613.9 113.9 L611 115.2Z" fill="#692805" stroke="#692805" stroke-width=".6"/>
<path d="M513 126.8 L516.2 124.3 L513.4 122.8 L510.1 125.3Z" fill="#7d5604" stroke="#7d5604" stroke-width=".6"/>
<path d="M519.1 125.8 L522.4 123.4 L519.5 121.9 L516.2 124.3Z" fill="#7b5005" stroke="#7b5005" stroke-width=".6"/>
<path d="M525.3 124.9 L528.5 122.6 L525.6 121.1 L522.4 123.4Z" fill="#784a05" stroke="#784a05" stroke-width=".6"/>
<path d="M531.4 124 L534.6 121.8 L531.7 120.3 L528.5 122.6Z" fill="#754304" stroke="#754304" stroke-width=".6"/>
<path d="M537.6 123.2 L540.7 121 L537.8 119.6 L534.6 121.8Z" fill="#713d04" stroke="#713d04" stroke-width=".6"/>
<path d="M543.7 122.5 L546.9 120.4 L543.9 118.9 L540.7 121Z" fill="#703904" stroke="#703904" stroke-width=".6"/>
<path d="M549.9 121.8 L553 119.7 L550 118.3 L546.9 120.4Z" fill="#6e3604" stroke="#6e3604" stroke-width=".6"/>
<path d="M556 121.2 L559.1 119.2 L556.1 117.7 L553 119.7Z" fill="#6d3404" stroke="#6d3404" stroke-width=".6"/>
<path d="M562.2 120.6 L565.3 118.6 L562.2 117.2 L559.1 119.2Z" fill="#6c3104" stroke="#6c3104" stroke-width=".6"/>
<path d="M568.3 120 L571.4 118.2 L568.3 116.8 L565.3 118.6Z" fill="#6b3004" stroke="#6b3004" stroke-width=".6"/>
<path d="M574.5 119.6 L577.5 117.8 L574.4 116.4 L571.4 118.2Z" fill="#6b2e04" stroke="#6b2e04" stroke-width=".6"/>
<path d="M580.6 119.2 L583.6 117.4 L580.5 116 L577.5 117.8Z" fill="#6a2d04" stroke="#6a2d04" stroke-width=".6"/>
<path d="M586.8 118.8 L589.8 117.1 L586.6 115.8 L583.6 117.4Z" fill="#6a2c05" stroke="#6a2c05" stroke-width=".6"/>
<path d="M592.9 118.5 L595.9 116.9 L592.7 115.5 L589.8 117.1Z" fill="#6a2b05" stroke="#6a2b05" stroke-width=".6"/>
<path d="M599.1 118.3 L602 116.7 L598.8 115.4 L595.9 116.9Z" fill="#692a05" stroke="#692a05" stroke-width=".6"/>
<path d="M605.2 118.1 L608.1 116.6 L604.9 115.3 L602 116.7Z" fill="#692905" stroke="#692905" stroke-width=".6"/>
<path d="M611.4 117.9 L614.3 116.5 L611 115.2 L608.1 116.6Z" fill="#692905" stroke="#692905" stroke-width=".6"/>
<path d="M617.5 117.8 L620.4 116.5 L617.1 115.2 L614.3 116.5Z" fill="#692905" stroke="#692905" stroke-width=".6"/>
<path d="M515.8 128.3 L519.1 125.8 L516.2 124.3 L513 126.8Z" fill="#7e5704" stroke="#7e5704" stroke-width=".6"/>
<path d="M522 127.3 L525.3 124.9 L522.4 123.4 L519.1 125.8Z" fill="#7b5205" stroke="#7b5205" stroke-width=".6"/>
<path d="M528.2 126.4 L531.4 124 L528.5 122.6 L525.3 124.9Z" fill="#794c05" stroke="#794c05" stroke-width=".6"/>
<path d="M534.4 125.5 L537.6 123.2 L534.6 121.8 L531.4 124Z" fill="#764505" stroke="#764505" stroke-width=".6"/>
<path d="M540.5 124.7 L543.7 122.5 L540.7 121 L537.6 123.2Z" fill="#723f04" stroke="#723f04" stroke-width=".6"/>
<path d="M546.7 123.9 L549.9 121.8 L546.9 120.4 L543.7 122.5Z" fill="#703a04" stroke="#703a04" stroke-width=".6"/>
<path d="M583.8 120.5 L586.8 118.8 L583.6 117.4 L580.6 119.2Z" fill="#6a2d04" stroke="#6a2d04" stroke-width=".6"/>
<path d="M590 120.2 L592.9 118.5 L589.8 117.1 L586.8 118.8Z" fill="#6a2c04" stroke="#6a2c04" stroke-width=".6"/>
<path d="M596.1 119.9 L599.1 118.3 L595.9 116.9 L592.9 118.5Z" fill="#6a2b05" stroke="#6a2b05" stroke-width=".6"/>
<path d="M602.3 119.6 L605.2 118.1 L602 116.7 L599.1 118.3Z" fill="#692a05" stroke="#692a05" stroke-width=".6"/>
<path d="M608.5 119.4 L611.4 117.9 L608.1 116.6 L605.2 118.1Z" fill="#692a05" stroke="#692a05" stroke-width=".6"/>
<path d="M614.7 119.3 L617.5 117.8 L614.3 116.5 L611.4 117.9Z" fill="#692905" stroke="#692905" stroke-width=".6"/>
<path d="M509.7 129.4 L513 126.8 L510.1 125.3 L506.8 127.8Z" fill="#805d03" stroke="#805d03" stroke-width=".6"/>
<path d="M552.9 123.2 L556 121.2 L553 119.7 L549.9 121.8Z" fill="#6f3704" stroke="#6f3704" stroke-width=".6"/>
<path d="M559.1 122.6 L562.2 120.6 L559.1 119.2 L556 121.2Z" fill="#6d3504" stroke="#6d3504" stroke-width=".6"/>
<path d="M565.2 122 L568.3 120 L565.3 118.6 L562.2 120.6Z" fill="#6c3204" stroke="#6c3204" stroke-width=".6"/>
<path d="M571.4 121.5 L574.5 119.6 L571.4 118.2 L568.3 120Z" fill="#6b3004" stroke="#6b3004" stroke-width=".6"/>
<path d="M577.6 121 L580.6 119.2 L577.5 117.8 L574.5 119.6Z" fill="#6b2f04" stroke="#6b2f04" stroke-width=".6"/>
<path d="M620.8 119.2 L623.7 117.8 L620.4 116.5 L617.5 117.8Z" fill="#692905" stroke="#692905" stroke-width=".6"/>
<path d="M506.3 132 L509.7 129.4 L506.8 127.8 L503.5 130.5Z" fill="#826503" stroke="#826503" stroke-width=".6"/>
<path d="M512.5 130.9 L515.8 128.3 L513 126.8 L509.7 129.4Z" fill="#815f03" stroke="#815f03" stroke-width=".6"/>
<path d="M518.7 129.8 L522 127.3 L519.1 125.8 L515.8 128.3Z" fill="#7e5904" stroke="#7e5904" stroke-width=".6"/>
<path d="M524.9 128.8 L528.2 126.4 L525.3 124.9 L522 127.3Z" fill="#7c5304" stroke="#7c5304" stroke-width=".6"/>
<path d="M531.1 127.9 L534.4 125.5 L531.4 124 L528.2 126.4Z" fill="#7a4e05" stroke="#7a4e05" stroke-width=".6"/>
<path d="M537.3 127 L540.5 124.7 L537.6 123.2 L534.4 125.5Z" fill="#774705" stroke="#774705" stroke-width=".6"/>
<path d="M543.5 126.2 L546.7 123.9 L543.7 122.5 L540.5 124.7Z" fill="#734104" stroke="#734104" stroke-width=".6"/>
<path d="M587 121.9 L590 120.2 L586.8 118.8 L583.8 120.5Z" fill="#6b2e04" stroke="#6b2e04" stroke-width=".6"/>
<path d="M593.2 121.6 L596.1 119.9 L592.9 118.5 L590 120.2Z" fill="#6a2d04" stroke="#6a2d04" stroke-width=".6"/>
<path d="M599.4 121.2 L602.3 119.6 L599.1 118.3 L596.1 119.9Z" fill="#6a2c05" stroke="#6a2c05" stroke-width=".6"/>
<path d="M605.6 121 L608.5 119.4 L605.2 118.1 L602.3 119.6Z" fill="#6a2b05" stroke="#6a2b05" stroke-width=".6"/>
<path d="M611.8 120.8 L614.7 119.3 L611.4 117.9 L608.5 119.4Z" fill="#692a05" stroke="#692a05" stroke-width=".6"/>
<path d="M618 120.6 L620.8 119.2 L617.5 117.8 L614.7 119.3Z" fill="#692a05" stroke="#692a05" stroke-width=".6"/>
<path d="M624.2 120.5 L627 119.2 L623.7 117.8 L620.8 119.2Z" fill="#692a05" stroke="#692a05" stroke-width=".6"/>
<path d="M549.7 125.4 L552.9 123.2 L549.9 121.8 L546.7 123.9Z" fill="#713b04" stroke="#713b04" stroke-width=".6"/>
<path d="M555.9 124.7 L559.1 122.6 L556 121.2 L552.9 123.2Z" fill="#6f3804" stroke="#6f3804" stroke-width=".6"/>
<path d="M562.1 124 L565.2 122 L562.2 120.6 L559.1 122.6Z" fill="#6e3604" stroke="#6e3604" stroke-width=".6"/>
<path d="M568.3 123.4 L571.4 121.5 L568.3 120 L565.2 122Z" fill="#6d3304" stroke="#6d3304" stroke-width=".6"/>
<path d="M574.6 122.9 L577.6 121 L574.5 119.6 L571.4 121.5Z" fill="#6c3104" stroke="#6c3104" stroke-width=".6"/>
<path d="M580.8 122.4 L583.8 120.5 L580.6 119.2 L577.6 121Z" fill="#6b2f04" stroke="#6b2f04" stroke-width=".6"/>
<path d="M503 134.7 L506.3 132 L503.5 130.5 L500.2 133.2Z" fill="#846c01" stroke="#846c01" stroke-width=".6"/>
<path d="M509.2 133.6 L512.5 130.9 L509.7 129.4 L506.3 132Z" fill="#836602" stroke="#836602" stroke-width=".6"/>
<path d="M515.4 132.4 L518.7 129.8 L515.8 128.3 L512.5 130.9Z" fill="#816103" stroke="#816103" stroke-width=".6"/>
<path d="M521.7 131.4 L524.9 128.8 L522 127.3 L518.7 129.8Z" fill="#7f5b04" stroke="#7f5b04" stroke-width=".6"/>
<path d="M527.9 130.4 L531.1 127.9 L528.2 126.4 L524.9 128.8Z" fill="#7d5504" stroke="#7d5504" stroke-width=".6"/>
<path d="M534.1 129.4 L537.3 127 L534.4 125.5 L531.1 127.9Z" fill="#7b4f05" stroke="#7b4f05" stroke-width=".6"/>
<path d="M540.3 128.5 L543.5 126.2 L540.5 124.7 L537.3 127Z" fill="#784905" stroke="#784905" stroke-width=".6"/>
<path d="M546.6 127.7 L549.7 125.4 L546.7 123.9 L543.5 126.2Z" fill="#744304" stroke="#744304" stroke-width=".6"/>
<path d="M552.8 126.9 L555.9 124.7 L552.9 123.2 L549.7 125.4Z" fill="#713d04" stroke="#713d04" stroke-width=".6"/>
<path d="M559 126.1 L562.1 124 L559.1 122.6 L555.9 124.7Z" fill="#703904" stroke="#703904" stroke-width=".6"/>
<path d="M565.2 125.5 L568.3 123.4 L565.2 122 L562.1 124Z" fill="#6e3704" stroke="#6e3704" stroke-width=".6"/>
<path d="M571.5 124.9 L574.6 122.9 L571.4 121.5 L568.3 123.4Z" fill="#6d3404" stroke="#6d3404" stroke-width=".6"/>
<path d="M577.7 124.3 L580.8 122.4 L577.6 121 L574.6 122.9Z" fill="#6c3204" stroke="#6c3204" stroke-width=".6"/>
<path d="M583.9 123.8 L587 121.9 L583.8 120.5 L580.8 122.4Z" fill="#6b3004" stroke="#6b3004" stroke-width=".6"/>
<path d="M590.2 123.3 L593.2 121.6 L590 120.2 L587 121.9Z" fill="#6b2f04" stroke="#6b2f04" stroke-width=".6"/>
<path d="M596.4 123 L599.4 121.2 L596.1 119.9 L593.2 121.6Z" fill="#6a2d04" stroke="#6a2d04" stroke-width=".6"/>
<path d="M602.6 122.6 L605.6 121 L602.3 119.6 L599.4 121.2Z" fill="#6a2c04" stroke="#6a2c04" stroke-width=".6"/>
<path d="M608.8 122.3 L611.8 120.8 L608.5 119.4 L605.6 121Z" fill="#6a2b05" stroke="#6a2b05" stroke-width=".6"/>
<path d="M615.1 122.1 L618 120.6 L614.7 119.3 L611.8 120.8Z" fill="#6a2b05" stroke="#6a2b05" stroke-width=".6"/>
<path d="M621.3 122 L624.2 120.5 L620.8 119.2 L618 120.6Z" fill="#692a05" stroke="#692a05" stroke-width=".6"/>
<path d="M627.5 121.9 L630.4 120.5 L627 119.2 L624.2 120.5Z" fill="#692a05" stroke="#692a05" stroke-width=".6"/>
<path d="M499.6 137.6 L503 134.7 L500.2 133.2 L496.8 136Z" fill="#857300" stroke="#857300" stroke-width=".6"/>
<path d="M505.9 136.3 L509.2 133.6 L506.3 132 L503 134.7Z" fill="#846d01" stroke="#846d01" stroke-width=".6"/>
<path d="M512.1 135.1 L515.4 132.4 L512.5 130.9 L509.2 133.6Z" fill="#836802" stroke="#836802" stroke-width=".6"/>
<path d="M518.4 134 L521.7 131.4 L518.7 129.8 L515.4 132.4Z" fill="#826203" stroke="#826203" stroke-width=".6"/>
<path d="M524.6 132.9 L527.9 130.4 L524.9 128.8 L521.7 131.4Z" fill="#805c04" stroke="#805c04" stroke-width=".6"/>
<path d="M530.8 131.9 L534.1 129.4 L531.1 127.9 L527.9 130.4Z" fill="#7d5604" stroke="#7d5604" stroke-width=".6"/>
<path d="M537.1 130.9 L540.3 128.5 L537.3 127 L534.1 129.4Z" fill="#7b5105" stroke="#7b5105" stroke-width=".6"/>
<path d="M543.3 130 L546.6 127.7 L543.5 126.2 L540.3 128.5Z" fill="#784b05" stroke="#784b05" stroke-width=".6"/>
<path d="M549.6 129.1 L552.8 126.9 L549.7 125.4 L546.6 127.7Z" fill="#754504" stroke="#754504" stroke-width=".6"/>
<path d="M555.9 128.3 L559 126.1 L555.9 124.7 L552.8 126.9Z" fill="#723e04" stroke="#723e04" stroke-width=".6"/>
<path d="M562.1 127.6 L565.2 125.5 L562.1 124 L559 126.1Z" fill="#703a04" stroke="#703a04" stroke-width=".6"/>
<path d="M568.4 126.9 L571.5 124.9 L568.3 123.4 L565.2 125.5Z" fill="#6f3704" stroke="#6f3704" stroke-width=".6"/>
<path d="M574.6 126.3 L577.7 124.3 L574.6 122.9 L571.5 124.9Z" fill="#6d3504" stroke="#6d3504" stroke-width=".6"/>
<path d="M580.9 125.7 L583.9 123.8 L580.8 122.4 L577.7 124.3Z" fill="#6c3204" stroke="#6c3204" stroke-width=".6"/>
<path d="M587.1 125.2 L590.2 123.3 L587 121.9 L583.9 123.8Z" fill="#6c3104" stroke="#6c3104" stroke-width=".6"/>
<path d="M593.4 124.7 L596.4 123 L593.2 121.6 L590.2 123.3Z" fill="#6b2f04" stroke="#6b2f04" stroke-width=".6"/>
<path d="M599.6 124.3 L602.6 122.6 L599.4 121.2 L596.4 123Z" fill="#6b2e04" stroke="#6b2e04" stroke-width=".6"/>
<path d="M605.9 124 L608.8 122.3 L605.6 121 L602.6 122.6Z" fill="#6a2d04" stroke="#6a2d04" stroke-width=".6"/>
<path d="M612.2 123.7 L615.1 122.1 L611.8 120.8 L608.8 122.3Z" fill="#6a2c05" stroke="#6a2c05" stroke-width=".6"/>
<path d="M618.4 123.5 L621.3 122 L618 120.6 L615.1 122.1Z" fill="#6a2b05" stroke="#6a2b05" stroke-width=".6"/>
<path d="M624.7 123.3 L627.5 121.9 L624.2 120.5 L621.3 122Z" fill="#6a2b05" stroke="#6a2b05" stroke-width=".6"/>
<path d="M630.9 123.2 L633.7 121.8 L630.4 120.5 L627.5 121.9Z" fill="#692a05" stroke="#692a05" stroke-width=".6"/>
<path d="M527.6 134.4 L530.8 131.9 L527.9 130.4 L524.6 132.9Z" fill="#805e03" stroke="#805e03" stroke-width=".6"/>
<path d="M533.8 133.4 L537.1 130.9 L534.1 129.4 L530.8 131.9Z" fill="#7e5804" stroke="#7e5804" stroke-width=".6"/>
<path d="M596.6 126.1 L599.6 124.3 L596.4 123 L593.4 124.7Z" fill="#6b3004" stroke="#6b3004" stroke-width=".6"/>
<path d="M602.9 125.7 L605.9 124 L602.6 122.6 L599.6 124.3Z" fill="#6b2e04" stroke="#6b2e04" stroke-width=".6"/>
<path d="M496.2 140.5 L499.6 137.6 L496.8 136 L493.4 138.9Z" fill="#867a00" stroke="#867a00" stroke-width=".6"/>
<path d="M502.5 139.1 L505.9 136.3 L503 134.7 L499.6 137.6Z" fill="#857500" stroke="#857500" stroke-width=".6"/>
<path d="M508.8 137.9 L512.1 135.1 L509.2 133.6 L505.9 136.3Z" fill="#846f01" stroke="#846f01" stroke-width=".6"/>
<path d="M515 136.7 L518.4 134 L515.4 132.4 L512.1 135.1Z" fill="#836902" stroke="#836902" stroke-width=".6"/>
<path d="M521.3 135.5 L524.6 132.9 L521.7 131.4 L518.4 134Z" fill="#826403" stroke="#826403" stroke-width=".6"/>
<path d="M540.1 132.4 L543.3 130 L540.3 128.5 L537.1 130.9Z" fill="#7c5205" stroke="#7c5205" stroke-width=".6"/>
<path d="M546.4 131.5 L549.6 129.1 L546.6 127.7 L543.3 130Z" fill="#794d05" stroke="#794d05" stroke-width=".6"/>
<path d="M552.7 130.6 L555.9 128.3 L552.8 126.9 L549.6 129.1Z" fill="#764605" stroke="#764605" stroke-width=".6"/>
<path d="M559 129.8 L562.1 127.6 L559 126.1 L555.9 128.3Z" fill="#734004" stroke="#734004" stroke-width=".6"/>
<path d="M565.2 129.1 L568.4 126.9 L565.2 125.5 L562.1 127.6Z" fill="#713b04" stroke="#713b04" stroke-width=".6"/>
<path d="M571.5 128.4 L574.6 126.3 L571.5 124.9 L568.4 126.9Z" fill="#6f3804" stroke="#6f3804" stroke-width=".6"/>
<path d="M577.8 127.7 L580.9 125.7 L577.7 124.3 L574.6 126.3Z" fill="#6e3604" stroke="#6e3604" stroke-width=".6"/>
<path d="M584.1 127.1 L587.1 125.2 L583.9 123.8 L580.9 125.7Z" fill="#6d3304" stroke="#6d3304" stroke-width=".6"/>
<path d="M590.4 126.6 L593.4 124.7 L590.2 123.3 L587.1 125.2Z" fill="#6c3104" stroke="#6c3104" stroke-width=".6"/>
<path d="M609.2 125.4 L612.2 123.7 L608.8 122.3 L605.9 124Z" fill="#6a2d04" stroke="#6a2d04" stroke-width=".6"/>
<path d="M615.5 125.1 L618.4 123.5 L615.1 122.1 L612.2 123.7Z" fill="#6a2c04" stroke="#6a2c04" stroke-width=".6"/>
<path d="M621.8 124.8 L624.7 123.3 L621.3 122 L618.4 123.5Z" fill="#6a2c05" stroke="#6a2c05" stroke-width=".6"/>
<path d="M628 124.7 L630.9 123.2 L627.5 121.9 L624.7 123.3Z" fill="#6a2b05" stroke="#6a2b05" stroke-width=".6"/>
<path d="M634.3 124.5 L637.1 123.1 L633.7 121.8 L630.9 123.2Z" fill="#6a2b05" stroke="#6a2b05" stroke-width=".6"/>
<path d="M492.8 143.5 L496.2 140.5 L493.4 138.9 L490 141.8Z" fill="#888000" stroke="#888000" stroke-width=".6"/>
<path d="M499.1 142.1 L502.5 139.1 L499.6 137.6 L496.2 140.5Z" fill="#877b00" stroke="#877b00" stroke-width=".6"/>
<path d="M505.4 140.7 L508.8 137.9 L505.9 136.3 L502.5 139.1Z" fill="#867600" stroke="#867600" stroke-width=".6"/>
<path d="M511.7 139.5 L515 136.7 L512.1 135.1 L508.8 137.9Z" fill="#857000" stroke="#857000" stroke-width=".6"/>
<path d="M518 138.2 L521.3 135.5 L518.4 134 L515 136.7Z" fill="#836a02" stroke="#836a02" stroke-width=".6"/>
<path d="M524.3 137.1 L527.6 134.4 L524.6 132.9 L521.3 135.5Z" fill="#826503" stroke="#826503" stroke-width=".6"/>
<path d="M530.6 136 L533.8 133.4 L530.8 131.9 L527.6 134.4Z" fill="#815f03" stroke="#815f03" stroke-width=".6"/>
<path d="M599.9 127.6 L602.9 125.7 L599.6 124.3 L596.6 126.1Z" fill="#6b3004" stroke="#6b3004" stroke-width=".6"/>
<path d="M606.2 127.1 L609.2 125.4 L605.9 124 L602.9 125.7Z" fill="#6b2f04" stroke="#6b2f04" stroke-width=".6"/>
<path d="M612.5 126.8 L615.5 125.1 L612.2 123.7 L609.2 125.4Z" fill="#6b2e04" stroke="#6b2e04" stroke-width=".6"/>
<path d="M618.8 126.5 L621.8 124.8 L618.4 123.5 L615.5 125.1Z" fill="#6a2d04" stroke="#6a2d04" stroke-width=".6"/>
<path d="M625.1 126.2 L628 124.7 L624.7 123.3 L621.8 124.8Z" fill="#6a2c04" stroke="#6a2c04" stroke-width=".6"/>
<path d="M631.4 126 L634.3 124.5 L630.9 123.2 L628 124.7Z" fill="#6a2c05" stroke="#6a2c05" stroke-width=".6"/>
<path d="M637.7 125.9 L640.6 124.5 L637.1 123.1 L634.3 124.5Z" fill="#6a2b05" stroke="#6a2b05" stroke-width=".6"/>
<path d="M536.9 134.9 L540.1 132.4 L537.1 130.9 L533.8 133.4Z" fill="#7e5904" stroke="#7e5904" stroke-width=".6"/>
<path d="M543.2 133.9 L546.4 131.5 L543.3 130 L540.1 132.4Z" fill="#7c5404" stroke="#7c5404" stroke-width=".6"/>
<path d="M549.5 133 L552.7 130.6 L549.6 129.1 L546.4 131.5Z" fill="#7a4e05" stroke="#7a4e05" stroke-width=".6"/>
<path d="M555.8 132.1 L559 129.8 L555.9 128.3 L552.7 130.6Z" fill="#774805" stroke="#774805" stroke-width=".6"/>
<path d="M562.1 131.3 L565.2 129.1 L562.1 127.6 L559 129.8Z" fill="#744204" stroke="#744204" stroke-width=".6"/>
<path d="M568.4 130.5 L571.5 128.4 L568.4 126.9 L565.2 129.1Z" fill="#713c04" stroke="#713c04" stroke-width=".6"/>
<path d="M574.7 129.8 L577.8 127.7 L574.6 126.3 L571.5 128.4Z" fill="#703904" stroke="#703904" stroke-width=".6"/>
<path d="M581 129.2 L584.1 127.1 L580.9 125.7 L577.8 127.7Z" fill="#6e3604" stroke="#6e3604" stroke-width=".6"/>
<path d="M587.3 128.6 L590.4 126.6 L587.1 125.2 L584.1 127.1Z" fill="#6d3404" stroke="#6d3404" stroke-width=".6"/>
<path d="M593.6 128 L596.6 126.1 L593.4 124.7 L590.4 126.6Z" fill="#6c3204" stroke="#6c3204" stroke-width=".6"/>
<path d="M489.4 146.5 L492.8 143.5 L490 141.8 L486.6 144.9Z" fill="#898600" stroke="#898600" stroke-width=".6"/>
<path d="M495.7 145.1 L499.1 142.1 L496.2 140.5 L492.8 143.5Z" fill="#888100" stroke="#888100" stroke-width=".6"/>
<path d="M502 143.7 L505.4 140.7 L502.5 139.1 L499.1 142.1Z" fill="#877c00" stroke="#877c00" stroke-width=".6"/>
<path d="M508.3 142.3 L511.7 139.5 L508.8 137.9 L505.4 140.7Z" fill="#867700" stroke="#867700" stroke-width=".6"/>
<path d="M514.6 141 L518 138.2 L515 136.7 L511.7 139.5Z" fill="#857200" stroke="#857200" stroke-width=".6"/>
<path d="M520.9 139.8 L524.3 137.1 L521.3 135.5 L518 138.2Z" fill="#846c01" stroke="#846c01" stroke-width=".6"/>
<path d="M527.3 138.6 L530.6 136 L527.6 134.4 L524.3 137.1Z" fill="#836602" stroke="#836602" stroke-width=".6"/>
<path d="M533.6 137.5 L536.9 134.9 L533.8 133.4 L530.6 136Z" fill="#816003" stroke="#816003" stroke-width=".6"/>
<path d="M539.9 136.5 L543.2 133.9 L540.1 132.4 L536.9 134.9Z" fill="#7f5b04" stroke="#7f5b04" stroke-width=".6"/>
<path d="M546.2 135.4 L549.5 133 L546.4 131.5 L543.2 133.9Z" fill="#7d5504" stroke="#7d5504" stroke-width=".6"/>
<path d="M552.6 134.5 L555.8 132.1 L552.7 130.6 L549.5 133Z" fill="#7b5005" stroke="#7b5005" stroke-width=".6"/>
<path d="M558.9 133.6 L562.1 131.3 L559 129.8 L555.8 132.1Z" fill="#784a05" stroke="#784a05" stroke-width=".6"/>
<path d="M565.2 132.8 L568.4 130.5 L565.2 129.1 L562.1 131.3Z" fill="#754304" stroke="#754304" stroke-width=".6"/>
<path d="M571.6 132 L574.7 129.8 L571.5 128.4 L568.4 130.5Z" fill="#723e04" stroke="#723e04" stroke-width=".6"/>
<path d="M577.9 131.3 L581 129.2 L577.8 127.7 L574.7 129.8Z" fill="#703a04" stroke="#703a04" stroke-width=".6"/>
<path d="M584.2 130.6 L587.3 128.6 L584.1 127.1 L581 129.2Z" fill="#6f3704" stroke="#6f3704" stroke-width=".6"/>
<path d="M590.6 130 L593.6 128 L590.4 126.6 L587.3 128.6Z" fill="#6d3504" stroke="#6d3504" stroke-width=".6"/>
<path d="M596.9 129.5 L599.9 127.6 L596.6 126.1 L593.6 128Z" fill="#6c3204" stroke="#6c3204" stroke-width=".6"/>
<path d="M603.2 129 L606.2 127.1 L602.9 125.7 L599.9 127.6Z" fill="#6c3104" stroke="#6c3104" stroke-width=".6"/>
<path d="M609.6 128.5 L612.5 126.8 L609.2 125.4 L606.2 127.1Z" fill="#6b2f04" stroke="#6b2f04" stroke-width=".6"/>
<path d="M615.9 128.2 L618.8 126.5 L615.5 125.1 L612.5 126.8Z" fill="#6b2e04" stroke="#6b2e04" stroke-width=".6"/>
<path d="M622.2 127.8 L625.1 126.2 L621.8 124.8 L618.8 126.5Z" fill="#6a2d04" stroke="#6a2d04" stroke-width=".6"/>
<path d="M628.6 127.6 L631.4 126 L628 124.7 L625.1 126.2Z" fill="#6a2d04" stroke="#6a2d04" stroke-width=".6"/>
<path d="M634.9 127.4 L637.7 125.9 L634.3 124.5 L631.4 126Z" fill="#6a2c05" stroke="#6a2c05" stroke-width=".6"/>
<path d="M641.2 127.2 L644 125.8 L640.6 124.5 L637.7 125.9Z" fill="#6a2c05" stroke="#6a2c05" stroke-width=".6"/>
<path d="M485.9 149.7 L489.4 146.5 L486.6 144.9 L483.1 148.1Z" fill="#8a8b00" stroke="#8a8b00" stroke-width=".6"/>
<path d="M492.2 148.2 L495.7 145.1 L492.8 143.5 L489.4 146.5Z" fill="#8a8700" stroke="#8a8700" stroke-width=".6"/>
<path d="M498.6 146.7 L502 143.7 L499.1 142.1 L495.7 145.1Z" fill="#888200" stroke="#888200" stroke-width=".6"/>
<path d="M504.9 145.3 L508.3 142.3 L505.4 140.7 L502 143.7Z" fill="#877d00" stroke="#877d00" stroke-width=".6"/>
<path d="M511.2 143.9 L514.6 141 L511.7 139.5 L508.3 142.3Z" fill="#867800" stroke="#867800" stroke-width=".6"/>
<path d="M517.6 142.6 L520.9 139.8 L518 138.2 L514.6 141Z" fill="#857300" stroke="#857300" stroke-width=".6"/>
<path d="M523.9 141.4 L527.3 138.6 L524.3 137.1 L520.9 139.8Z" fill="#846d01" stroke="#846d01" stroke-width=".6"/>
<path d="M536.6 139.1 L539.9 136.5 L536.9 134.9 L533.6 137.5Z" fill="#826203" stroke="#826203" stroke-width=".6"/>
<path d="M543 138 L546.2 135.4 L543.2 133.9 L539.9 136.5Z" fill="#805c04" stroke="#805c04" stroke-width=".6"/>
<path d="M549.3 137 L552.6 134.5 L549.5 133 L546.2 135.4Z" fill="#7d5604" stroke="#7d5604" stroke-width=".6"/>
<path d="M555.7 136 L558.9 133.6 L555.8 132.1 L552.6 134.5Z" fill="#7b5105" stroke="#7b5105" stroke-width=".6"/>
<path d="M562 135.1 L565.2 132.8 L562.1 131.3 L558.9 133.6Z" fill="#794b05" stroke="#794b05" stroke-width=".6"/>
<path d="M568.4 134.3 L571.6 132 L568.4 130.5 L565.2 132.8Z" fill="#754504" stroke="#754504" stroke-width=".6"/>
<path d="M574.8 133.5 L577.9 131.3 L574.7 129.8 L571.6 132Z" fill="#723f04" stroke="#723f04" stroke-width=".6"/>
<path d="M581.1 132.7 L584.2 130.6 L581 129.2 L577.9 131.3Z" fill="#703b04" stroke="#703b04" stroke-width=".6"/>
<path d="M587.5 132.1 L590.6 130 L587.3 128.6 L584.2 130.6Z" fill="#6f3804" stroke="#6f3804" stroke-width=".6"/>
<path d="M593.8 131.4 L596.9 129.5 L593.6 128 L590.6 130Z" fill="#6e3504" stroke="#6e3504" stroke-width=".6"/>
<path d="M606.6 130.4 L609.6 128.5 L606.2 127.1 L603.2 129Z" fill="#6c3104" stroke="#6c3104" stroke-width=".6"/>
<path d="M612.9 129.9 L615.9 128.2 L612.5 126.8 L609.6 128.5Z" fill="#6b3004" stroke="#6b3004" stroke-width=".6"/>
<path d="M619.3 129.6 L622.2 127.8 L618.8 126.5 L615.9 128.2Z" fill="#6b2f04" stroke="#6b2f04" stroke-width=".6"/>
<path d="M625.6 129.2 L628.6 127.6 L625.1 126.2 L622.2 127.8Z" fill="#6b2e04" stroke="#6b2e04" stroke-width=".6"/>
<path d="M632 129 L634.9 127.4 L631.4 126 L628.6 127.6Z" fill="#6a2d04" stroke="#6a2d04" stroke-width=".6"/>
<path d="M638.4 128.8 L641.2 127.2 L637.7 125.9 L634.9 127.4Z" fill="#6a2c04" stroke="#6a2c04" stroke-width=".6"/>
<path d="M644.7 128.6 L647.5 127.2 L644 125.8 L641.2 127.2Z" fill="#6a2c05" stroke="#6a2c05" stroke-width=".6"/>
<path d="M530.3 140.2 L533.6 137.5 L530.6 136 L527.3 138.6Z" fill="#836702" stroke="#836702" stroke-width=".6"/>
<path d="M600.2 130.9 L603.2 129 L599.9 127.6 L596.9 129.5Z" fill="#6d3304" stroke="#6d3304" stroke-width=".6"/>
<path d="M482.4 153 L485.9 149.7 L483.1 148.1 L479.6 151.3Z" fill="#8b9000" stroke="#8b9000" stroke-width=".6"/>
<path d="M488.8 151.4 L492.2 148.2 L489.4 146.5 L485.9 149.7Z" fill="#8a8c00" stroke="#8a8c00" stroke-width=".6"/>
<path d="M495.1 149.8 L498.6 146.7 L495.7 145.1 L492.2 148.2Z" fill="#8a8800" stroke="#8a8800" stroke-width=".6"/>
<path d="M501.5 148.4 L504.9 145.3 L502 143.7 L498.6 146.7Z" fill="#898300" stroke="#898300" stroke-width=".6"/>
<path d="M507.8 146.9 L511.2 143.9 L508.3 142.3 L504.9 145.3Z" fill="#877e00" stroke="#877e00" stroke-width=".6"/>
<path d="M514.2 145.6 L517.6 142.6 L514.6 141 L511.2 143.9Z" fill="#867900" stroke="#867900" stroke-width=".6"/>
<path d="M520.6 144.2 L523.9 141.4 L520.9 139.8 L517.6 142.6Z" fill="#857400" stroke="#857400" stroke-width=".6"/>
<path d="M526.9 143 L530.3 140.2 L527.3 138.6 L523.9 141.4Z" fill="#846e01" stroke="#846e01" stroke-width=".6"/>
<path d="M533.3 141.8 L536.6 139.1 L533.6 137.5 L530.3 140.2Z" fill="#836802" stroke="#836802" stroke-width=".6"/>
<path d="M539.7 140.6 L543 138 L539.9 136.5 L536.6 139.1Z" fill="#826303" stroke="#826303" stroke-width=".6"/>
<path d="M546.1 139.5 L549.3 137 L546.2 135.4 L543 138Z" fill="#805d03" stroke="#805d03" stroke-width=".6"/>
<path d="M552.4 138.5 L555.7 136 L552.6 134.5 L549.3 137Z" fill="#7e5704" stroke="#7e5704" stroke-width=".6"/>
<path d="M558.8 137.5 L562 135.1 L558.9 133.6 L555.7 136Z" fill="#7c5205" stroke="#7c5205" stroke-width=".6"/>
<path d="M565.2 136.6 L568.4 134.3 L565.2 132.8 L562 135.1Z" fill="#794d05" stroke="#794d05" stroke-width=".6"/>
<path d="M571.6 135.7 L574.8 133.5 L571.6 132 L568.4 134.3Z" fill="#764605" stroke="#764605" stroke-width=".6"/>
<path d="M578 134.9 L581.1 132.7 L577.9 131.3 L574.8 133.5Z" fill="#734004" stroke="#734004" stroke-width=".6"/>
<path d="M584.4 134.2 L587.5 132.1 L584.2 130.6 L581.1 132.7Z" fill="#713b04" stroke="#713b04" stroke-width=".6"/>
<path d="M590.8 133.5 L593.8 131.4 L590.6 130 L587.5 132.1Z" fill="#6f3904" stroke="#6f3904" stroke-width=".6"/>
<path d="M597.2 132.9 L600.2 130.9 L596.9 129.5 L593.8 131.4Z" fill="#6e3604" stroke="#6e3604" stroke-width=".6"/>
<path d="M603.5 132.3 L606.6 130.4 L603.2 129 L600.2 130.9Z" fill="#6d3404" stroke="#6d3404" stroke-width=".6"/>
<path d="M609.9 131.8 L612.9 129.9 L609.6 128.5 L606.6 130.4Z" fill="#6c3204" stroke="#6c3204" stroke-width=".6"/>
<path d="M616.3 131.4 L619.3 129.6 L615.9 128.2 L612.9 129.9Z" fill="#6b3004" stroke="#6b3004" stroke-width=".6"/>
<path d="M622.7 131 L625.6 129.2 L622.2 127.8 L619.3 129.6Z" fill="#6b2f04" stroke="#6b2f04" stroke-width=".6"/>
<path d="M629.1 130.6 L632 129 L628.6 127.6 L625.6 129.2Z" fill="#6b2e04" stroke="#6b2e04" stroke-width=".6"/>
<path d="M635.5 130.3 L638.4 128.8 L634.9 127.4 L632 129Z" fill="#6a2d04" stroke="#6a2d04" stroke-width=".6"/>
<path d="M641.8 130.1 L644.7 128.6 L641.2 127.2 L638.4 128.8Z" fill="#6a2d04" stroke="#6a2d04" stroke-width=".6"/>
<path d="M648.2 130 L651 128.5 L647.5 127.2 L644.7 128.6Z" fill="#6a2c04" stroke="#6a2c04" stroke-width=".6"/>
<path d="M478.9 156.4 L482.4 153 L479.6 151.3 L476.1 154.7Z" fill="#8c9500" stroke="#8c9500" stroke-width=".6"/>
<path d="M485.3 154.7 L488.8 151.4 L485.9 149.7 L482.4 153Z" fill="#8b9000" stroke="#8b9000" stroke-width=".6"/>
<path d="M491.6 153.1 L495.1 149.8 L492.2 148.2 L488.8 151.4Z" fill="#8b8c00" stroke="#8b8c00" stroke-width=".6"/>
<path d="M498 151.5 L501.5 148.4 L498.6 146.7 L495.1 149.8Z" fill="#8a8800" stroke="#8a8800" stroke-width=".6"/>
<path d="M504.4 150 L507.8 146.9 L504.9 145.3 L501.5 148.4Z" fill="#898400" stroke="#898400" stroke-width=".6"/>
<path d="M510.8 148.6 L514.2 145.6 L511.2 143.9 L507.8 146.9Z" fill="#887f00" stroke="#887f00" stroke-width=".6"/>
<path d="M517.2 147.2 L520.6 144.2 L517.6 142.6 L514.2 145.6Z" fill="#877a00" stroke="#877a00" stroke-width=".6"/>
<path d="M613.3 133.2 L616.3 131.4 L612.9 129.9 L609.9 131.8Z" fill="#6c3204" stroke="#6c3204" stroke-width=".6"/>
<path d="M619.7 132.8 L622.7 131 L619.3 129.6 L616.3 131.4Z" fill="#6c3104" stroke="#6c3104" stroke-width=".6"/>
<path d="M626.2 132.4 L629.1 130.6 L625.6 129.2 L622.7 131Z" fill="#6b2f04" stroke="#6b2f04" stroke-width=".6"/>
<path d="M632.6 132 L635.5 130.3 L632 129 L629.1 130.6Z" fill="#6b2e04" stroke="#6b2e04" stroke-width=".6"/>
<path d="M639 131.7 L641.8 130.1 L638.4 128.8 L635.5 130.3Z" fill="#6a2d04" stroke="#6a2d04" stroke-width=".6"/>
<path d="M645.4 131.5 L648.2 130 L644.7 128.6 L641.8 130.1Z" fill="#6a2d04" stroke="#6a2d04" stroke-width=".6"/>
<path d="M651.8 131.3 L654.6 129.9 L651 128.5 L648.2 130Z" fill="#6a2c04" stroke="#6a2c04" stroke-width=".6"/>
<path d="M523.6 145.8 L526.9 143 L523.9 141.4 L520.6 144.2Z" fill="#857500" stroke="#857500" stroke-width=".6"/>
<path d="M530 144.6 L533.3 141.8 L530.3 140.2 L526.9 143Z" fill="#846f01" stroke="#846f01" stroke-width=".6"/>
<path d="M536.4 143.3 L539.7 140.6 L536.6 139.1 L533.3 141.8Z" fill="#836a02" stroke="#836a02" stroke-width=".6"/>
<path d="M542.8 142.2 L546.1 139.5 L543 138 L539.7 140.6Z" fill="#826403" stroke="#826403" stroke-width=".6"/>
<path d="M549.2 141.1 L552.4 138.5 L549.3 137 L546.1 139.5Z" fill="#815e03" stroke="#815e03" stroke-width=".6"/>
<path d="M555.6 140 L558.8 137.5 L555.7 136 L552.4 138.5Z" fill="#7e5904" stroke="#7e5904" stroke-width=".6"/>
<path d="M562 139 L565.2 136.6 L562 135.1 L558.8 137.5Z" fill="#7c5304" stroke="#7c5304" stroke-width=".6"/>
<path d="M568.4 138.1 L571.6 135.7 L568.4 134.3 L565.2 136.6Z" fill="#7a4e05" stroke="#7a4e05" stroke-width=".6"/>
<path d="M574.8 137.2 L578 134.9 L574.8 133.5 L571.6 135.7Z" fill="#774805" stroke="#774805" stroke-width=".6"/>
<path d="M581.2 136.4 L584.4 134.2 L581.1 132.7 L578 134.9Z" fill="#744204" stroke="#744204" stroke-width=".6"/>
<path d="M587.7 135.7 L590.8 133.5 L587.5 132.1 L584.4 134.2Z" fill="#713c04" stroke="#713c04" stroke-width=".6"/>
<path d="M594.1 135 L597.2 132.9 L593.8 131.4 L590.8 133.5Z" fill="#703904" stroke="#703904" stroke-width=".6"/>
<path d="M600.5 134.3 L603.5 132.3 L600.2 130.9 L597.2 132.9Z" fill="#6e3704" stroke="#6e3704" stroke-width=".6"/>
<path d="M606.9 133.8 L609.9 131.8 L606.6 130.4 L603.5 132.3Z" fill="#6d3404" stroke="#6d3404" stroke-width=".6"/>
<path d="M475.4 159.8 L478.9 156.4 L476.1 154.7 L472.6 158.1Z" fill="#859700" stroke="#859700" stroke-width=".6"/>
<path d="M481.8 158.1 L485.3 154.7 L482.4 153 L478.9 156.4Z" fill="#8c9500" stroke="#8c9500" stroke-width=".6"/>
<path d="M488.2 156.4 L491.6 153.1 L488.8 151.4 L485.3 154.7Z" fill="#8b9100" stroke="#8b9100" stroke-width=".6"/>
<path d="M494.5 154.7 L498 151.5 L495.1 149.8 L491.6 153.1Z" fill="#8b8d00" stroke="#8b8d00" stroke-width=".6"/>
<path d="M501 153.2 L504.4 150 L501.5 148.4 L498 151.5Z" fill="#8a8900" stroke="#8a8900" stroke-width=".6"/>
<path d="M507.4 151.7 L510.8 148.6 L507.8 146.9 L504.4 150Z" fill="#898400" stroke="#898400" stroke-width=".6"/>
<path d="M513.8 150.2 L517.2 147.2 L514.2 145.6 L510.8 148.6Z" fill="#888000" stroke="#888000" stroke-width=".6"/>
<path d="M520.2 148.8 L523.6 145.8 L520.6 144.2 L517.2 147.2Z" fill="#877b00" stroke="#877b00" stroke-width=".6"/>
<path d="M526.6 147.4 L530 144.6 L526.9 143 L523.6 145.8Z" fill="#867600" stroke="#867600" stroke-width=".6"/>
<path d="M533 146.2 L536.4 143.3 L533.3 141.8 L530 144.6Z" fill="#857000" stroke="#857000" stroke-width=".6"/>
<path d="M539.5 144.9 L542.8 142.2 L539.7 140.6 L536.4 143.3Z" fill="#846b01" stroke="#846b01" stroke-width=".6"/>
<path d="M545.9 143.7 L549.2 141.1 L546.1 139.5 L542.8 142.2Z" fill="#836502" stroke="#836502" stroke-width=".6"/>
<path d="M552.3 142.6 L555.6 140 L552.4 138.5 L549.2 141.1Z" fill="#816003" stroke="#816003" stroke-width=".6"/>
<path d="M558.8 141.6 L562 139 L558.8 137.5 L555.6 140Z" fill="#7f5a04" stroke="#7f5a04" stroke-width=".6"/>
<path d="M565.2 140.6 L568.4 138.1 L565.2 136.6 L562 139Z" fill="#7c5404" stroke="#7c5404" stroke-width=".6"/>
<path d="M571.6 139.6 L574.8 137.2 L571.6 135.7 L568.4 138.1Z" fill="#7a4f05" stroke="#7a4f05" stroke-width=".6"/>
<path d="M578.1 138.7 L581.2 136.4 L578 134.9 L574.8 137.2Z" fill="#774905" stroke="#774905" stroke-width=".6"/>
<path d="M584.5 137.9 L587.7 135.7 L584.4 134.2 L581.2 136.4Z" fill="#744304" stroke="#744304" stroke-width=".6"/>
<path d="M591 137.1 L594.1 135 L590.8 133.5 L587.7 135.7Z" fill="#723d04" stroke="#723d04" stroke-width=".6"/>
<path d="M597.4 136.4 L600.5 134.3 L597.2 132.9 L594.1 135Z" fill="#703a04" stroke="#703a04" stroke-width=".6"/>
<path d="M603.9 135.8 L606.9 133.8 L603.5 132.3 L600.5 134.3Z" fill="#6f3704" stroke="#6f3704" stroke-width=".6"/>
<path d="M610.3 135.2 L613.3 133.2 L609.9 131.8 L606.9 133.8Z" fill="#6d3504" stroke="#6d3504" stroke-width=".6"/>
<path d="M616.7 134.7 L619.7 132.8 L616.3 131.4 L613.3 133.2Z" fill="#6c3304" stroke="#6c3304" stroke-width=".6"/>
<path d="M623.2 134.2 L626.2 132.4 L622.7 131 L619.7 132.8Z" fill="#6c3104" stroke="#6c3104" stroke-width=".6"/>
<path d="M629.6 133.8 L632.6 132 L629.1 130.6 L626.2 132.4Z" fill="#6b3004" stroke="#6b3004" stroke-width=".6"/>
<path d="M636.1 133.4 L639 131.7 L635.5 130.3 L632.6 132Z" fill="#6b2f04" stroke="#6b2f04" stroke-width=".6"/>
<path d="M642.5 133.1 L645.4 131.5 L641.8 130.1 L639 131.7Z" fill="#6b2e04" stroke="#6b2e04" stroke-width=".6"/>
<path d="M648.9 132.9 L651.8 131.3 L648.2 130 L645.4 131.5Z" fill="#6a2d04" stroke="#6a2d04" stroke-width=".6"/>
<path d="M655.4 132.7 L658.2 131.2 L654.6 129.9 L651.8 131.3Z" fill="#6a2d04" stroke="#6a2d04" stroke-width=".6"/>
<path d="M510.3 153.3 L513.8 150.2 L510.8 148.6 L507.4 151.7Z" fill="#898500" stroke="#898500" stroke-width=".6"/>
<path d="M620.2 136.1 L623.2 134.2 L619.7 132.8 L616.7 134.7Z" fill="#6d3304" stroke="#6d3304" stroke-width=".6"/>
<path d="M471.8 163.4 L475.4 159.8 L472.6 158.1 L469 161.6Z" fill="#779600" stroke="#779600" stroke-width=".6"/>
<path d="M478.2 161.5 L481.8 158.1 L478.9 156.4 L475.4 159.8Z" fill="#839700" stroke="#839700" stroke-width=".6"/>
<path d="M484.6 159.8 L488.2 156.4 L485.3 154.7 L481.8 158.1Z" fill="#8c9600" stroke="#8c9600" stroke-width=".6"/>
<path d="M491 158.1 L494.5 154.7 L491.6 153.1 L488.2 156.4Z" fill="#8b9200" stroke="#8b9200" stroke-width=".6"/>
<path d="M497.5 156.4 L501 153.2 L498 151.5 L494.5 154.7Z" fill="#8b8e00" stroke="#8b8e00" stroke-width=".6"/>
<path d="M503.9 154.8 L507.4 151.7 L504.4 150 L501 153.2Z" fill="#8a8a00" stroke="#8a8a00" stroke-width=".6"/>
<path d="M549 145.3 L552.3 142.6 L549.2 141.1 L545.9 143.7Z" fill="#836602" stroke="#836602" stroke-width=".6"/>
<path d="M555.5 144.2 L558.8 141.6 L555.6 140 L552.3 142.6Z" fill="#816103" stroke="#816103" stroke-width=".6"/>
<path d="M562 143.1 L565.2 140.6 L562 139 L558.8 141.6Z" fill="#7f5b04" stroke="#7f5b04" stroke-width=".6"/>
<path d="M568.4 142.1 L571.6 139.6 L568.4 138.1 L565.2 140.6Z" fill="#7d5504" stroke="#7d5504" stroke-width=".6"/>
<path d="M574.9 141.1 L578.1 138.7 L574.8 137.2 L571.6 139.6Z" fill="#7b5005" stroke="#7b5005" stroke-width=".6"/>
<path d="M581.4 140.2 L584.5 137.9 L581.2 136.4 L578.1 138.7Z" fill="#784a05" stroke="#784a05" stroke-width=".6"/>
<path d="M626.7 135.6 L629.6 133.8 L626.2 132.4 L623.2 134.2Z" fill="#6c3104" stroke="#6c3104" stroke-width=".6"/>
<path d="M633.1 135.2 L636.1 133.4 L632.6 132 L629.6 133.8Z" fill="#6b3004" stroke="#6b3004" stroke-width=".6"/>
<path d="M639.6 134.8 L642.5 133.1 L639 131.7 L636.1 133.4Z" fill="#6b2f04" stroke="#6b2f04" stroke-width=".6"/>
<path d="M646.1 134.5 L648.9 132.9 L645.4 131.5 L642.5 133.1Z" fill="#6b2e04" stroke="#6b2e04" stroke-width=".6"/>
<path d="M652.5 134.2 L655.4 132.7 L651.8 131.3 L648.9 132.9Z" fill="#6a2d04" stroke="#6a2d04" stroke-width=".6"/>
<path d="M659 134.1 L661.8 132.6 L658.2 131.2 L655.4 132.7Z" fill="#6a2d04" stroke="#6a2d04" stroke-width=".6"/>
<path d="M516.8 151.8 L520.2 148.8 L517.2 147.2 L513.8 150.2Z" fill="#888000" stroke="#888000" stroke-width=".6"/>
<path d="M523.2 150.4 L526.6 147.4 L523.6 145.8 L520.2 148.8Z" fill="#877c00" stroke="#877c00" stroke-width=".6"/>
<path d="M529.7 149.1 L533 146.2 L530 144.6 L526.6 147.4Z" fill="#867700" stroke="#867700" stroke-width=".6"/>
<path d="M536.1 147.7 L539.5 144.9 L536.4 143.3 L533 146.2Z" fill="#857100" stroke="#857100" stroke-width=".6"/>
<path d="M542.6 146.5 L545.9 143.7 L542.8 142.2 L539.5 144.9Z" fill="#846c01" stroke="#846c01" stroke-width=".6"/>
<path d="M587.8 139.4 L591 137.1 L587.7 135.7 L584.5 137.9Z" fill="#754404" stroke="#754404" stroke-width=".6"/>
<path d="M594.3 138.6 L597.4 136.4 L594.1 135 L591 137.1Z" fill="#723e04" stroke="#723e04" stroke-width=".6"/>
<path d="M600.8 137.9 L603.9 135.8 L600.5 134.3 L597.4 136.4Z" fill="#703a04" stroke="#703a04" stroke-width=".6"/>
<path d="M607.3 137.2 L610.3 135.2 L606.9 133.8 L603.9 135.8Z" fill="#6f3804" stroke="#6f3804" stroke-width=".6"/>
<path d="M613.7 136.6 L616.7 134.7 L613.3 133.2 L610.3 135.2Z" fill="#6e3504" stroke="#6e3504" stroke-width=".6"/>
<path d="M474.6 165.1 L478.2 161.5 L475.4 159.8 L471.8 163.4Z" fill="#759600" stroke="#759600" stroke-width=".6"/>
<path d="M481.1 163.3 L484.6 159.8 L481.8 158.1 L478.2 161.5Z" fill="#819700" stroke="#819700" stroke-width=".6"/>
<path d="M487.5 161.5 L491 158.1 L488.2 156.4 L484.6 159.8Z" fill="#8c9700" stroke="#8c9700" stroke-width=".6"/>
<path d="M494 159.8 L497.5 156.4 L494.5 154.7 L491 158.1Z" fill="#8b9300" stroke="#8b9300" stroke-width=".6"/>
<path d="M500.4 158.1 L503.9 154.8 L501 153.2 L497.5 156.4Z" fill="#8b8f00" stroke="#8b8f00" stroke-width=".6"/>
<path d="M506.9 156.5 L510.3 153.3 L507.4 151.7 L503.9 154.8Z" fill="#8a8b00" stroke="#8a8b00" stroke-width=".6"/>
<path d="M513.3 155 L516.8 151.8 L513.8 150.2 L510.3 153.3Z" fill="#8a8600" stroke="#8a8600" stroke-width=".6"/>
<path d="M519.8 153.5 L523.2 150.4 L520.2 148.8 L516.8 151.8Z" fill="#888100" stroke="#888100" stroke-width=".6"/>
<path d="M526.3 152 L529.7 149.1 L526.6 147.4 L523.2 150.4Z" fill="#877d00" stroke="#877d00" stroke-width=".6"/>
<path d="M532.8 150.7 L536.1 147.7 L533 146.2 L529.7 149.1Z" fill="#867800" stroke="#867800" stroke-width=".6"/>
<path d="M539.2 149.4 L542.6 146.5 L539.5 144.9 L536.1 147.7Z" fill="#857300" stroke="#857300" stroke-width=".6"/>
<path d="M545.7 148.1 L549 145.3 L545.9 143.7 L542.6 146.5Z" fill="#846d01" stroke="#846d01" stroke-width=".6"/>
<path d="M552.2 146.9 L555.5 144.2 L552.3 142.6 L549 145.3Z" fill="#836702" stroke="#836702" stroke-width=".6"/>
<path d="M558.7 145.7 L562 143.1 L558.8 141.6 L555.5 144.2Z" fill="#826203" stroke="#826203" stroke-width=".6"/>
<path d="M565.2 144.7 L568.4 142.1 L565.2 140.6 L562 143.1Z" fill="#805c04" stroke="#805c04" stroke-width=".6"/>
<path d="M571.7 143.6 L574.9 141.1 L571.6 139.6 L568.4 142.1Z" fill="#7d5604" stroke="#7d5604" stroke-width=".6"/>
<path d="M578.2 142.7 L581.4 140.2 L578.1 138.7 L574.9 141.1Z" fill="#7b5105" stroke="#7b5105" stroke-width=".6"/>
<path d="M584.7 141.8 L587.8 139.4 L584.5 137.9 L581.4 140.2Z" fill="#794b05" stroke="#794b05" stroke-width=".6"/>
<path d="M591.2 140.9 L594.3 138.6 L591 137.1 L587.8 139.4Z" fill="#764505" stroke="#764505" stroke-width=".6"/>
<path d="M597.7 140.1 L600.8 137.9 L597.4 136.4 L594.3 138.6Z" fill="#733f04" stroke="#733f04" stroke-width=".6"/>
<path d="M604.2 139.4 L607.3 137.2 L603.9 135.8 L600.8 137.9Z" fill="#703b04" stroke="#703b04" stroke-width=".6"/>
<path d="M610.7 138.7 L613.7 136.6 L610.3 135.2 L607.3 137.2Z" fill="#6f3804" stroke="#6f3804" stroke-width=".6"/>
<path d="M617.2 138.1 L620.2 136.1 L616.7 134.7 L613.7 136.6Z" fill="#6e3604" stroke="#6e3604" stroke-width=".6"/>
<path d="M623.7 137.5 L626.7 135.6 L623.2 134.2 L620.2 136.1Z" fill="#6d3404" stroke="#6d3404" stroke-width=".6"/>
<path d="M630.2 137 L633.1 135.2 L629.6 133.8 L626.7 135.6Z" fill="#6c3204" stroke="#6c3204" stroke-width=".6"/>
<path d="M636.7 136.6 L639.6 134.8 L636.1 133.4 L633.1 135.2Z" fill="#6b3004" stroke="#6b3004" stroke-width=".6"/>
<path d="M643.2 136.2 L646.1 134.5 L642.5 133.1 L639.6 134.8Z" fill="#6b2f04" stroke="#6b2f04" stroke-width=".6"/>
<path d="M649.7 135.9 L652.5 134.2 L648.9 132.9 L646.1 134.5Z" fill="#6b2e04" stroke="#6b2e04" stroke-width=".6"/>
<path d="M656.1 135.6 L659 134.1 L655.4 132.7 L652.5 134.2Z" fill="#6a2d04" stroke="#6a2d04" stroke-width=".6"/>
<path d="M477.5 166.9 L481.1 163.3 L478.2 161.5 L474.6 165.1Z" fill="#739600" stroke="#739600" stroke-width=".6"/>
<path d="M484 165 L487.5 161.5 L484.6 159.8 L481.1 163.3Z" fill="#7f9700" stroke="#7f9700" stroke-width=".6"/>
<path d="M490.4 163.2 L494 159.8 L491 158.1 L487.5 161.5Z" fill="#8a9700" stroke="#8a9700" stroke-width=".6"/>
<path d="M496.9 161.5 L500.4 158.1 L497.5 156.4 L494 159.8Z" fill="#8c9300" stroke="#8c9300" stroke-width=".6"/>
<path d="M503.4 159.8 L506.9 156.5 L503.9 154.8 L500.4 158.1Z" fill="#8b8f00" stroke="#8b8f00" stroke-width=".6"/>
<path d="M555.4 148.5 L558.7 145.7 L555.5 144.2 L552.2 146.9Z" fill="#836802" stroke="#836802" stroke-width=".6"/>
<path d="M561.9 147.3 L565.2 144.7 L562 143.1 L558.7 145.7Z" fill="#826303" stroke="#826303" stroke-width=".6"/>
<path d="M568.5 146.2 L571.7 143.6 L568.4 142.1 L565.2 144.7Z" fill="#805d04" stroke="#805d04" stroke-width=".6"/>
<path d="M575 145.2 L578.2 142.7 L574.9 141.1 L571.7 143.6Z" fill="#7e5704" stroke="#7e5704" stroke-width=".6"/>
<path d="M627.2 139 L630.2 137 L626.7 135.6 L623.7 137.5Z" fill="#6d3404" stroke="#6d3404" stroke-width=".6"/>
<path d="M633.7 138.5 L636.7 136.6 L633.1 135.2 L630.2 137Z" fill="#6c3204" stroke="#6c3204" stroke-width=".6"/>
<path d="M640.2 138 L643.2 136.2 L639.6 134.8 L636.7 136.6Z" fill="#6c3104" stroke="#6c3104" stroke-width=".6"/>
<path d="M646.8 137.6 L649.7 135.9 L646.1 134.5 L643.2 136.2Z" fill="#6b2f04" stroke="#6b2f04" stroke-width=".6"/>
<path d="M653.3 137.3 L656.1 135.6 L652.5 134.2 L649.7 135.9Z" fill="#6b2e04" stroke="#6b2e04" stroke-width=".6"/>
<path d="M509.9 158.2 L513.3 155 L510.3 153.3 L506.9 156.5Z" fill="#8a8b00" stroke="#8a8b00" stroke-width=".6"/>
<path d="M516.4 156.6 L519.8 153.5 L516.8 151.8 L513.3 155Z" fill="#8a8700" stroke="#8a8700" stroke-width=".6"/>
<path d="M522.9 155.1 L526.3 152 L523.2 150.4 L519.8 153.5Z" fill="#898200" stroke="#898200" stroke-width=".6"/>
<path d="M529.4 153.7 L532.8 150.7 L529.7 149.1 L526.3 152Z" fill="#877d00" stroke="#877d00" stroke-width=".6"/>
<path d="M535.9 152.3 L539.2 149.4 L536.1 147.7 L532.8 150.7Z" fill="#867800" stroke="#867800" stroke-width=".6"/>
<path d="M542.4 151 L545.7 148.1 L542.6 146.5 L539.2 149.4Z" fill="#857300" stroke="#857300" stroke-width=".6"/>
<path d="M548.9 149.7 L552.2 146.9 L549 145.3 L545.7 148.1Z" fill="#846e01" stroke="#846e01" stroke-width=".6"/>
<path d="M581.5 144.2 L584.7 141.8 L581.4 140.2 L578.2 142.7Z" fill="#7c5205" stroke="#7c5205" stroke-width=".6"/>
<path d="M588 143.3 L591.2 140.9 L587.8 139.4 L584.7 141.8Z" fill="#794d05" stroke="#794d05" stroke-width=".6"/>
<path d="M594.6 142.4 L597.7 140.1 L594.3 138.6 L591.2 140.9Z" fill="#764605" stroke="#764605" stroke-width=".6"/>
<path d="M601.1 141.6 L604.2 139.4 L600.8 137.9 L597.7 140.1Z" fill="#734004" stroke="#734004" stroke-width=".6"/>
<path d="M607.6 140.9 L610.7 138.7 L607.3 137.2 L604.2 139.4Z" fill="#713b04" stroke="#713b04" stroke-width=".6"/>
<path d="M614.1 140.2 L617.2 138.1 L613.7 136.6 L610.7 138.7Z" fill="#6f3904" stroke="#6f3904" stroke-width=".6"/>
<path d="M620.7 139.5 L623.7 137.5 L620.2 136.1 L617.2 138.1Z" fill="#6e3604" stroke="#6e3604" stroke-width=".6"/>
<path d="M480.4 168.6 L484 165 L481.1 163.3 L477.5 166.9Z" fill="#729600" stroke="#729600" stroke-width=".6"/>
<path d="M486.9 166.8 L490.4 163.2 L487.5 161.5 L484 165Z" fill="#7d9700" stroke="#7d9700" stroke-width=".6"/>
<path d="M493.4 165 L496.9 161.5 L494 159.8 L490.4 163.2Z" fill="#889700" stroke="#889700" stroke-width=".6"/>
<path d="M499.9 163.2 L503.4 159.8 L500.4 158.1 L496.9 161.5Z" fill="#8c9400" stroke="#8c9400" stroke-width=".6"/>
<path d="M519.4 158.3 L522.9 155.1 L519.8 153.5 L516.4 156.6Z" fill="#8a8800" stroke="#8a8800" stroke-width=".6"/>
<path d="M526 156.8 L529.4 153.7 L526.3 152 L522.9 155.1Z" fill="#898300" stroke="#898300" stroke-width=".6"/>
<path d="M532.5 155.3 L535.9 152.3 L532.8 150.7 L529.4 153.7Z" fill="#887e00" stroke="#887e00" stroke-width=".6"/>
<path d="M539 153.9 L542.4 151 L539.2 149.4 L535.9 152.3Z" fill="#867900" stroke="#867900" stroke-width=".6"/>
<path d="M545.6 152.6 L548.9 149.7 L545.7 148.1 L542.4 151Z" fill="#857400" stroke="#857400" stroke-width=".6"/>
<path d="M552.1 151.3 L555.4 148.5 L552.2 146.9 L548.9 149.7Z" fill="#846f01" stroke="#846f01" stroke-width=".6"/>
<path d="M558.6 150.1 L561.9 147.3 L558.7 145.7 L555.4 148.5Z" fill="#836902" stroke="#836902" stroke-width=".6"/>
<path d="M565.2 148.9 L568.5 146.2 L565.2 144.7 L561.9 147.3Z" fill="#826403" stroke="#826403" stroke-width=".6"/>
<path d="M571.7 147.8 L575 145.2 L571.7 143.6 L568.5 146.2Z" fill="#805e03" stroke="#805e03" stroke-width=".6"/>
<path d="M578.3 146.7 L581.5 144.2 L578.2 142.7 L575 145.2Z" fill="#7e5804" stroke="#7e5804" stroke-width=".6"/>
<path d="M584.8 145.7 L588 143.3 L584.7 141.8 L581.5 144.2Z" fill="#7c5305" stroke="#7c5305" stroke-width=".6"/>
<path d="M591.4 144.8 L594.6 142.4 L591.2 140.9 L588 143.3Z" fill="#7a4e05" stroke="#7a4e05" stroke-width=".6"/>
<path d="M598 143.9 L601.1 141.6 L597.7 140.1 L594.6 142.4Z" fill="#774705" stroke="#774705" stroke-width=".6"/>
<path d="M604.5 143.1 L607.6 140.9 L604.2 139.4 L601.1 141.6Z" fill="#744104" stroke="#744104" stroke-width=".6"/>
<path d="M611.1 142.3 L614.1 140.2 L610.7 138.7 L607.6 140.9Z" fill="#713c04" stroke="#713c04" stroke-width=".6"/>
<path d="M630.7 140.4 L633.7 138.5 L630.2 137 L627.2 139Z" fill="#6d3404" stroke="#6d3404" stroke-width=".6"/>
<path d="M637.3 139.9 L640.2 138 L636.7 136.6 L633.7 138.5Z" fill="#6c3204" stroke="#6c3204" stroke-width=".6"/>
<path d="M643.8 139.4 L646.8 137.6 L643.2 136.2 L640.2 138Z" fill="#6c3104" stroke="#6c3104" stroke-width=".6"/>
<path d="M650.4 139 L653.3 137.3 L649.7 135.9 L646.8 137.6Z" fill="#6b3004" stroke="#6b3004" stroke-width=".6"/>
<path d="M506.4 161.5 L509.9 158.2 L506.9 156.5 L503.4 159.8Z" fill="#8b9000" stroke="#8b9000" stroke-width=".6"/>
<path d="M512.9 159.9 L516.4 156.6 L513.3 155 L509.9 158.2Z" fill="#8b8c00" stroke="#8b8c00" stroke-width=".6"/>
<path d="M617.6 141.6 L620.7 139.5 L617.2 138.1 L614.1 140.2Z" fill="#703904" stroke="#703904" stroke-width=".6"/>
<path d="M624.2 141 L627.2 139 L623.7 137.5 L620.7 139.5Z" fill="#6e3704" stroke="#6e3704" stroke-width=".6"/>
<path d="M483.3 170.4 L486.9 166.8 L484 165 L480.4 168.6Z" fill="#709600" stroke="#709600" stroke-width=".6"/>
<path d="M489.8 168.5 L493.4 165 L490.4 163.2 L486.9 166.8Z" fill="#7b9600" stroke="#7b9600" stroke-width=".6"/>
<path d="M496.3 166.7 L499.9 163.2 L496.9 161.5 L493.4 165Z" fill="#879700" stroke="#879700" stroke-width=".6"/>
<path d="M561.9 151.6 L565.2 148.9 L561.9 147.3 L558.6 150.1Z" fill="#836a02" stroke="#836a02" stroke-width=".6"/>
<path d="M568.5 150.5 L571.7 147.8 L568.5 146.2 L565.2 148.9Z" fill="#826403" stroke="#826403" stroke-width=".6"/>
<path d="M634.3 141.9 L637.3 139.9 L633.7 138.5 L630.7 140.4Z" fill="#6d3504" stroke="#6d3504" stroke-width=".6"/>
<path d="M640.9 141.3 L643.8 139.4 L640.2 138 L637.3 139.9Z" fill="#6c3304" stroke="#6c3304" stroke-width=".6"/>
<path d="M647.5 140.9 L650.4 139 L646.8 137.6 L643.8 139.4Z" fill="#6c3104" stroke="#6c3104" stroke-width=".6"/>
<path d="M502.9 164.9 L506.4 161.5 L503.4 159.8 L499.9 163.2Z" fill="#8c9500" stroke="#8c9500" stroke-width=".6"/>
<path d="M509.4 163.2 L512.9 159.9 L509.9 158.2 L506.4 161.5Z" fill="#8b9100" stroke="#8b9100" stroke-width=".6"/>
<path d="M516 161.6 L519.4 158.3 L516.4 156.6 L512.9 159.9Z" fill="#8b8c00" stroke="#8b8c00" stroke-width=".6"/>
<path d="M522.5 160 L526 156.8 L522.9 155.1 L519.4 158.3Z" fill="#8a8900" stroke="#8a8900" stroke-width=".6"/>
<path d="M529.1 158.5 L532.5 155.3 L529.4 153.7 L526 156.8Z" fill="#898400" stroke="#898400" stroke-width=".6"/>
<path d="M535.6 157 L539 153.9 L535.9 152.3 L532.5 155.3Z" fill="#887f00" stroke="#887f00" stroke-width=".6"/>
<path d="M542.2 155.6 L545.6 152.6 L542.4 151 L539 153.9Z" fill="#877a00" stroke="#877a00" stroke-width=".6"/>
<path d="M548.8 154.2 L552.1 151.3 L548.9 149.7 L545.6 152.6Z" fill="#857500" stroke="#857500" stroke-width=".6"/>
<path d="M555.3 152.9 L558.6 150.1 L555.4 148.5 L552.1 151.3Z" fill="#846f01" stroke="#846f01" stroke-width=".6"/>
<path d="M575.1 149.3 L578.3 146.7 L575 145.2 L571.7 147.8Z" fill="#815f03" stroke="#815f03" stroke-width=".6"/>
<path d="M581.6 148.3 L584.8 145.7 L581.5 144.2 L578.3 146.7Z" fill="#7e5904" stroke="#7e5904" stroke-width=".6"/>
<path d="M588.2 147.3 L591.4 144.8 L588 143.3 L584.8 145.7Z" fill="#7c5404" stroke="#7c5404" stroke-width=".6"/>
<path d="M594.8 146.3 L598 143.9 L594.6 142.4 L591.4 144.8Z" fill="#7a4e05" stroke="#7a4e05" stroke-width=".6"/>
<path d="M601.4 145.4 L604.5 143.1 L601.1 141.6 L598 143.9Z" fill="#774805" stroke="#774805" stroke-width=".6"/>
<path d="M608 144.6 L611.1 142.3 L607.6 140.9 L604.5 143.1Z" fill="#744204" stroke="#744204" stroke-width=".6"/>
<path d="M614.6 143.8 L617.6 141.6 L614.1 140.2 L611.1 142.3Z" fill="#713d04" stroke="#713d04" stroke-width=".6"/>
<path d="M621.1 143.1 L624.2 141 L620.7 139.5 L617.6 141.6Z" fill="#703a04" stroke="#703a04" stroke-width=".6"/>
<path d="M627.7 142.5 L630.7 140.4 L627.2 139 L624.2 141Z" fill="#6f3704" stroke="#6f3704" stroke-width=".6"/>
<path d="M486.2 172.2 L489.8 168.5 L486.9 166.8 L483.3 170.4Z" fill="#6e9600" stroke="#6e9600" stroke-width=".6"/>
<path d="M492.8 170.3 L496.3 166.7 L493.4 165 L489.8 168.5Z" fill="#7a9600" stroke="#7a9600" stroke-width=".6"/>
<path d="M525.6 161.7 L529.1 158.5 L526 156.8 L522.5 160Z" fill="#8a8900" stroke="#8a8900" stroke-width=".6"/>
<path d="M532.2 160.1 L535.6 157 L532.5 155.3 L529.1 158.5Z" fill="#898400" stroke="#898400" stroke-width=".6"/>
<path d="M538.8 158.6 L542.2 155.6 L539 153.9 L535.6 157Z" fill="#888000" stroke="#888000" stroke-width=".6"/>
<path d="M545.4 157.2 L548.8 154.2 L545.6 152.6 L542.2 155.6Z" fill="#877b00" stroke="#877b00" stroke-width=".6"/>
<path d="M552 155.8 L555.3 152.9 L552.1 151.3 L548.8 154.2Z" fill="#867600" stroke="#867600" stroke-width=".6"/>
<path d="M558.6 154.5 L561.9 151.6 L558.6 150.1 L555.3 152.9Z" fill="#857000" stroke="#857000" stroke-width=".6"/>
<path d="M565.2 153.2 L568.5 150.5 L565.2 148.9 L561.9 151.6Z" fill="#846b01" stroke="#846b01" stroke-width=".6"/>
<path d="M571.8 152 L575.1 149.3 L571.7 147.8 L568.5 150.5Z" fill="#836502" stroke="#836502" stroke-width=".6"/>
<path d="M578.4 150.9 L581.6 148.3 L578.3 146.7 L575.1 149.3Z" fill="#816003" stroke="#816003" stroke-width=".6"/>
<path d="M585 149.8 L588.2 147.3 L584.8 145.7 L581.6 148.3Z" fill="#7f5a04" stroke="#7f5a04" stroke-width=".6"/>
<path d="M591.6 148.8 L594.8 146.3 L591.4 144.8 L588.2 147.3Z" fill="#7d5404" stroke="#7d5404" stroke-width=".6"/>
<path d="M598.2 147.8 L601.4 145.4 L598 143.9 L594.8 146.3Z" fill="#7a4f05" stroke="#7a4f05" stroke-width=".6"/>
<path d="M604.8 146.9 L608 144.6 L604.5 143.1 L601.4 145.4Z" fill="#784905" stroke="#784905" stroke-width=".6"/>
<path d="M637.9 143.3 L640.9 141.3 L637.3 139.9 L634.3 141.9Z" fill="#6d3504" stroke="#6d3504" stroke-width=".6"/>
<path d="M644.5 142.8 L647.5 140.9 L643.8 139.4 L640.9 141.3Z" fill="#6c3304" stroke="#6c3304" stroke-width=".6"/>
<path d="M499.3 168.5 L502.9 164.9 L499.9 163.2 L496.3 166.7Z" fill="#859700" stroke="#859700" stroke-width=".6"/>
<path d="M505.9 166.7 L509.4 163.2 L506.4 161.5 L502.9 164.9Z" fill="#8c9500" stroke="#8c9500" stroke-width=".6"/>
<path d="M512.5 165 L516 161.6 L512.9 159.9 L509.4 163.2Z" fill="#8b9100" stroke="#8b9100" stroke-width=".6"/>
<path d="M519 163.3 L522.5 160 L519.4 158.3 L516 161.6Z" fill="#8b8d00" stroke="#8b8d00" stroke-width=".6"/>
<path d="M611.5 146.1 L614.6 143.8 L611.1 142.3 L608 144.6Z" fill="#754304" stroke="#754304" stroke-width=".6"/>
<path d="M618.1 145.3 L621.1 143.1 L617.6 141.6 L614.6 143.8Z" fill="#723d04" stroke="#723d04" stroke-width=".6"/>
<path d="M624.7 144.6 L627.7 142.5 L624.2 141 L621.1 143.1Z" fill="#703a04" stroke="#703a04" stroke-width=".6"/>
<path d="M631.3 143.9 L634.3 141.9 L630.7 140.4 L627.7 142.5Z" fill="#6f3704" stroke="#6f3704" stroke-width=".6"/>
<path d="M489.2 174 L492.8 170.3 L489.8 168.5 L486.2 172.2Z" fill="#6d9600" stroke="#6d9600" stroke-width=".6"/>
<path d="M641.5 144.8 L644.5 142.8 L640.9 141.3 L637.9 143.3Z" fill="#6e3504" stroke="#6e3504" stroke-width=".6"/>
<path d="M495.8 172.1 L499.3 168.5 L496.3 166.7 L492.8 170.3Z" fill="#789600" stroke="#789600" stroke-width=".6"/>
<path d="M502.4 170.2 L505.9 166.7 L502.9 164.9 L499.3 168.5Z" fill="#839700" stroke="#839700" stroke-width=".6"/>
<path d="M508.9 168.4 L512.5 165 L509.4 163.2 L505.9 166.7Z" fill="#8c9600" stroke="#8c9600" stroke-width=".6"/>
<path d="M515.5 166.7 L519 163.3 L516 161.6 L512.5 165Z" fill="#8b9200" stroke="#8b9200" stroke-width=".6"/>
<path d="M522.1 165 L525.6 161.7 L522.5 160 L519 163.3Z" fill="#8b8e00" stroke="#8b8e00" stroke-width=".6"/>
<path d="M528.8 163.4 L532.2 160.1 L529.1 158.5 L525.6 161.7Z" fill="#8a8a00" stroke="#8a8a00" stroke-width=".6"/>
<path d="M535.4 161.8 L538.8 158.6 L535.6 157 L532.2 160.1Z" fill="#898500" stroke="#898500" stroke-width=".6"/>
<path d="M542 160.3 L545.4 157.2 L542.2 155.6 L538.8 158.6Z" fill="#888000" stroke="#888000" stroke-width=".6"/>
<path d="M548.6 158.8 L552 155.8 L548.8 154.2 L545.4 157.2Z" fill="#877b00" stroke="#877b00" stroke-width=".6"/>
<path d="M555.2 157.5 L558.6 154.5 L555.3 152.9 L552 155.8Z" fill="#867600" stroke="#867600" stroke-width=".6"/>
<path d="M561.9 156.1 L565.2 153.2 L561.9 151.6 L558.6 154.5Z" fill="#857100" stroke="#857100" stroke-width=".6"/>
<path d="M568.5 154.8 L571.8 152 L568.5 150.5 L565.2 153.2Z" fill="#846b01" stroke="#846b01" stroke-width=".6"/>
<path d="M575.1 153.6 L578.4 150.9 L575.1 149.3 L571.8 152Z" fill="#836602" stroke="#836602" stroke-width=".6"/>
<path d="M581.8 152.5 L585 149.8 L581.6 148.3 L578.4 150.9Z" fill="#816003" stroke="#816003" stroke-width=".6"/>
<path d="M588.4 151.4 L591.6 148.8 L588.2 147.3 L585 149.8Z" fill="#7f5a04" stroke="#7f5a04" stroke-width=".6"/>
<path d="M595 150.4 L598.2 147.8 L594.8 146.3 L591.6 148.8Z" fill="#7d5504" stroke="#7d5504" stroke-width=".6"/>
<path d="M601.7 149.4 L604.8 146.9 L601.4 145.4 L598.2 147.8Z" fill="#7b5005" stroke="#7b5005" stroke-width=".6"/>
<path d="M608.3 148.5 L611.5 146.1 L608 144.6 L604.8 146.9Z" fill="#784a05" stroke="#784a05" stroke-width=".6"/>
<path d="M615 147.6 L618.1 145.3 L614.6 143.8 L611.5 146.1Z" fill="#754404" stroke="#754404" stroke-width=".6"/>
<path d="M621.6 146.8 L624.7 144.6 L621.1 143.1 L618.1 145.3Z" fill="#723e04" stroke="#723e04" stroke-width=".6"/>
<path d="M628.3 146.1 L631.3 143.9 L627.7 142.5 L624.7 144.6Z" fill="#703a04" stroke="#703a04" stroke-width=".6"/>
<path d="M634.9 145.4 L637.9 143.3 L634.3 141.9 L631.3 143.9Z" fill="#6f3804" stroke="#6f3804" stroke-width=".6"/>
<path d="M531.9 165.1 L535.4 161.8 L532.2 160.1 L528.8 163.4Z" fill="#8a8a00" stroke="#8a8a00" stroke-width=".6"/>
<path d="M538.6 163.5 L542 160.3 L538.8 158.6 L535.4 161.8Z" fill="#898600" stroke="#898600" stroke-width=".6"/>
<path d="M545.2 162 L548.6 158.8 L545.4 157.2 L542 160.3Z" fill="#888100" stroke="#888100" stroke-width=".6"/>
<path d="M551.9 160.5 L555.2 157.5 L552 155.8 L548.6 158.8Z" fill="#877c00" stroke="#877c00" stroke-width=".6"/>
<path d="M558.5 159.1 L561.9 156.1 L558.6 154.5 L555.2 157.5Z" fill="#867700" stroke="#867700" stroke-width=".6"/>
<path d="M571.8 156.5 L575.1 153.6 L571.8 152 L568.5 154.8Z" fill="#846c01" stroke="#846c01" stroke-width=".6"/>
<path d="M578.5 155.2 L581.8 152.5 L578.4 150.9 L575.1 153.6Z" fill="#836702" stroke="#836702" stroke-width=".6"/>
<path d="M585.2 154.1 L588.4 151.4 L585 149.8 L581.8 152.5Z" fill="#826103" stroke="#826103" stroke-width=".6"/>
<path d="M591.8 153 L595 150.4 L591.6 148.8 L588.4 151.4Z" fill="#7f5b04" stroke="#7f5b04" stroke-width=".6"/>
<path d="M598.5 151.9 L601.7 149.4 L598.2 147.8 L595 150.4Z" fill="#7d5604" stroke="#7d5604" stroke-width=".6"/>
<path d="M492.2 175.8 L495.8 172.1 L492.8 170.3 L489.2 174Z" fill="#6c9600" stroke="#6c9600" stroke-width=".6"/>
<path d="M498.8 173.9 L502.4 170.2 L499.3 168.5 L495.8 172.1Z" fill="#769600" stroke="#769600" stroke-width=".6"/>
<path d="M505.4 172 L508.9 168.4 L505.9 166.7 L502.4 170.2Z" fill="#829700" stroke="#829700" stroke-width=".6"/>
<path d="M512 170.2 L515.5 166.7 L512.5 165 L508.9 168.4Z" fill="#8c9700" stroke="#8c9700" stroke-width=".6"/>
<path d="M518.6 168.4 L522.1 165 L519 163.3 L515.5 166.7Z" fill="#8b9200" stroke="#8b9200" stroke-width=".6"/>
<path d="M525.3 166.7 L528.8 163.4 L525.6 161.7 L522.1 165Z" fill="#8b8e00" stroke="#8b8e00" stroke-width=".6"/>
<path d="M565.2 157.7 L568.5 154.8 L565.2 153.2 L561.9 156.1Z" fill="#857200" stroke="#857200" stroke-width=".6"/>
<path d="M605.2 150.9 L608.3 148.5 L604.8 146.9 L601.7 149.4Z" fill="#7b5005" stroke="#7b5005" stroke-width=".6"/>
<path d="M611.8 150 L615 147.6 L611.5 146.1 L608.3 148.5Z" fill="#784b05" stroke="#784b05" stroke-width=".6"/>
<path d="M618.5 149.1 L621.6 146.8 L618.1 145.3 L615 147.6Z" fill="#754404" stroke="#754404" stroke-width=".6"/>
<path d="M625.2 148.3 L628.3 146.1 L624.7 144.6 L621.6 146.8Z" fill="#723f04" stroke="#723f04" stroke-width=".6"/>
<path d="M631.9 147.6 L634.9 145.4 L631.3 143.9 L628.3 146.1Z" fill="#703b04" stroke="#703b04" stroke-width=".6"/>
<path d="M638.5 146.9 L641.5 144.8 L637.9 143.3 L634.9 145.4Z" fill="#6f3804" stroke="#6f3804" stroke-width=".6"/>
<path d="M495.2 177.6 L498.8 173.9 L495.8 172.1 L492.2 175.8Z" fill="#6a9700" stroke="#6a9700" stroke-width=".6"/>
<path d="M501.8 175.6 L505.4 172 L502.4 170.2 L498.8 173.9Z" fill="#759600" stroke="#759600" stroke-width=".6"/>
<path d="M508.5 173.8 L512 170.2 L508.9 168.4 L505.4 172Z" fill="#809700" stroke="#809700" stroke-width=".6"/>
<path d="M515.1 171.9 L518.6 168.4 L515.5 166.7 L512 170.2Z" fill="#8c9700" stroke="#8c9700" stroke-width=".6"/>
<path d="M521.8 170.1 L525.3 166.7 L522.1 165 L518.6 168.4Z" fill="#8b9300" stroke="#8b9300" stroke-width=".6"/>
<path d="M528.4 168.4 L531.9 165.1 L528.8 163.4 L525.3 166.7Z" fill="#8b8f00" stroke="#8b8f00" stroke-width=".6"/>
<path d="M535.1 166.8 L538.6 163.5 L535.4 161.8 L531.9 165.1Z" fill="#8a8b00" stroke="#8a8b00" stroke-width=".6"/>
<path d="M541.8 165.2 L545.2 162 L542 160.3 L538.6 163.5Z" fill="#8a8600" stroke="#8a8600" stroke-width=".6"/>
<path d="M548.5 163.6 L551.9 160.5 L548.6 158.8 L545.2 162Z" fill="#888100" stroke="#888100" stroke-width=".6"/>
<path d="M555.1 162.2 L558.5 159.1 L555.2 157.5 L551.9 160.5Z" fill="#877d00" stroke="#877d00" stroke-width=".6"/>
<path d="M561.8 160.7 L565.2 157.7 L561.9 156.1 L558.5 159.1Z" fill="#867800" stroke="#867800" stroke-width=".6"/>
<path d="M568.5 159.4 L571.8 156.5 L568.5 154.8 L565.2 157.7Z" fill="#857300" stroke="#857300" stroke-width=".6"/>
<path d="M575.2 158.1 L578.5 155.2 L575.1 153.6 L571.8 156.5Z" fill="#846d01" stroke="#846d01" stroke-width=".6"/>
<path d="M581.9 156.8 L585.2 154.1 L581.8 152.5 L578.5 155.2Z" fill="#836702" stroke="#836702" stroke-width=".6"/>
<path d="M588.6 155.6 L591.8 153 L588.4 151.4 L585.2 154.1Z" fill="#826203" stroke="#826203" stroke-width=".6"/>
<path d="M595.3 154.5 L598.5 151.9 L595 150.4 L591.8 153Z" fill="#805c04" stroke="#805c04" stroke-width=".6"/>
<path d="M602 153.5 L605.2 150.9 L601.7 149.4 L598.5 151.9Z" fill="#7d5604" stroke="#7d5604" stroke-width=".6"/>
<path d="M608.7 152.5 L611.8 150 L608.3 148.5 L605.2 150.9Z" fill="#7b5105" stroke="#7b5105" stroke-width=".6"/>
<path d="M615.4 151.5 L618.5 149.1 L615 147.6 L611.8 150Z" fill="#794b05" stroke="#794b05" stroke-width=".6"/>
<path d="M622.1 150.6 L625.2 148.3 L621.6 146.8 L618.5 149.1Z" fill="#764505" stroke="#764505" stroke-width=".6"/>
<path d="M628.8 149.8 L631.9 147.6 L628.3 146.1 L625.2 148.3Z" fill="#733f04" stroke="#733f04" stroke-width=".6"/>
<path d="M635.5 149.1 L638.5 146.9 L634.9 145.4 L631.9 147.6Z" fill="#703b04" stroke="#703b04" stroke-width=".6"/>
<path d="M538.3 168.5 L541.8 165.2 L538.6 163.5 L535.1 166.8Z" fill="#8a8b00" stroke="#8a8b00" stroke-width=".6"/>
<path d="M545 166.9 L548.5 163.6 L545.2 162 L541.8 165.2Z" fill="#8a8700" stroke="#8a8700" stroke-width=".6"/>
<path d="M551.7 165.3 L555.1 162.2 L551.9 160.5 L548.5 163.6Z" fill="#898200" stroke="#898200" stroke-width=".6"/>
<path d="M578.6 159.7 L581.9 156.8 L578.5 155.2 L575.2 158.1Z" fill="#846d01" stroke="#846d01" stroke-width=".6"/>
<path d="M585.3 158.4 L588.6 155.6 L585.2 154.1 L581.9 156.8Z" fill="#836802" stroke="#836802" stroke-width=".6"/>
<path d="M592.1 157.2 L595.3 154.5 L591.8 153 L588.6 155.6Z" fill="#826203" stroke="#826203" stroke-width=".6"/>
<path d="M498.2 179.4 L501.8 175.6 L498.8 173.9 L495.2 177.6Z" fill="#699700" stroke="#699700" stroke-width=".6"/>
<path d="M504.9 177.4 L508.5 173.8 L505.4 172 L501.8 175.6Z" fill="#739600" stroke="#739600" stroke-width=".6"/>
<path d="M511.6 175.5 L515.1 171.9 L512 170.2 L508.5 173.8Z" fill="#7f9700" stroke="#7f9700" stroke-width=".6"/>
<path d="M518.2 173.7 L521.8 170.1 L518.6 168.4 L515.1 171.9Z" fill="#8a9700" stroke="#8a9700" stroke-width=".6"/>
<path d="M524.9 171.9 L528.4 168.4 L525.3 166.7 L521.8 170.1Z" fill="#8c9300" stroke="#8c9300" stroke-width=".6"/>
<path d="M531.6 170.2 L535.1 166.8 L531.9 165.1 L528.4 168.4Z" fill="#8b8f00" stroke="#8b8f00" stroke-width=".6"/>
<path d="M558.4 163.8 L561.8 160.7 L558.5 159.1 L555.1 162.2Z" fill="#877d00" stroke="#877d00" stroke-width=".6"/>
<path d="M565.2 162.4 L568.5 159.4 L565.2 157.7 L561.8 160.7Z" fill="#867800" stroke="#867800" stroke-width=".6"/>
<path d="M571.9 161 L575.2 158.1 L571.8 156.5 L568.5 159.4Z" fill="#857300" stroke="#857300" stroke-width=".6"/>
<path d="M598.8 156.1 L602 153.5 L598.5 151.9 L595.3 154.5Z" fill="#805c04" stroke="#805c04" stroke-width=".6"/>
<path d="M605.5 155 L608.7 152.5 L605.2 150.9 L602 153.5Z" fill="#7e5704" stroke="#7e5704" stroke-width=".6"/>
<path d="M612.2 154 L615.4 151.5 L611.8 150 L608.7 152.5Z" fill="#7b5105" stroke="#7b5105" stroke-width=".6"/>
<path d="M619 153.1 L622.1 150.6 L618.5 149.1 L615.4 151.5Z" fill="#794c05" stroke="#794c05" stroke-width=".6"/>
<path d="M625.7 152.2 L628.8 149.8 L625.2 148.3 L622.1 150.6Z" fill="#764605" stroke="#764605" stroke-width=".6"/>
<path d="M632.4 151.3 L635.5 149.1 L631.9 147.6 L628.8 149.8Z" fill="#734004" stroke="#734004" stroke-width=".6"/>
<path d="M501.3 181.2 L504.9 177.4 L501.8 175.6 L498.2 179.4Z" fill="#689700" stroke="#689700" stroke-width=".6"/>
<path d="M508 179.2 L511.6 175.5 L508.5 173.8 L504.9 177.4Z" fill="#729600" stroke="#729600" stroke-width=".6"/>
<path d="M514.7 177.3 L518.2 173.7 L515.1 171.9 L511.6 175.5Z" fill="#7e9700" stroke="#7e9700" stroke-width=".6"/>
<path d="M521.4 175.4 L524.9 171.9 L521.8 170.1 L518.2 173.7Z" fill="#899700" stroke="#899700" stroke-width=".6"/>
<path d="M528.1 173.6 L531.6 170.2 L528.4 168.4 L524.9 171.9Z" fill="#8c9400" stroke="#8c9400" stroke-width=".6"/>
<path d="M534.8 171.9 L538.3 168.5 L535.1 166.8 L531.6 170.2Z" fill="#8b9000" stroke="#8b9000" stroke-width=".6"/>
<path d="M541.6 170.2 L545 166.9 L541.8 165.2 L538.3 168.5Z" fill="#8a8c00" stroke="#8a8c00" stroke-width=".6"/>
<path d="M548.3 168.6 L551.7 165.3 L548.5 163.6 L545 166.9Z" fill="#8a8800" stroke="#8a8800" stroke-width=".6"/>
<path d="M555 167 L558.4 163.8 L555.1 162.2 L551.7 165.3Z" fill="#898300" stroke="#898300" stroke-width=".6"/>
<path d="M561.8 165.5 L565.2 162.4 L561.8 160.7 L558.4 163.8Z" fill="#877e00" stroke="#877e00" stroke-width=".6"/>
<path d="M568.5 164 L571.9 161 L568.5 159.4 L565.2 162.4Z" fill="#867900" stroke="#867900" stroke-width=".6"/>
<path d="M575.3 162.7 L578.6 159.7 L575.2 158.1 L571.9 161Z" fill="#857400" stroke="#857400" stroke-width=".6"/>
<path d="M582 161.3 L585.3 158.4 L581.9 156.8 L578.6 159.7Z" fill="#846e01" stroke="#846e01" stroke-width=".6"/>
<path d="M588.8 160 L592.1 157.2 L588.6 155.6 L585.3 158.4Z" fill="#836802" stroke="#836802" stroke-width=".6"/>
<path d="M595.5 158.8 L598.8 156.1 L595.3 154.5 L592.1 157.2Z" fill="#826303" stroke="#826303" stroke-width=".6"/>
<path d="M602.3 157.7 L605.5 155 L602 153.5 L598.8 156.1Z" fill="#805d03" stroke="#805d03" stroke-width=".6"/>
<path d="M609.1 156.6 L612.2 154 L608.7 152.5 L605.5 155Z" fill="#7e5704" stroke="#7e5704" stroke-width=".6"/>
<path d="M615.8 155.6 L619 153.1 L615.4 151.5 L612.2 154Z" fill="#7c5205" stroke="#7c5205" stroke-width=".6"/>
<path d="M622.6 154.6 L625.7 152.2 L622.1 150.6 L619 153.1Z" fill="#794d05" stroke="#794d05" stroke-width=".6"/>
<path d="M629.4 153.7 L632.4 151.3 L628.8 149.8 L625.7 152.2Z" fill="#764605" stroke="#764605" stroke-width=".6"/>
<path d="M544.8 171.9 L548.3 168.6 L545 166.9 L541.6 170.2Z" fill="#8b8c00" stroke="#8b8c00" stroke-width=".6"/>
<path d="M585.5 163 L588.8 160 L585.3 158.4 L582 161.3Z" fill="#846f01" stroke="#846f01" stroke-width=".6"/>
<path d="M504.4 183 L508 179.2 L504.9 177.4 L501.3 181.2Z" fill="#679700" stroke="#679700" stroke-width=".6"/>
<path d="M511.1 181 L514.7 177.3 L511.6 175.5 L508 179.2Z" fill="#709600" stroke="#709600" stroke-width=".6"/>
<path d="M517.8 179.1 L521.4 175.4 L518.2 173.7 L514.7 177.3Z" fill="#7c9600" stroke="#7c9600" stroke-width=".6"/>
<path d="M524.6 177.2 L528.1 173.6 L524.9 171.9 L521.4 175.4Z" fill="#889700" stroke="#889700" stroke-width=".6"/>
<path d="M531.3 175.4 L534.8 171.9 L531.6 170.2 L528.1 173.6Z" fill="#8c9400" stroke="#8c9400" stroke-width=".6"/>
<path d="M538.1 173.6 L541.6 170.2 L538.3 168.5 L534.8 171.9Z" fill="#8b9000" stroke="#8b9000" stroke-width=".6"/>
<path d="M551.6 170.3 L555 167 L551.7 165.3 L548.3 168.6Z" fill="#8a8800" stroke="#8a8800" stroke-width=".6"/>
<path d="M558.4 168.7 L561.8 165.5 L558.4 163.8 L555 167Z" fill="#898300" stroke="#898300" stroke-width=".6"/>
<path d="M565.2 167.2 L568.5 164 L565.2 162.4 L561.8 165.5Z" fill="#887e00" stroke="#887e00" stroke-width=".6"/>
<path d="M571.9 165.7 L575.3 162.7 L571.9 161 L568.5 164Z" fill="#867900" stroke="#867900" stroke-width=".6"/>
<path d="M578.7 164.3 L582 161.3 L578.6 159.7 L575.3 162.7Z" fill="#857400" stroke="#857400" stroke-width=".6"/>
<path d="M592.3 161.7 L595.5 158.8 L592.1 157.2 L588.8 160Z" fill="#836902" stroke="#836902" stroke-width=".6"/>
<path d="M599.1 160.4 L602.3 157.7 L598.8 156.1 L595.5 158.8Z" fill="#826303" stroke="#826303" stroke-width=".6"/>
<path d="M605.9 159.3 L609.1 156.6 L605.5 155 L602.3 157.7Z" fill="#805e03" stroke="#805e03" stroke-width=".6"/>
<path d="M612.7 158.2 L615.8 155.6 L612.2 154 L609.1 156.6Z" fill="#7e5804" stroke="#7e5804" stroke-width=".6"/>
<path d="M619.4 157.1 L622.6 154.6 L619 153.1 L615.8 155.6Z" fill="#7c5205" stroke="#7c5205" stroke-width=".6"/>
<path d="M626.2 156.1 L629.4 153.7 L625.7 152.2 L622.6 154.6Z" fill="#7a4d05" stroke="#7a4d05" stroke-width=".6"/>
<path d="M507.5 184.9 L511.1 181 L508 179.2 L504.4 183Z" fill="#669700" stroke="#669700" stroke-width=".6"/>
<path d="M514.2 182.9 L517.8 179.1 L514.7 177.3 L511.1 181Z" fill="#6f9600" stroke="#6f9600" stroke-width=".6"/>
<path d="M521 180.9 L524.6 177.2 L521.4 175.4 L517.8 179.1Z" fill="#7b9600" stroke="#7b9600" stroke-width=".6"/>
<path d="M527.8 179 L531.3 175.4 L528.1 173.6 L524.6 177.2Z" fill="#869700" stroke="#869700" stroke-width=".6"/>
<path d="M534.6 177.2 L538.1 173.6 L534.8 171.9 L531.3 175.4Z" fill="#8c9500" stroke="#8c9500" stroke-width=".6"/>
<path d="M541.4 175.4 L544.8 171.9 L541.6 170.2 L538.1 173.6Z" fill="#8b9100" stroke="#8b9100" stroke-width=".6"/>
<path d="M548.1 173.7 L551.6 170.3 L548.3 168.6 L544.8 171.9Z" fill="#8b8d00" stroke="#8b8d00" stroke-width=".6"/>
<path d="M554.9 172 L558.4 168.7 L555 167 L551.6 170.3Z" fill="#8a8900" stroke="#8a8900" stroke-width=".6"/>
<path d="M561.7 170.4 L565.2 167.2 L561.8 165.5 L558.4 168.7Z" fill="#898400" stroke="#898400" stroke-width=".6"/>
<path d="M568.5 168.9 L571.9 165.7 L568.5 164 L565.2 167.2Z" fill="#887f00" stroke="#887f00" stroke-width=".6"/>
<path d="M575.4 167.4 L578.7 164.3 L575.3 162.7 L571.9 165.7Z" fill="#877a00" stroke="#877a00" stroke-width=".6"/>
<path d="M582.2 166 L585.5 163 L582 161.3 L578.7 164.3Z" fill="#857500" stroke="#857500" stroke-width=".6"/>
<path d="M589 164.6 L592.3 161.7 L588.8 160 L585.5 163Z" fill="#846f01" stroke="#846f01" stroke-width=".6"/>
<path d="M595.8 163.3 L599.1 160.4 L595.5 158.8 L592.3 161.7Z" fill="#836902" stroke="#836902" stroke-width=".6"/>
<path d="M602.6 162.1 L605.9 159.3 L602.3 157.7 L599.1 160.4Z" fill="#826403" stroke="#826403" stroke-width=".6"/>
<path d="M609.4 160.9 L612.7 158.2 L609.1 156.6 L605.9 159.3Z" fill="#805e03" stroke="#805e03" stroke-width=".6"/>
<path d="M616.3 159.8 L619.4 157.1 L615.8 155.6 L612.7 158.2Z" fill="#7e5804" stroke="#7e5804" stroke-width=".6"/>
<path d="M623.1 158.7 L626.2 156.1 L622.6 154.6 L619.4 157.1Z" fill="#7c5305" stroke="#7c5305" stroke-width=".6"/>
<path d="M510.6 186.7 L514.2 182.9 L511.1 181 L507.5 184.9Z" fill="#659800" stroke="#659800" stroke-width=".6"/>
<path d="M517.4 184.7 L521 180.9 L517.8 179.1 L514.2 182.9Z" fill="#6e9600" stroke="#6e9600" stroke-width=".6"/>
<path d="M524.2 182.7 L527.8 179 L524.6 177.2 L521 180.9Z" fill="#7a9600" stroke="#7a9600" stroke-width=".6"/>
<path d="M531 180.8 L534.6 177.2 L531.3 175.4 L527.8 179Z" fill="#859700" stroke="#859700" stroke-width=".6"/>
<path d="M537.8 178.9 L541.4 175.4 L538.1 173.6 L534.6 177.2Z" fill="#8c9500" stroke="#8c9500" stroke-width=".6"/>
<path d="M544.7 177.1 L548.1 173.7 L544.8 171.9 L541.4 175.4Z" fill="#8b9100" stroke="#8b9100" stroke-width=".6"/>
<path d="M551.5 175.4 L554.9 172 L551.6 170.3 L548.1 173.7Z" fill="#8b8d00" stroke="#8b8d00" stroke-width=".6"/>
<path d="M558.3 173.7 L561.7 170.4 L558.4 168.7 L554.9 172Z" fill="#8a8900" stroke="#8a8900" stroke-width=".6"/>
<path d="M565.1 172.1 L568.5 168.9 L565.2 167.2 L561.7 170.4Z" fill="#898400" stroke="#898400" stroke-width=".6"/>
<path d="M572 170.5 L575.4 167.4 L571.9 165.7 L568.5 168.9Z" fill="#887f00" stroke="#887f00" stroke-width=".6"/>
<path d="M578.8 169.1 L582.2 166 L578.7 164.3 L575.4 167.4Z" fill="#877a00" stroke="#877a00" stroke-width=".6"/>
<path d="M585.7 167.6 L589 164.6 L585.5 163 L582.2 166Z" fill="#857500" stroke="#857500" stroke-width=".6"/>
<path d="M592.5 166.2 L595.8 163.3 L592.3 161.7 L589 164.6Z" fill="#847001" stroke="#847001" stroke-width=".6"/>
<path d="M599.4 164.9 L602.6 162.1 L599.1 160.4 L595.8 163.3Z" fill="#836a02" stroke="#836a02" stroke-width=".6"/>
<path d="M606.2 163.7 L609.4 160.9 L605.9 159.3 L602.6 162.1Z" fill="#826403" stroke="#826403" stroke-width=".6"/>
<path d="M613.1 162.5 L616.3 159.8 L612.7 158.2 L609.4 160.9Z" fill="#815f03" stroke="#815f03" stroke-width=".6"/>
<path d="M619.9 161.3 L623.1 158.7 L619.4 157.1 L616.3 159.8Z" fill="#7e5904" stroke="#7e5904" stroke-width=".6"/>
<path d="M513.8 188.6 L517.4 184.7 L514.2 182.9 L510.6 186.7Z" fill="#649800" stroke="#649800" stroke-width=".6"/>
<path d="M520.6 186.5 L524.2 182.7 L521 180.9 L517.4 184.7Z" fill="#6d9600" stroke="#6d9600" stroke-width=".6"/>
<path d="M527.5 184.5 L531 180.8 L527.8 179 L524.2 182.7Z" fill="#789600" stroke="#789600" stroke-width=".6"/>
<path d="M534.3 182.6 L537.8 178.9 L534.6 177.2 L531 180.8Z" fill="#849700" stroke="#849700" stroke-width=".6"/>
<path d="M541.1 180.7 L544.7 177.1 L541.4 175.4 L537.8 178.9Z" fill="#8c9600" stroke="#8c9600" stroke-width=".6"/>
<path d="M548 178.9 L551.5 175.4 L548.1 173.7 L544.7 177.1Z" fill="#8b9100" stroke="#8b9100" stroke-width=".6"/>
<path d="M554.8 177.2 L558.3 173.7 L554.9 172 L551.5 175.4Z" fill="#8b8d00" stroke="#8b8d00" stroke-width=".6"/>
<path d="M561.7 175.5 L565.1 172.1 L561.7 170.4 L558.3 173.7Z" fill="#8a8900" stroke="#8a8900" stroke-width=".6"/>
<path d="M568.6 173.8 L572 170.5 L568.5 168.9 L565.1 172.1Z" fill="#898500" stroke="#898500" stroke-width=".6"/>
<path d="M575.4 172.2 L578.8 169.1 L575.4 167.4 L572 170.5Z" fill="#888000" stroke="#888000" stroke-width=".6"/>
<path d="M582.3 170.7 L585.7 167.6 L582.2 166 L578.8 169.1Z" fill="#877b00" stroke="#877b00" stroke-width=".6"/>
<path d="M589.2 169.3 L592.5 166.2 L589 164.6 L585.7 167.6Z" fill="#867600" stroke="#867600" stroke-width=".6"/>
<path d="M596.1 167.9 L599.4 164.9 L595.8 163.3 L592.5 166.2Z" fill="#857000" stroke="#857000" stroke-width=".6"/>
<path d="M602.9 166.6 L606.2 163.7 L602.6 162.1 L599.4 164.9Z" fill="#836a02" stroke="#836a02" stroke-width=".6"/>
<path d="M609.8 165.3 L613.1 162.5 L609.4 160.9 L606.2 163.7Z" fill="#826503" stroke="#826503" stroke-width=".6"/>
<path d="M616.7 164.1 L619.9 161.3 L616.3 159.8 L613.1 162.5Z" fill="#815f03" stroke="#815f03" stroke-width=".6"/>
<path d="M517 190.4 L520.6 186.5 L517.4 184.7 L513.8 188.6Z" fill="#639800" stroke="#639800" stroke-width=".6"/>
<path d="M523.9 188.4 L527.5 184.5 L524.2 182.7 L520.6 186.5Z" fill="#6c9600" stroke="#6c9600" stroke-width=".6"/>
<path d="M530.7 186.4 L534.3 182.6 L531 180.8 L527.5 184.5Z" fill="#779600" stroke="#779600" stroke-width=".6"/>
<path d="M537.6 184.4 L541.1 180.7 L537.8 178.9 L534.3 182.6Z" fill="#839700" stroke="#839700" stroke-width=".6"/>
<path d="M544.5 182.5 L548 178.9 L544.7 177.1 L541.1 180.7Z" fill="#8c9600" stroke="#8c9600" stroke-width=".6"/>
<path d="M551.3 180.7 L554.8 177.2 L551.5 175.4 L548 178.9Z" fill="#8b9200" stroke="#8b9200" stroke-width=".6"/>
<path d="M558.2 178.9 L561.7 175.5 L558.3 173.7 L554.8 177.2Z" fill="#8b8e00" stroke="#8b8e00" stroke-width=".6"/>
<path d="M565.1 177.2 L568.6 173.8 L565.1 172.1 L561.7 175.5Z" fill="#8a8a00" stroke="#8a8a00" stroke-width=".6"/>
<path d="M572 175.5 L575.4 172.2 L572 170.5 L568.6 173.8Z" fill="#898500" stroke="#898500" stroke-width=".6"/>
<path d="M578.9 174 L582.3 170.7 L578.8 169.1 L575.4 172.2Z" fill="#888000" stroke="#888000" stroke-width=".6"/>
<path d="M585.8 172.4 L589.2 169.3 L585.7 167.6 L582.3 170.7Z" fill="#877b00" stroke="#877b00" stroke-width=".6"/>
<path d="M592.7 171 L596.1 167.9 L592.5 166.2 L589.2 169.3Z" fill="#867600" stroke="#867600" stroke-width=".6"/>
<path d="M599.7 169.5 L602.9 166.6 L599.4 164.9 L596.1 167.9Z" fill="#857100" stroke="#857100" stroke-width=".6"/>
<path d="M606.6 168.2 L609.8 165.3 L606.2 163.7 L602.9 166.6Z" fill="#846b01" stroke="#846b01" stroke-width=".6"/>
<path d="M613.5 166.9 L616.7 164.1 L613.1 162.5 L609.8 165.3Z" fill="#836502" stroke="#836502" stroke-width=".6"/>
<path d="M520.2 192.3 L523.9 188.4 L520.6 186.5 L517 190.4Z" fill="#629800" stroke="#629800" stroke-width=".6"/>
<path d="M527.1 190.2 L530.7 186.4 L527.5 184.5 L523.9 188.4Z" fill="#6b9600" stroke="#6b9600" stroke-width=".6"/>
<path d="M540.9 186.2 L544.5 182.5 L541.1 180.7 L537.6 184.4Z" fill="#829700" stroke="#829700" stroke-width=".6"/>
<path d="M547.8 184.3 L551.3 180.7 L548 178.9 L544.5 182.5Z" fill="#8c9700" stroke="#8c9700" stroke-width=".6"/>
<path d="M554.7 182.5 L558.2 178.9 L554.8 177.2 L551.3 180.7Z" fill="#8b9200" stroke="#8b9200" stroke-width=".6"/>
<path d="M561.7 180.7 L565.1 177.2 L561.7 175.5 L558.2 178.9Z" fill="#8b8e00" stroke="#8b8e00" stroke-width=".6"/>
<path d="M568.6 178.9 L572 175.5 L568.6 173.8 L565.1 177.2Z" fill="#8a8a00" stroke="#8a8a00" stroke-width=".6"/>
<path d="M575.5 177.3 L578.9 174 L575.4 172.2 L572 175.5Z" fill="#898500" stroke="#898500" stroke-width=".6"/>
<path d="M582.4 175.7 L585.8 172.4 L582.3 170.7 L578.9 174Z" fill="#888000" stroke="#888000" stroke-width=".6"/>
<path d="M589.4 174.1 L592.7 171 L589.2 169.3 L585.8 172.4Z" fill="#877c00" stroke="#877c00" stroke-width=".6"/>
<path d="M603.3 171.2 L606.6 168.2 L602.9 166.6 L599.7 169.5Z" fill="#857100" stroke="#857100" stroke-width=".6"/>
<path d="M610.2 169.9 L613.5 166.9 L609.8 165.3 L606.6 168.2Z" fill="#846b01" stroke="#846b01" stroke-width=".6"/>
<path d="M534 188.2 L537.6 184.4 L534.3 182.6 L530.7 186.4Z" fill="#769600" stroke="#769600" stroke-width=".6"/>
<path d="M596.3 172.6 L599.7 169.5 L596.1 167.9 L592.7 171Z" fill="#867600" stroke="#867600" stroke-width=".6"/>
<path d="M523.5 194.2 L527.1 190.2 L523.9 188.4 L520.2 192.3Z" fill="#619800" stroke="#619800" stroke-width=".6"/>
<path d="M544.3 188 L547.8 184.3 L544.5 182.5 L540.9 186.2Z" fill="#819700" stroke="#819700" stroke-width=".6"/>
<path d="M551.2 186.1 L554.7 182.5 L551.3 180.7 L547.8 184.3Z" fill="#8c9700" stroke="#8c9700" stroke-width=".6"/>
<path d="M558.2 184.2 L561.7 180.7 L558.2 178.9 L554.7 182.5Z" fill="#8b9300" stroke="#8b9300" stroke-width=".6"/>
<path d="M565.1 182.4 L568.6 178.9 L565.1 177.2 L561.7 180.7Z" fill="#8b8e00" stroke="#8b8e00" stroke-width=".6"/>
<path d="M572.1 180.7 L575.5 177.3 L572 175.5 L568.6 178.9Z" fill="#8a8a00" stroke="#8a8a00" stroke-width=".6"/>
<path d="M579 179 L582.4 175.7 L578.9 174 L575.5 177.3Z" fill="#898600" stroke="#898600" stroke-width=".6"/>
<path d="M586 177.4 L589.4 174.1 L585.8 172.4 L582.4 175.7Z" fill="#888100" stroke="#888100" stroke-width=".6"/>
<path d="M606.9 172.9 L610.2 169.9 L606.6 168.2 L603.3 171.2Z" fill="#857100" stroke="#857100" stroke-width=".6"/>
<path d="M530.4 192.1 L534 188.2 L530.7 186.4 L527.1 190.2Z" fill="#6a9700" stroke="#6a9700" stroke-width=".6"/>
<path d="M537.3 190 L540.9 186.2 L537.6 184.4 L534 188.2Z" fill="#759600" stroke="#759600" stroke-width=".6"/>
<path d="M593 175.8 L596.3 172.6 L592.7 171 L589.4 174.1Z" fill="#877c00" stroke="#877c00" stroke-width=".6"/>
<path d="M599.9 174.3 L603.3 171.2 L599.7 169.5 L596.3 172.6Z" fill="#867700" stroke="#867700" stroke-width=".6"/>
<path d="M547.7 189.9 L551.2 186.1 L547.8 184.3 L544.3 188Z" fill="#809700" stroke="#809700" stroke-width=".6"/>
<path d="M554.6 187.9 L558.2 184.2 L554.7 182.5 L551.2 186.1Z" fill="#8b9700" stroke="#8b9700" stroke-width=".6"/>
<path d="M561.6 186 L565.1 182.4 L561.7 180.7 L558.2 184.2Z" fill="#8b9300" stroke="#8b9300" stroke-width=".6"/>
<path d="M568.6 184.2 L572.1 180.7 L568.6 178.9 L565.1 182.4Z" fill="#8b8f00" stroke="#8b8f00" stroke-width=".6"/>
<path d="M575.6 182.5 L579 179 L575.5 177.3 L572.1 180.7Z" fill="#8a8b00" stroke="#8a8b00" stroke-width=".6"/>
<path d="M582.6 180.8 L586 177.4 L582.4 175.7 L579 179Z" fill="#8a8600" stroke="#8a8600" stroke-width=".6"/>
<path d="M526.8 196.1 L530.4 192.1 L527.1 190.2 L523.5 194.2Z" fill="#619800" stroke="#619800" stroke-width=".6"/>
<path d="M533.7 193.9 L537.3 190 L534 188.2 L530.4 192.1Z" fill="#6a9700" stroke="#6a9700" stroke-width=".6"/>
<path d="M540.7 191.9 L544.3 188 L540.9 186.2 L537.3 190Z" fill="#749600" stroke="#749600" stroke-width=".6"/>
<path d="M589.6 179.1 L593 175.8 L589.4 174.1 L586 177.4Z" fill="#888100" stroke="#888100" stroke-width=".6"/>
<path d="M596.6 177.5 L599.9 174.3 L596.3 172.6 L593 175.8Z" fill="#877c00" stroke="#877c00" stroke-width=".6"/>
<path d="M603.6 176 L606.9 172.9 L603.3 171.2 L599.9 174.3Z" fill="#867700" stroke="#867700" stroke-width=".6"/>
<path d="M551.1 191.7 L554.6 187.9 L551.2 186.1 L547.7 189.9Z" fill="#7f9700" stroke="#7f9700" stroke-width=".6"/>
<path d="M558.1 189.7 L561.6 186 L558.2 184.2 L554.6 187.9Z" fill="#8a9700" stroke="#8a9700" stroke-width=".6"/>
<path d="M572.1 186 L575.6 182.5 L572.1 180.7 L568.6 184.2Z" fill="#8b8f00" stroke="#8b8f00" stroke-width=".6"/>
<path d="M579.1 184.2 L582.6 180.8 L579 179 L575.6 182.5Z" fill="#8a8b00" stroke="#8a8b00" stroke-width=".6"/>
<path d="M530.1 198 L533.7 193.9 L530.4 192.1 L526.8 196.1Z" fill="#609800" stroke="#609800" stroke-width=".6"/>
<path d="M537.1 195.8 L540.7 191.9 L537.3 190 L533.7 193.9Z" fill="#699700" stroke="#699700" stroke-width=".6"/>
<path d="M544.1 193.7 L547.7 189.9 L544.3 188 L540.7 191.9Z" fill="#739600" stroke="#739600" stroke-width=".6"/>
<path d="M565.1 187.8 L568.6 184.2 L565.1 182.4 L561.6 186Z" fill="#8b9300" stroke="#8b9300" stroke-width=".6"/>
<path d="M586.2 182.5 L589.6 179.1 L586 177.4 L582.6 180.8Z" fill="#8a8600" stroke="#8a8600" stroke-width=".6"/>
<path d="M593.2 180.8 L596.6 177.5 L593 175.8 L589.6 179.1Z" fill="#888100" stroke="#888100" stroke-width=".6"/>
<path d="M600.2 179.3 L603.6 176 L599.9 174.3 L596.6 177.5Z" fill="#877c00" stroke="#877c00" stroke-width=".6"/>
<path d="M554.5 193.6 L558.1 189.7 L554.6 187.9 L551.1 191.7Z" fill="#7e9700" stroke="#7e9700" stroke-width=".6"/>
<path d="M575.7 187.8 L579.1 184.2 L575.6 182.5 L572.1 186Z" fill="#8b8f00" stroke="#8b8f00" stroke-width=".6"/>
<path d="M533.4 199.9 L537.1 195.8 L533.7 193.9 L530.1 198Z" fill="#5f9800" stroke="#5f9800" stroke-width=".6"/>
<path d="M540.5 197.7 L544.1 193.7 L540.7 191.9 L537.1 195.8Z" fill="#689700" stroke="#689700" stroke-width=".6"/>
<path d="M547.5 195.6 L551.1 191.7 L547.7 189.9 L544.1 193.7Z" fill="#729600" stroke="#729600" stroke-width=".6"/>
<path d="M561.6 191.6 L565.1 187.8 L561.6 186 L558.1 189.7Z" fill="#8a9700" stroke="#8a9700" stroke-width=".6"/>
<path d="M568.6 189.7 L572.1 186 L568.6 184.2 L565.1 187.8Z" fill="#8c9300" stroke="#8c9300" stroke-width=".6"/>
<path d="M582.7 186 L586.2 182.5 L582.6 180.8 L579.1 184.2Z" fill="#8a8b00" stroke="#8a8b00" stroke-width=".6"/>
<path d="M589.8 184.3 L593.2 180.8 L589.6 179.1 L586.2 182.5Z" fill="#8a8700" stroke="#8a8700" stroke-width=".6"/>
<path d="M596.9 182.6 L600.2 179.3 L596.6 177.5 L593.2 180.8Z" fill="#888200" stroke="#888200" stroke-width=".6"/>
<path d="M536.8 201.8 L540.5 197.7 L537.1 195.8 L533.4 199.9Z" fill="#5e9900" stroke="#5e9900" stroke-width=".6"/>
<path d="M543.9 199.6 L547.5 195.6 L544.1 193.7 L540.5 197.7Z" fill="#689700" stroke="#689700" stroke-width=".6"/>
<path d="M550.9 197.5 L554.5 193.6 L551.1 191.7 L547.5 195.6Z" fill="#719600" stroke="#719600" stroke-width=".6"/>
<path d="M558 195.4 L561.6 191.6 L558.1 189.7 L554.5 193.6Z" fill="#7d9700" stroke="#7d9700" stroke-width=".6"/>
<path d="M565.1 193.4 L568.6 189.7 L565.1 187.8 L561.6 191.6Z" fill="#899700" stroke="#899700" stroke-width=".6"/>
<path d="M572.2 191.5 L575.7 187.8 L572.1 186 L568.6 189.7Z" fill="#8c9400" stroke="#8c9400" stroke-width=".6"/>
<path d="M579.3 189.6 L582.7 186 L579.1 184.2 L575.7 187.8Z" fill="#8b8f00" stroke="#8b8f00" stroke-width=".6"/>
<path d="M586.4 187.8 L589.8 184.3 L586.2 182.5 L582.7 186Z" fill="#8a8b00" stroke="#8a8b00" stroke-width=".6"/>
<path d="M593.5 186 L596.9 182.6 L593.2 180.8 L589.8 184.3Z" fill="#8a8700" stroke="#8a8700" stroke-width=".6"/>
<path d="M540.2 203.7 L543.9 199.6 L540.5 197.7 L536.8 201.8Z" fill="#5e9900" stroke="#5e9900" stroke-width=".6"/>
<path d="M547.3 201.5 L550.9 197.5 L547.5 195.6 L543.9 199.6Z" fill="#679700" stroke="#679700" stroke-width=".6"/>
<path d="M554.4 199.4 L558 195.4 L554.5 193.6 L550.9 197.5Z" fill="#719600" stroke="#719600" stroke-width=".6"/>
<path d="M561.5 197.3 L565.1 193.4 L561.6 191.6 L558 195.4Z" fill="#7d9600" stroke="#7d9600" stroke-width=".6"/>
<path d="M568.6 195.3 L572.2 191.5 L568.6 189.7 L565.1 193.4Z" fill="#889700" stroke="#889700" stroke-width=".6"/>
<path d="M575.8 193.3 L579.3 189.6 L575.7 187.8 L572.2 191.5Z" fill="#8c9400" stroke="#8c9400" stroke-width=".6"/>
<path d="M582.9 191.4 L586.4 187.8 L582.7 186 L579.3 189.6Z" fill="#8b9000" stroke="#8b9000" stroke-width=".6"/>
<path d="M590 189.6 L593.5 186 L589.8 184.3 L586.4 187.8Z" fill="#8a8b00" stroke="#8a8b00" stroke-width=".6"/>
<path d="M543.7 205.6 L547.3 201.5 L543.9 199.6 L540.2 203.7Z" fill="#5d9900" stroke="#5d9900" stroke-width=".6"/>
<path d="M557.9 201.2 L561.5 197.3 L558 195.4 L554.4 199.4Z" fill="#709600" stroke="#709600" stroke-width=".6"/>
<path d="M565.1 199.1 L568.6 195.3 L565.1 193.4 L561.5 197.3Z" fill="#7c9600" stroke="#7c9600" stroke-width=".6"/>
<path d="M572.2 197.1 L575.8 193.3 L572.2 191.5 L568.6 195.3Z" fill="#889700" stroke="#889700" stroke-width=".6"/>
<path d="M586.5 193.2 L590 189.6 L586.4 187.8 L582.9 191.4Z" fill="#8b9000" stroke="#8b9000" stroke-width=".6"/>
<path d="M550.8 203.4 L554.4 199.4 L550.9 197.5 L547.3 201.5Z" fill="#669700" stroke="#669700" stroke-width=".6"/>
<path d="M579.4 195.1 L582.9 191.4 L579.3 189.6 L575.8 193.3Z" fill="#8c9400" stroke="#8c9400" stroke-width=".6"/>
<path d="M561.5 203.1 L565.1 199.1 L561.5 197.3 L557.9 201.2Z" fill="#6f9600" stroke="#6f9600" stroke-width=".6"/>
<path d="M568.7 201 L572.2 197.1 L568.6 195.3 L565.1 199.1Z" fill="#7b9600" stroke="#7b9600" stroke-width=".6"/>
<path d="M547.2 207.6 L550.8 203.4 L547.3 201.5 L543.7 205.6Z" fill="#5d9900" stroke="#5d9900" stroke-width=".6"/>
<path d="M554.3 205.3 L557.9 201.2 L554.4 199.4 L550.8 203.4Z" fill="#669700" stroke="#669700" stroke-width=".6"/>
<path d="M575.8 199 L579.4 195.1 L575.8 193.3 L572.2 197.1Z" fill="#879700" stroke="#879700" stroke-width=".6"/>
<path d="M583 197 L586.5 193.2 L582.9 191.4 L579.4 195.1Z" fill="#8c9400" stroke="#8c9400" stroke-width=".6"/>
<path d="M550.7 209.5 L554.3 205.3 L550.8 203.4 L547.2 207.6Z" fill="#5c9900" stroke="#5c9900" stroke-width=".6"/>
<path d="M557.9 207.3 L561.5 203.1 L557.9 201.2 L554.3 205.3Z" fill="#659700" stroke="#659700" stroke-width=".6"/>
<path d="M565.1 205.1 L568.7 201 L565.1 199.1 L561.5 203.1Z" fill="#6f9600" stroke="#6f9600" stroke-width=".6"/>
<path d="M572.3 202.9 L575.8 199 L572.2 197.1 L568.7 201Z" fill="#7b9600" stroke="#7b9600" stroke-width=".6"/>
<path d="M579.5 200.8 L583 197 L579.4 195.1 L575.8 199Z" fill="#879700" stroke="#879700" stroke-width=".6"/>
<path d="M554.2 211.5 L557.9 207.3 L554.3 205.3 L550.7 209.5Z" fill="#5b9900" stroke="#5b9900" stroke-width=".6"/>
<path d="M561.4 209.2 L565.1 205.1 L561.5 203.1 L557.9 207.3Z" fill="#659800" stroke="#659800" stroke-width=".6"/>
<path d="M568.7 207 L572.3 202.9 L568.7 201 L565.1 205.1Z" fill="#6e9600" stroke="#6e9600" stroke-width=".6"/>
<path d="M575.9 204.8 L579.5 200.8 L575.8 199 L572.3 202.9Z" fill="#7a9600" stroke="#7a9600" stroke-width=".6"/>
<path d="M557.8 213.4 L561.4 209.2 L557.9 207.3 L554.2 211.5Z" fill="#5b9900" stroke="#5b9900" stroke-width=".6"/>
<path d="M565 211.1 L568.7 207 L565.1 205.1 L561.4 209.2Z" fill="#649800" stroke="#649800" stroke-width=".6"/>
<path d="M572.3 208.9 L575.9 204.8 L572.3 202.9 L568.7 207Z" fill="#6e9600" stroke="#6e9600" stroke-width=".6"/>
<path d="M561.4 215.4 L565 211.1 L561.4 209.2 L557.8 213.4Z" fill="#5b9900" stroke="#5b9900" stroke-width=".6"/>
<path d="M568.7 213.1 L572.3 208.9 L568.7 207 L565 211.1Z" fill="#649800" stroke="#649800" stroke-width=".6"/>
<path d="M565 217.4 L568.7 213.1 L565 211.1 L561.4 215.4Z" fill="#5a9900" stroke="#5a9900" stroke-width=".6"/>
<line x1="524.4" y1="93.7" x2="524.4" y2="144.6" class="f"/>
<rect x="505.6" y="82.8" width="18.5" height="10.6" fill="#fff" stroke="#777" stroke-width=".9"/>
<text x="506.7" y="89.6" font-size="7.2" text-anchor="start" fill="#000" stroke="#000" textLength="16.9" lengthAdjust="spacingAndGlyphs">1782.93</text>
<text x="464.4" y="109.1" font-size="10.5" text-anchor="end" fill="#000" stroke="#000" textLength="14" lengthAdjust="spacingAndGlyphs">1900</text>
<text x="464.6" y="134" font-size="10.5" text-anchor="end" fill="#000" stroke="#000" textLength="14" lengthAdjust="spacingAndGlyphs">1800</text>
<text x="466.3" y="158.7" font-size="10.5" text-anchor="end" fill="#000" stroke="#000" textLength="14" lengthAdjust="spacingAndGlyphs">1700</text>
<text x="467" y="183.9" font-size="10.5" text-anchor="end" fill="#000" stroke="#000" textLength="14" lengthAdjust="spacingAndGlyphs">1600</text>
<text x="467.3" y="208.8" font-size="10.5" text-anchor="end" fill="#000" stroke="#000" textLength="14" lengthAdjust="spacingAndGlyphs">1500</text>
<text x="468" y="233.6" font-size="10.5" text-anchor="end" fill="#000" stroke="#000" textLength="14" lengthAdjust="spacingAndGlyphs">1400</text>
<text x="468.4" y="258.4" font-size="10.5" text-anchor="end" fill="#000" stroke="#000" textLength="14" lengthAdjust="spacingAndGlyphs">1300</text>
<text x="459.7" y="318" font-size="10" text-anchor="start" fill="#000" stroke="#000" textLength="10.6" lengthAdjust="spacingAndGlyphs">120</text>
<text x="475.4" y="329.4" font-size="10" text-anchor="start" fill="#000" stroke="#000" textLength="10.1" lengthAdjust="spacingAndGlyphs">110</text>
<text x="490.5" y="340.8" font-size="10" text-anchor="start" fill="#000" stroke="#000" textLength="10.2" lengthAdjust="spacingAndGlyphs">100</text>
<text x="508.7" y="352.1" font-size="10" text-anchor="start" fill="#000" stroke="#000" textLength="7.1" lengthAdjust="spacingAndGlyphs">90</text>
<text x="523.9" y="362.2" font-size="10" text-anchor="start" fill="#000" stroke="#000" textLength="7.1" lengthAdjust="spacingAndGlyphs">80</text>
<text x="539.3" y="374.9" font-size="10" text-anchor="start" fill="#000" stroke="#000" textLength="6.8" lengthAdjust="spacingAndGlyphs">70</text>
<text x="554.2" y="386.5" font-size="10" text-anchor="start" fill="#000" stroke="#000" textLength="7.1" lengthAdjust="spacingAndGlyphs">60</text>
<text x="568" y="386.5" font-size="10" text-anchor="start" fill="#000" stroke="#000" textLength="11" lengthAdjust="spacingAndGlyphs">400</text>
<text x="591.6" y="369.3" font-size="10" text-anchor="start" fill="#000" stroke="#000" textLength="10.1" lengthAdjust="spacingAndGlyphs">500</text>
<text x="613.8" y="352.1" font-size="10" text-anchor="start" fill="#000" stroke="#000" textLength="10.6" lengthAdjust="spacingAndGlyphs">600</text>
<text x="636.6" y="334.7" font-size="10" text-anchor="start" fill="#000" stroke="#000" textLength="10.6" lengthAdjust="spacingAndGlyphs">700</text>
<text x="659" y="318" font-size="10" text-anchor="start" fill="#000" stroke="#000" textLength="11" lengthAdjust="spacingAndGlyphs">800</text>
<text x="430.2" y="374.8" font-size="14" text-anchor="start" fill="#000" stroke="#000" textLength="108.2" lengthAdjust="spacingAndGlyphs">D: Activation Time (Minutes)</text>
<text x="586" y="374.8" font-size="14" text-anchor="start" fill="#000" stroke="#000" textLength="111.6" lengthAdjust="spacingAndGlyphs">C: Activation Temperature (0</text>
<text transform="translate(446.8,305) rotate(-90) scale(0.65,1)" font-size="14.2" stroke="#000" stroke-width="0.2" x="5 19.3 30.8 42 53.2 58 64 68.3 85.1 99.3 111.3 119.1 125.9 137.4 148.2 165.7 180.1 187.1 199.1 217.9 224.4 243.6 255 261 273.6" y="0">SpecificSurfaceArea(m2/g)</text>
<text transform="translate(350.5,28.5) scale(0.5,1)" font-size="10" fill="#000" stroke="#000" stroke-width="0" textLength="128.6" lengthAdjust="spacing">Design-Expert® Software</text>
<text transform="translate(350.5,39) scale(0.5,1)" font-size="10" fill="#000" stroke="#000" stroke-width="0" textLength="109.8" lengthAdjust="spacing">Factor Coding: Actual</text>
<text transform="translate(350.5,49.3) scale(0.5,1)" font-size="10" fill="#000" stroke="#000" stroke-width="0" textLength="146.6" lengthAdjust="spacing">Specific Surface Area (m2/g)</text>
<text transform="translate(350.5,101.7) scale(0.5,1)" font-size="10" fill="#000" stroke="#000" stroke-width="0" textLength="158" lengthAdjust="spacing">X1 = C: Activation Temperature</text>
<text transform="translate(350.5,112) scale(0.5,1)" font-size="10" fill="#000" stroke="#000" stroke-width="0" textLength="119" lengthAdjust="spacing">X2 = D: Activation Time</text>
<text transform="translate(350.5,133.3) scale(0.5,1)" font-size="10" fill="#000" stroke="#000" stroke-width="0" textLength="75" lengthAdjust="spacing">Actual Factors</text>
<text transform="translate(350.5,143.8) scale(0.5,1)" font-size="10" fill="#000" stroke="#000" stroke-width="0" textLength="141.4" lengthAdjust="spacing">A: Concentration = 76.9112</text>
<text transform="translate(350.5,154) scale(0.5,1)" font-size="10" fill="#000" stroke="#000" stroke-width="0" textLength="130.6" lengthAdjust="spacing">B: Impregnation Ratio = 4</text>
<rect x="351.9" y="53.3" width="3.7" height="27.4" fill="url(#cb)" stroke="#000" stroke-width=".7"/>
<text x="357.7" y="59.9" font-size="10.5" text-anchor="start" fill="#ff0000" stroke="#ff0000" textLength="12.3" lengthAdjust="spacingAndGlyphs">1852</text>
<text x="357.7" y="80.5" font-size="10" text-anchor="start" fill="#0000ff" stroke="#0000ff" textLength="11.6" lengthAdjust="spacingAndGlyphs">1394</text>
<text x="382.6" y="329.8" font-family="Liberation Serif" font-weight="bold" font-size="21" textLength="27.8" lengthAdjust="spacingAndGlyphs">(B)</text>
</svg></body></html>
